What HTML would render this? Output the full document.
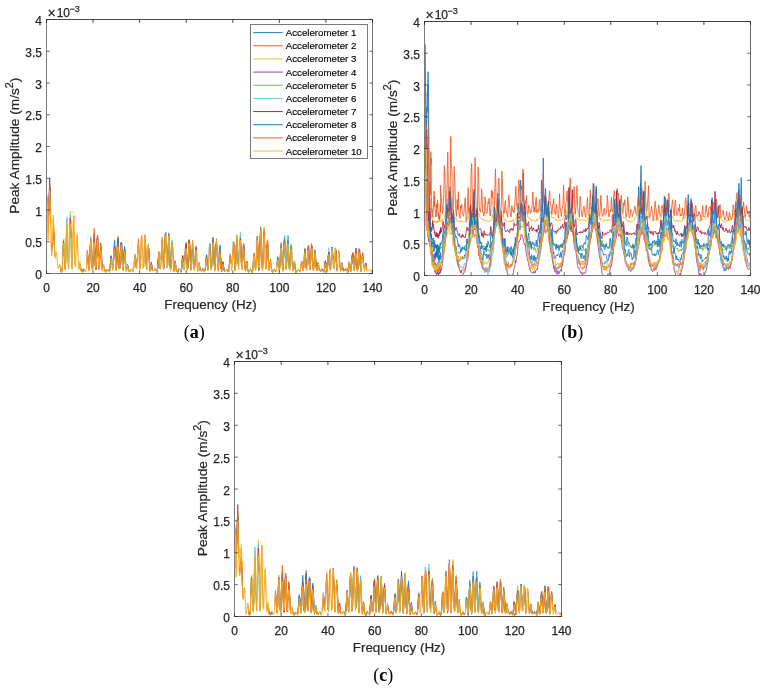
<!DOCTYPE html>
<html><head><meta charset="utf-8"><style>
html,body{margin:0;padding:0;background:#fff;}
svg{display:block;will-change:transform;}
.tk{font-family:"Liberation Sans", sans-serif;font-size:12px;fill:#262626;stroke:#262626;stroke-width:0.25px;}
.lb{font-family:"Liberation Sans", sans-serif;font-size:13.7px;fill:#262626;stroke:#262626;stroke-width:0.2px;}
.lbx{font-family:"Liberation Sans", sans-serif;font-size:13.45px;fill:#262626;stroke:#262626;stroke-width:0.2px;}
.lg{font-family:"Liberation Sans", sans-serif;font-size:9.7px;fill:#000;stroke:#000;stroke-width:0.15px;}
.cap{font-family:"Liberation Serif", serif;font-size:18px;fill:#000;}
</style></head><body>
<svg width="765" height="688" viewBox="0 0 765 688">
<rect width="765" height="688" fill="#fff"/>
<defs>
<clipPath id="clip0"><rect x="46.50" y="19.50" width="326.00" height="254.00"/></clipPath>
<clipPath id="clip1"><rect x="424.50" y="21.50" width="326.00" height="254.00"/></clipPath>
<clipPath id="clip2"><rect x="234.50" y="361.50" width="327.00" height="255.00"/></clipPath>
</defs>
<g clip-path="url(#clip0)" fill="none" stroke-linejoin="round">
<polyline points="46.5,195.8 46.7,199.6" stroke="#1a7fd2" stroke-width="0.7"/>
<polyline points="48.5,224.7 48.6,216.8 48.8,209.0 48.9,201.2 49.1,198.2 49.3,195.2 49.4,192.2 49.6,189.2 49.8,186.2 49.9,193.1 50.1,199.9 50.2,206.7" stroke="#1a7fd2" stroke-width="0.7"/>
<polyline points="64.5,260.5 65.1,269.1 65.7,262.1 66.3,235.1 66.9,225.8 67.5,234.8 68.0,257.6 68.6,268.5" stroke="#1a7fd2" stroke-width="0.7"/>
<polyline points="80.3,267.0 80.8,269.8 81.4,270.3 82.0,272.1 82.6,271.6 83.2,269.7 83.8,270.3" stroke="#1a7fd2" stroke-width="0.7"/>
<polyline points="87.2,254.0 87.8,254.4 88.4,266.9" stroke="#1a7fd2" stroke-width="0.7"/>
<polyline points="89.6,265.3 90.2,248.2 90.7,240.8" stroke="#1a7fd2" stroke-width="0.7"/>
<polyline points="91.9,265.9 92.5,268.8 93.1,261.2 93.7,239.9 94.2,239.6 94.8,250.7 95.4,265.9 96.0,268.7 96.6,259.0 97.1,238.2 97.7,237.6 98.3,252.0 98.9,268.7" stroke="#1a7fd2" stroke-width="0.7"/>
<polyline points="100.1,257.8 100.6,243.3 101.2,250.9" stroke="#1a7fd2" stroke-width="0.7"/>
<polyline points="105.9,272.3 106.5,271.3 107.0,269.2 107.6,269.4" stroke="#1a7fd2" stroke-width="0.7"/>
<polyline points="110.0,270.5 110.5,261.7 111.1,256.3 111.7,258.5 112.3,268.2" stroke="#1a7fd2" stroke-width="0.7"/>
<polyline points="113.4,264.9 114.0,250.0 114.6,245.9 115.2,252.0 115.8,267.1 116.4,270.4 116.9,259.2 117.5,242.8 118.1,240.6 118.7,254.9 119.3,266.8 119.9,268.4 120.4,255.5 121.0,245.7 121.6,242.4 122.2,259.4 122.8,269.0 123.3,269.2 123.9,258.2 124.5,249.3 125.1,254.7 125.7,261.8 126.3,271.6" stroke="#1a7fd2" stroke-width="0.7"/>
<polyline points="127.4,264.3 128.0,266.9 128.6,269.9" stroke="#1a7fd2" stroke-width="0.7"/>
<polyline points="131.5,269.8 132.1,268.9 132.7,271.6" stroke="#1a7fd2" stroke-width="0.7"/>
<polyline points="146.0,260.6 146.6,268.9 147.2,269.1" stroke="#1a7fd2" stroke-width="0.7"/>
<polyline points="149.0,252.9 149.5,265.0 150.1,271.3 150.7,268.9 151.3,262.3 151.9,267.0" stroke="#1a7fd2" stroke-width="0.7"/>
<polyline points="155.9,270.4 156.5,270.5 157.1,272.7 157.7,268.1 158.3,259.2 158.9,252.0" stroke="#1a7fd2" stroke-width="0.7"/>
<polyline points="161.2,259.2 161.8,241.5 162.3,239.5 162.9,253.5 163.5,269.0" stroke="#1a7fd2" stroke-width="0.7"/>
<polyline points="164.7,253.4 165.3,237.2 165.8,232.3 166.4,254.0" stroke="#1a7fd2" stroke-width="0.7"/>
<polyline points="167.6,265.9 168.2,246.1 168.8,239.9 169.3,239.1 169.9,257.1 170.5,269.7 171.1,266.1 171.7,249.0 172.2,245.0" stroke="#1a7fd2" stroke-width="0.7"/>
<polyline points="178.1,271.4 178.6,269.0 179.2,268.2" stroke="#1a7fd2" stroke-width="0.7"/>
<polyline points="181.0,271.6 181.6,267.0 182.1,261.9 182.7,256.4 183.3,262.0" stroke="#1a7fd2" stroke-width="0.7"/>
<polyline points="185.0,259.9 185.6,247.7 186.2,246.0 186.8,259.3" stroke="#1a7fd2" stroke-width="0.7"/>
<polyline points="188.5,251.0 189.1,240.4 189.7,246.0 190.3,260.0 190.9,269.5 191.5,265.5 192.0,249.8 192.6,240.1 193.2,246.8 193.8,264.8" stroke="#1a7fd2" stroke-width="0.7"/>
<polyline points="194.9,266.0 195.5,251.1 196.1,245.9 196.7,255.8" stroke="#1a7fd2" stroke-width="0.7"/>
<polyline points="206.0,261.1 206.6,255.7 207.2,263.7 207.8,270.4" stroke="#1a7fd2" stroke-width="0.7"/>
<polyline points="209.5,246.0 210.1,247.7 210.7,261.0" stroke="#1a7fd2" stroke-width="0.7"/>
<polyline points="212.4,251.9 213.0,240.6 213.6,242.8 214.2,260.3 214.7,270.1 215.3,265.5 215.9,249.0 216.5,240.1" stroke="#1a7fd2" stroke-width="0.7"/>
<polyline points="219.4,253.6 220.0,246.9 220.6,257.2 221.1,268.4" stroke="#1a7fd2" stroke-width="0.7"/>
<polyline points="222.9,263.9 223.5,266.2 224.1,270.9" stroke="#1a7fd2" stroke-width="0.7"/>
<polyline points="228.7,272.1 229.3,264.9 229.9,259.8 230.5,257.4" stroke="#1a7fd2" stroke-width="0.7"/>
<polyline points="232.8,254.9 233.4,242.2 233.9,248.0" stroke="#1a7fd2" stroke-width="0.7"/>
<polyline points="235.7,264.0 236.3,245.9 236.9,239.8 237.4,243.1 238.0,262.9" stroke="#1a7fd2" stroke-width="0.7"/>
<polyline points="240.4,239.6 240.9,247.0 241.5,265.1" stroke="#1a7fd2" stroke-width="0.7"/>
<polyline points="242.7,261.7 243.3,245.4 243.8,244.4 244.4,257.5 245.0,268.9 245.6,271.1 246.2,263.2 246.8,261.2 247.3,267.1 247.9,269.6 248.5,272.2 249.1,270.8 249.7,272.1" stroke="#1a7fd2" stroke-width="0.7"/>
<polyline points="250.8,270.2 251.4,270.7 252.0,270.7" stroke="#1a7fd2" stroke-width="0.7"/>
<polyline points="253.7,256.1 254.3,253.9 254.9,263.1 255.5,270.3" stroke="#1a7fd2" stroke-width="0.7"/>
<polyline points="256.7,251.5 257.2,236.0 257.8,247.3 258.4,261.9 259.0,269.2 259.6,260.4 260.1,241.3 260.7,226.8 261.3,245.8 261.9,262.7 262.5,269.2 263.1,258.3 263.6,235.9 264.2,228.2 264.8,248.4" stroke="#1a7fd2" stroke-width="0.7"/>
<polyline points="266.6,259.3 267.1,244.4 267.7,244.8 268.3,256.7 268.9,269.0 269.5,269.2 270.0,261.8 270.6,260.6" stroke="#1a7fd2" stroke-width="0.7"/>
<polyline points="272.4,272.0 273.0,270.8 273.5,270.0" stroke="#1a7fd2" stroke-width="0.7"/>
<polyline points="277.0,266.4 277.6,257.2 278.2,258.7 278.8,267.0 279.4,270.2 279.9,266.3 280.5,253.6 281.1,246.0 281.7,249.8 282.3,265.0" stroke="#1a7fd2" stroke-width="0.7"/>
<polyline points="283.4,261.4 284.0,241.7 284.6,235.9 285.2,251.4 285.8,264.0 286.3,269.5 286.9,258.8 287.5,242.8 288.1,235.5 288.7,252.1 289.3,267.0 289.8,269.0 290.4,256.1 291.0,244.4 291.6,247.3 292.2,260.9 292.7,270.0 293.3,270.4" stroke="#1a7fd2" stroke-width="0.7"/>
<polyline points="294.5,262.7 295.1,266.8 295.7,273.2" stroke="#1a7fd2" stroke-width="0.7"/>
<polyline points="305.0,256.2 305.6,258.3 306.1,268.8" stroke="#1a7fd2" stroke-width="0.7"/>
<polyline points="307.9,249.9 308.5,247.0 309.0,257.5 309.6,268.9" stroke="#1a7fd2" stroke-width="0.7"/>
<polyline points="315.4,257.9 316.0,264.4 316.6,271.0 317.2,269.7 317.8,264.0 318.4,263.5" stroke="#1a7fd2" stroke-width="0.7"/>
<polyline points="320.7,271.8 321.3,269.4 321.9,270.4" stroke="#1a7fd2" stroke-width="0.7"/>
<polyline points="323.6,272.3 324.2,270.8 324.8,267.3 325.3,261.7 325.9,265.2 326.5,269.7 327.1,270.9 327.7,264.3 328.3,255.5 328.8,252.7 329.4,259.7" stroke="#1a7fd2" stroke-width="0.7"/>
<polyline points="330.6,269.2 331.2,260.0 331.8,248.5 332.3,248.5 332.9,258.6" stroke="#1a7fd2" stroke-width="0.7"/>
<polyline points="335.2,250.5 335.8,250.4 336.4,263.4 337.0,269.1 337.6,269.1" stroke="#1a7fd2" stroke-width="0.7"/>
<polyline points="340.5,271.4 341.1,268.9 341.6,263.5 342.2,263.5 342.8,267.8 343.4,270.2" stroke="#1a7fd2" stroke-width="0.7"/>
<polyline points="345.1,270.4 345.7,269.2 346.3,270.0" stroke="#1a7fd2" stroke-width="0.7"/>
<polyline points="347.5,272.8 348.1,270.5 348.6,266.3" stroke="#1a7fd2" stroke-width="0.7"/>
<polyline points="351.5,264.9 352.1,255.7 352.7,253.0 353.3,260.3 353.9,269.7 354.5,268.7 355.0,259.7 355.6,248.5 356.2,250.4 356.8,261.0 357.4,269.5 357.9,268.2 358.5,257.3 359.1,249.7 359.7,249.1 360.3,263.9 360.9,269.9 361.4,268.3 362.0,257.3 362.6,253.4 363.2,256.0 363.8,267.8" stroke="#1a7fd2" stroke-width="0.7"/>
<polyline points="365.5,265.0 366.1,263.7 366.7,269.0" stroke="#1a7fd2" stroke-width="0.7"/>
<polyline points="46.5,196.7 46.7,200.9" stroke="#f2621c" stroke-width="0.8"/>
<polyline points="49.4,195.7 49.6,192.4 49.8,189.1 49.9,196.0" stroke="#f2621c" stroke-width="0.8"/>
<polyline points="61.3,272.2 61.5,269.4 61.7,271.0 61.8,271.0 62.0,270.0 62.1,269.2 62.3,269.9" stroke="#f2621c" stroke-width="0.8"/>
<polyline points="80.3,266.7 80.8,270.2 81.4,271.5" stroke="#f2621c" stroke-width="0.8"/>
<polyline points="82.6,271.6 83.2,269.5 83.8,271.4" stroke="#f2621c" stroke-width="0.8"/>
<polyline points="87.8,258.1 88.4,264.1 89.0,270.6" stroke="#f2621c" stroke-width="0.8"/>
<polyline points="91.3,248.7 91.9,263.5 92.5,270.3 93.1,259.1 93.7,242.9 94.2,234.1 94.8,250.6 95.4,265.4 96.0,268.7 96.6,257.5 97.1,239.1 97.7,238.1 98.3,254.6 98.9,267.3 99.5,268.6" stroke="#f2621c" stroke-width="0.8"/>
<polyline points="100.6,249.5 101.2,248.2 101.8,262.4 102.4,269.9 103.0,270.7" stroke="#f2621c" stroke-width="0.8"/>
<polyline points="110.5,262.7 111.1,256.5 111.7,258.7 112.3,267.2" stroke="#f2621c" stroke-width="0.8"/>
<polyline points="114.0,251.8 114.6,246.0 115.2,253.9 115.8,264.4 116.4,269.9 116.9,260.8 117.5,244.0 118.1,236.1 118.7,253.4 119.3,267.1 119.9,268.6 120.4,257.9 121.0,243.3 121.6,243.4 122.2,258.1 122.8,269.6 123.3,269.2 123.9,255.3 124.5,247.2 125.1,254.1" stroke="#f2621c" stroke-width="0.8"/>
<polyline points="126.3,271.1 126.8,268.3 127.4,265.8 128.0,266.1 128.6,271.3 129.2,271.0 129.7,270.6 130.3,271.5" stroke="#f2621c" stroke-width="0.8"/>
<polyline points="131.5,270.5 132.1,269.3 132.7,270.9" stroke="#f2621c" stroke-width="0.8"/>
<polyline points="135.0,257.5 135.6,258.8 136.2,267.9" stroke="#f2621c" stroke-width="0.8"/>
<polyline points="149.0,251.4 149.5,264.9 150.1,270.6" stroke="#f2621c" stroke-width="0.8"/>
<polyline points="151.3,264.8 151.9,266.2 152.4,270.0" stroke="#f2621c" stroke-width="0.8"/>
<polyline points="155.4,268.3 155.9,269.5 156.5,270.6 157.1,271.6" stroke="#f2621c" stroke-width="0.8"/>
<polyline points="158.9,254.5 159.4,257.1 160.0,269.0" stroke="#f2621c" stroke-width="0.8"/>
<polyline points="161.2,258.9 161.8,243.3 162.3,239.8 162.9,252.9 163.5,269.8" stroke="#f2621c" stroke-width="0.8"/>
<polyline points="165.3,237.6 165.8,233.2 166.4,254.1" stroke="#f2621c" stroke-width="0.8"/>
<polyline points="167.6,265.6 168.2,248.0 168.8,238.9 169.3,240.1 169.9,258.1 170.5,268.8 171.1,265.1" stroke="#f2621c" stroke-width="0.8"/>
<polyline points="173.4,265.5 174.0,269.9 174.6,267.2 175.2,261.0 175.7,265.8 176.3,270.7 176.9,270.8 177.5,271.4 178.1,270.6 178.6,268.7 179.2,269.6" stroke="#f2621c" stroke-width="0.8"/>
<polyline points="181.0,271.4 181.6,267.0 182.1,259.3 182.7,257.5 183.3,260.3 183.9,269.0" stroke="#f2621c" stroke-width="0.8"/>
<polyline points="185.0,261.3 185.6,244.1 186.2,242.4 186.8,257.8 187.4,268.7 188.0,267.0 188.5,252.3 189.1,241.9 189.7,245.6 190.3,257.1 190.9,269.0 191.5,265.9" stroke="#f2621c" stroke-width="0.8"/>
<polyline points="193.2,248.5 193.8,262.6 194.4,270.3" stroke="#f2621c" stroke-width="0.8"/>
<polyline points="195.5,253.4 196.1,247.2 196.7,255.6" stroke="#f2621c" stroke-width="0.8"/>
<polyline points="199.0,264.2 199.6,266.1 200.2,270.1" stroke="#f2621c" stroke-width="0.8"/>
<polyline points="202.5,270.3 203.1,268.7 203.7,269.8 204.3,271.3 204.8,271.7 205.4,268.2 206.0,258.9 206.6,256.7 207.2,264.3 207.8,270.1" stroke="#f2621c" stroke-width="0.8"/>
<polyline points="209.5,245.8 210.1,243.9 210.7,261.2" stroke="#f2621c" stroke-width="0.8"/>
<polyline points="213.0,244.0 213.6,244.7 214.2,261.1 214.7,269.2 215.3,263.9 215.9,248.1 216.5,243.3 217.1,249.8 217.7,263.6 218.2,271.3 218.8,263.5 219.4,250.7 220.0,247.1 220.6,257.4 221.1,269.5" stroke="#f2621c" stroke-width="0.8"/>
<polyline points="222.3,267.7 222.9,261.9 223.5,266.2 224.1,270.7" stroke="#f2621c" stroke-width="0.8"/>
<polyline points="228.7,272.0 229.3,264.9 229.9,260.4 230.5,255.3 231.0,262.7" stroke="#f2621c" stroke-width="0.8"/>
<polyline points="233.4,243.7 233.9,242.5 234.5,261.7 235.1,270.3 235.7,263.4" stroke="#f2621c" stroke-width="0.8"/>
<polyline points="236.9,235.2 237.4,238.8 238.0,260.2 238.6,269.8" stroke="#f2621c" stroke-width="0.8"/>
<polyline points="239.8,247.0 240.4,239.1 240.9,246.4 241.5,266.3" stroke="#f2621c" stroke-width="0.8"/>
<polyline points="243.3,249.6 243.8,243.4 244.4,256.8 245.0,268.7 245.6,269.9 246.2,265.6 246.8,261.8 247.3,268.2" stroke="#f2621c" stroke-width="0.8"/>
<polyline points="250.8,270.0 251.4,270.6 252.0,272.2" stroke="#f2621c" stroke-width="0.8"/>
<polyline points="253.7,255.2 254.3,254.8 254.9,262.7 255.5,269.7" stroke="#f2621c" stroke-width="0.8"/>
<polyline points="257.2,241.1 257.8,244.4 258.4,261.9 259.0,269.6 259.6,262.1 260.1,236.4 260.7,231.7" stroke="#f2621c" stroke-width="0.8"/>
<polyline points="263.6,241.2 264.2,233.7 264.8,248.4" stroke="#f2621c" stroke-width="0.8"/>
<polyline points="266.6,260.5 267.1,243.9 267.7,242.0 268.3,257.2 268.9,268.3 269.5,270.6" stroke="#f2621c" stroke-width="0.8"/>
<polyline points="271.2,267.3 271.8,269.4 272.4,272.7 273.0,271.5 273.5,270.8" stroke="#f2621c" stroke-width="0.8"/>
<polyline points="282.3,265.7 282.9,270.2 283.4,264.6" stroke="#f2621c" stroke-width="0.8"/>
<polyline points="285.2,254.0 285.8,265.4 286.3,270.0" stroke="#f2621c" stroke-width="0.8"/>
<polyline points="288.7,258.0 289.3,267.5 289.8,270.6" stroke="#f2621c" stroke-width="0.8"/>
<polyline points="295.7,271.5 296.2,270.0 296.8,272.4" stroke="#f2621c" stroke-width="0.8"/>
<polyline points="299.7,271.7 300.3,270.4 300.9,266.9 301.5,261.7 302.1,262.9 302.6,267.0" stroke="#f2621c" stroke-width="0.8"/>
<polyline points="303.8,267.7 304.4,254.2 305.0,248.8 305.6,258.1 306.1,267.2" stroke="#f2621c" stroke-width="0.8"/>
<polyline points="307.9,249.5 308.5,245.6 309.0,254.6 309.6,268.1" stroke="#f2621c" stroke-width="0.8"/>
<polyline points="310.8,260.2 311.4,243.5 312.0,246.7 312.5,259.0 313.1,269.1 313.7,270.8 314.3,258.5 314.9,253.9 315.4,256.5 316.0,263.3 316.6,269.3 317.2,270.2 317.8,264.4 318.4,262.3" stroke="#f2621c" stroke-width="0.8"/>
<polyline points="324.8,267.3 325.3,262.5 325.9,263.1 326.5,269.2" stroke="#f2621c" stroke-width="0.8"/>
<polyline points="340.5,270.0 341.1,268.8 341.6,264.9 342.2,264.8 342.8,268.4 343.4,270.3" stroke="#f2621c" stroke-width="0.8"/>
<polyline points="345.1,269.8 345.7,269.5 346.3,270.4" stroke="#f2621c" stroke-width="0.8"/>
<polyline points="347.5,270.5 348.1,271.4 348.6,266.9" stroke="#f2621c" stroke-width="0.8"/>
<polyline points="350.4,270.2 351.0,270.5 351.5,266.1 352.1,257.4 352.7,254.1 353.3,262.5 353.9,268.2 354.5,269.3" stroke="#f2621c" stroke-width="0.8"/>
<polyline points="355.6,254.6 356.2,251.6 356.8,263.7 357.4,270.4 357.9,268.6 358.5,258.7 359.1,250.4 359.7,254.0 360.3,263.8 360.9,270.9" stroke="#f2621c" stroke-width="0.8"/>
<polyline points="46.5,192.0 46.7,196.0 46.8,200.0 47.0,204.0" stroke="#fbb41a" stroke-width="0.7"/>
<polyline points="48.3,233.0 48.5,224.4 48.6,215.8 48.8,207.3 48.9,198.7 49.1,195.7 49.3,192.7 49.4,189.7 49.6,186.8 49.8,183.8 49.9,189.8 50.1,195.9 50.2,201.9 50.4,208.0 50.6,214.0 50.7,221.2 50.9,228.4 51.1,235.6 51.2,242.8 51.4,250.0 51.6,254.4 51.7,251.7 51.9,248.9 52.0,246.2 52.2,243.5 52.4,240.1 52.5,235.1 52.7,230.1 52.9,225.1 53.0,220.1 53.2,215.0 53.3,215.3 53.5,219.5 53.7,223.8 53.8,228.0 54.0,232.3 54.2,236.8 54.3,241.5 54.5,246.2 54.7,250.9 54.8,255.6 55.0,257.4" stroke="#fbb41a" stroke-width="0.7"/>
<polyline points="59.4,265.5 59.5,264.3 59.7,264.4" stroke="#fbb41a" stroke-width="0.7"/>
<polyline points="60.0,266.0 60.2,266.1 60.4,266.6 60.5,268.1 60.7,268.2 60.8,269.4" stroke="#fbb41a" stroke-width="0.7"/>
<polyline points="61.3,270.9 61.5,271.5 61.7,272.2" stroke="#fbb41a" stroke-width="0.7"/>
<polyline points="62.6,260.7 62.8,253.7 63.4,241.5 64.0,238.9 64.5,257.2 65.1,267.8 65.7,262.0 66.3,235.6 66.9,218.9 67.5,228.9 68.0,256.8 68.6,269.1 69.2,256.7 69.8,218.9 70.4,211.1 71.0,234.1 71.5,259.3 72.1,268.0 72.7,250.9 73.3,221.8 73.9,216.5 74.4,240.4 75.0,265.3" stroke="#fbb41a" stroke-width="0.7"/>
<polyline points="76.8,236.7 77.4,233.3 77.9,254.6" stroke="#fbb41a" stroke-width="0.7"/>
<polyline points="79.1,270.2 79.7,261.0 80.3,264.4 80.8,271.1" stroke="#fbb41a" stroke-width="0.7"/>
<polyline points="82.6,272.9 83.2,269.8 83.8,270.8" stroke="#fbb41a" stroke-width="0.7"/>
<polyline points="87.2,254.4 87.8,253.6 88.4,265.0 89.0,269.1 89.6,263.1 90.2,247.4 90.7,238.9 91.3,246.6 91.9,265.1" stroke="#fbb41a" stroke-width="0.7"/>
<polyline points="93.7,244.5 94.2,234.5 94.8,249.7 95.4,266.1 96.0,269.5 96.6,257.6 97.1,241.3 97.7,239.7" stroke="#fbb41a" stroke-width="0.7"/>
<polyline points="100.6,248.5 101.2,250.4 101.8,260.1 102.4,270.6" stroke="#fbb41a" stroke-width="0.7"/>
<polyline points="104.1,266.3 104.7,269.6 105.3,271.1" stroke="#fbb41a" stroke-width="0.7"/>
<polyline points="110.5,263.3 111.1,257.3 111.7,261.0" stroke="#fbb41a" stroke-width="0.7"/>
<polyline points="114.0,254.2 114.6,246.3 115.2,257.0" stroke="#fbb41a" stroke-width="0.7"/>
<polyline points="116.9,261.8 117.5,245.6 118.1,246.1 118.7,255.4 119.3,269.8" stroke="#fbb41a" stroke-width="0.7"/>
<polyline points="120.4,258.3 121.0,244.2 121.6,244.7 122.2,259.7 122.8,269.4 123.3,268.2 123.9,258.9 124.5,252.1" stroke="#fbb41a" stroke-width="0.7"/>
<polyline points="127.4,266.0 128.0,266.6 128.6,271.1" stroke="#fbb41a" stroke-width="0.7"/>
<polyline points="131.5,269.8 132.1,268.6 132.7,272.2" stroke="#fbb41a" stroke-width="0.7"/>
<polyline points="135.0,257.6 135.6,258.5 136.2,267.8" stroke="#fbb41a" stroke-width="0.7"/>
<polyline points="139.1,257.1 139.6,266.6 140.2,268.7 140.8,255.6" stroke="#fbb41a" stroke-width="0.7"/>
<polyline points="147.8,255.7 148.4,243.5 149.0,254.3" stroke="#fbb41a" stroke-width="0.7"/>
<polyline points="157.7,267.3 158.3,257.8 158.9,253.2" stroke="#fbb41a" stroke-width="0.7"/>
<polyline points="161.2,258.3 161.8,240.2 162.3,241.0 162.9,251.7 163.5,269.6 164.1,267.1 164.7,251.1 165.3,238.6" stroke="#fbb41a" stroke-width="0.7"/>
<polyline points="167.6,265.7 168.2,247.1 168.8,235.0 169.3,243.2 169.9,261.3 170.5,268.8 171.1,264.3 171.7,251.0 172.2,240.0 172.8,252.4" stroke="#fbb41a" stroke-width="0.7"/>
<polyline points="176.9,271.9 177.5,271.1 178.1,270.1" stroke="#fbb41a" stroke-width="0.7"/>
<polyline points="181.0,271.3 181.6,268.6 182.1,260.8 182.7,257.7 183.3,262.4" stroke="#fbb41a" stroke-width="0.7"/>
<polyline points="185.6,248.9 186.2,247.2 186.8,260.0 187.4,269.2 188.0,268.1 188.5,257.4 189.1,239.2 189.7,244.0 190.3,261.7 190.9,269.5 191.5,265.6 192.0,252.8" stroke="#fbb41a" stroke-width="0.7"/>
<polyline points="193.8,265.2 194.4,269.6 194.9,265.4" stroke="#fbb41a" stroke-width="0.7"/>
<polyline points="199.0,264.4 199.6,266.1 200.2,269.5" stroke="#fbb41a" stroke-width="0.7"/>
<polyline points="201.3,271.1 201.9,269.8 202.5,270.6" stroke="#fbb41a" stroke-width="0.7"/>
<polyline points="205.4,266.5 206.0,259.6 206.6,255.0 207.2,263.8 207.8,269.7" stroke="#fbb41a" stroke-width="0.7"/>
<polyline points="209.5,248.2 210.1,245.9 210.7,261.2 211.2,269.5 211.8,266.1 212.4,251.9 213.0,240.7 213.6,247.7 214.2,261.8 214.7,270.4" stroke="#fbb41a" stroke-width="0.7"/>
<polyline points="215.9,251.0 216.5,238.8 217.1,248.6 217.7,264.6" stroke="#fbb41a" stroke-width="0.7"/>
<polyline points="219.4,252.3 220.0,247.9 220.6,258.2 221.1,268.2" stroke="#fbb41a" stroke-width="0.7"/>
<polyline points="222.9,263.1 223.5,266.6 224.1,271.0" stroke="#fbb41a" stroke-width="0.7"/>
<polyline points="225.2,271.5 225.8,269.7 226.4,270.1 227.0,269.3 227.5,269.9 228.1,272.4" stroke="#fbb41a" stroke-width="0.7"/>
<polyline points="247.3,268.8 247.9,270.5 248.5,272.8 249.1,270.8 249.7,270.5 250.2,267.5 250.8,269.9 251.4,271.1 252.0,272.3 252.6,272.7 253.2,264.3 253.7,255.2 254.3,254.1 254.9,264.6 255.5,269.5 256.1,264.6 256.7,250.7" stroke="#fbb41a" stroke-width="0.7"/>
<polyline points="257.8,247.1 258.4,260.8 259.0,270.3 259.6,260.8 260.1,240.9 260.7,228.8 261.3,241.8 261.9,262.2 262.5,268.2 263.1,257.7 263.6,235.5 264.2,226.6 264.8,248.0" stroke="#fbb41a" stroke-width="0.7"/>
<polyline points="266.0,269.0 266.6,255.9 267.1,246.6 267.7,239.2 268.3,258.1 268.9,269.4 269.5,269.4 270.0,262.4 270.6,260.3" stroke="#fbb41a" stroke-width="0.7"/>
<polyline points="272.4,272.5 273.0,271.6 273.5,270.3" stroke="#fbb41a" stroke-width="0.7"/>
<polyline points="277.0,267.4 277.6,258.7 278.2,260.4" stroke="#fbb41a" stroke-width="0.7"/>
<polyline points="279.4,271.8 279.9,265.1 280.5,253.8 281.1,242.3 281.7,253.4 282.3,265.0 282.9,269.8 283.4,260.5 284.0,242.5 284.6,239.1 285.2,249.6 285.8,265.4 286.3,269.3 286.9,258.0 287.5,242.5 288.1,242.1 288.7,253.3 289.3,267.8 289.8,268.2 290.4,257.4 291.0,246.3 291.6,250.9 292.2,260.5 292.7,271.2 293.3,268.6 293.9,263.4 294.5,261.2 295.1,267.3 295.7,270.2 296.2,272.2 296.8,271.0" stroke="#fbb41a" stroke-width="0.7"/>
<polyline points="298.0,271.2 298.6,268.7 299.1,270.6" stroke="#fbb41a" stroke-width="0.7"/>
<polyline points="305.0,256.1 305.6,258.7 306.1,267.9" stroke="#fbb41a" stroke-width="0.7"/>
<polyline points="314.9,256.4 315.4,257.4 316.0,266.9 316.6,270.3 317.2,268.3 317.8,265.7" stroke="#fbb41a" stroke-width="0.7"/>
<polyline points="323.0,271.4 323.6,271.1 324.2,270.4 324.8,267.4" stroke="#fbb41a" stroke-width="0.7"/>
<polyline points="326.5,269.1 327.1,270.0 327.7,267.6 328.3,257.9 328.8,251.7 329.4,259.5" stroke="#fbb41a" stroke-width="0.7"/>
<polyline points="330.6,269.4 331.2,260.7 331.8,251.1 332.3,249.1 332.9,259.2" stroke="#fbb41a" stroke-width="0.7"/>
<polyline points="335.8,252.1 336.4,263.1 337.0,270.4" stroke="#fbb41a" stroke-width="0.7"/>
<polyline points="340.5,271.0 341.1,268.2 341.6,265.2" stroke="#fbb41a" stroke-width="0.7"/>
<polyline points="344.6,271.1 345.1,269.2 345.7,270.5" stroke="#fbb41a" stroke-width="0.7"/>
<polyline points="347.5,271.9 348.1,270.4 348.6,268.0" stroke="#fbb41a" stroke-width="0.7"/>
<polyline points="350.4,269.7 351.0,269.3 351.5,265.1 352.1,255.6 352.7,257.4 353.3,263.7 353.9,268.7 354.5,270.1" stroke="#fbb41a" stroke-width="0.7"/>
<polyline points="356.2,254.3 356.8,262.4 357.4,269.4 357.9,269.2" stroke="#fbb41a" stroke-width="0.7"/>
<polyline points="359.7,255.9 360.3,264.7 360.9,271.7" stroke="#fbb41a" stroke-width="0.7"/>
<polyline points="364.9,269.2 365.5,263.6 366.1,265.1" stroke="#fbb41a" stroke-width="0.7"/>
<polyline points="46.5,197.8 46.7,201.2" stroke="#8e3c9e" stroke-width="0.7"/>
<polyline points="48.6,217.5 48.8,209.4 48.9,201.4 49.1,198.9 49.3,196.4 49.4,193.9 49.6,191.3 49.8,188.8 49.9,194.5 50.1,200.1 50.2,205.8 50.4,211.5 50.6,217.1" stroke="#8e3c9e" stroke-width="0.7"/>
<polyline points="54.0,236.0 54.2,239.8 54.3,244.1" stroke="#8e3c9e" stroke-width="0.7"/>
<polyline points="60.8,269.9 61.0,269.0 61.2,269.5 61.3,272.3 61.5,271.6 61.7,270.9" stroke="#8e3c9e" stroke-width="0.7"/>
<polyline points="80.3,266.4 80.8,268.4 81.4,271.1" stroke="#8e3c9e" stroke-width="0.7"/>
<polyline points="87.8,256.2 88.4,265.2 89.0,269.4 89.6,264.5 90.2,247.8 90.7,242.6 91.3,247.2 91.9,265.8 92.5,269.6 93.1,259.0 93.7,239.2 94.2,235.7 94.8,248.4 95.4,265.9 96.0,269.7 96.6,257.1 97.1,239.3 97.7,237.8 98.3,253.6 98.9,268.1" stroke="#8e3c9e" stroke-width="0.7"/>
<polyline points="100.1,255.7 100.6,247.2 101.2,251.3 101.8,261.1 102.4,271.3" stroke="#8e3c9e" stroke-width="0.7"/>
<polyline points="104.1,266.6 104.7,269.6 105.3,272.2" stroke="#8e3c9e" stroke-width="0.7"/>
<polyline points="110.0,269.7 110.5,262.3 111.1,257.2 111.7,260.9" stroke="#8e3c9e" stroke-width="0.7"/>
<polyline points="114.6,250.0 115.2,255.3 115.8,268.2" stroke="#8e3c9e" stroke-width="0.7"/>
<polyline points="116.9,262.8 117.5,244.1 118.1,245.1 118.7,255.5 119.3,268.9 119.9,267.5 120.4,259.7" stroke="#8e3c9e" stroke-width="0.7"/>
<polyline points="122.2,261.6 122.8,269.5 123.3,269.0" stroke="#8e3c9e" stroke-width="0.7"/>
<polyline points="127.4,266.0 128.0,267.0 128.6,270.1 129.2,271.0 129.7,270.5 130.3,271.9" stroke="#8e3c9e" stroke-width="0.7"/>
<polyline points="133.8,268.3 134.4,259.7 135.0,255.2 135.6,258.7 136.2,266.4" stroke="#8e3c9e" stroke-width="0.7"/>
<polyline points="138.5,246.5 139.1,250.2 139.6,267.8 140.2,268.5 140.8,255.8" stroke="#8e3c9e" stroke-width="0.7"/>
<polyline points="143.7,266.9 144.3,249.8 144.9,234.7 145.5,244.1 146.0,256.8 146.6,269.6" stroke="#8e3c9e" stroke-width="0.7"/>
<polyline points="147.8,253.7 148.4,244.8 149.0,253.1 149.5,263.8 150.1,270.7" stroke="#8e3c9e" stroke-width="0.7"/>
<polyline points="157.7,268.7 158.3,259.0 158.9,255.5" stroke="#8e3c9e" stroke-width="0.7"/>
<polyline points="169.9,263.0 170.5,269.8 171.1,267.0" stroke="#8e3c9e" stroke-width="0.7"/>
<polyline points="173.4,265.4 174.0,270.6 174.6,266.8" stroke="#8e3c9e" stroke-width="0.7"/>
<polyline points="176.3,269.9 176.9,270.5 177.5,272.5 178.1,270.5 178.6,269.4 179.2,269.0" stroke="#8e3c9e" stroke-width="0.7"/>
<polyline points="181.0,271.6 181.6,269.0 182.1,261.8 182.7,256.9 183.3,262.4" stroke="#8e3c9e" stroke-width="0.7"/>
<polyline points="189.1,244.8 189.7,246.5 190.3,261.6 190.9,269.3 191.5,266.9" stroke="#8e3c9e" stroke-width="0.7"/>
<polyline points="196.7,255.3 197.3,267.1 197.9,271.6" stroke="#8e3c9e" stroke-width="0.7"/>
<polyline points="201.9,270.9 202.5,268.3 203.1,269.4 203.7,270.4 204.3,271.3 204.8,271.0 205.4,267.2 206.0,259.9 206.6,255.5 207.2,265.0" stroke="#8e3c9e" stroke-width="0.7"/>
<polyline points="217.7,264.7 218.2,268.8 218.8,263.6 219.4,254.0 220.0,251.8 220.6,258.4 221.1,268.2 221.7,270.4 222.3,266.8 222.9,262.1 223.5,269.0" stroke="#8e3c9e" stroke-width="0.7"/>
<polyline points="227.0,269.6 227.5,270.5 228.1,272.1" stroke="#8e3c9e" stroke-width="0.7"/>
<polyline points="250.8,270.0 251.4,270.7 252.0,270.5" stroke="#8e3c9e" stroke-width="0.7"/>
<polyline points="257.2,240.4 257.8,244.6 258.4,261.8 259.0,269.6 259.6,261.7 260.1,239.7 260.7,231.1 261.3,244.0 261.9,262.2 262.5,270.8 263.1,259.9 263.6,239.9 264.2,238.0" stroke="#8e3c9e" stroke-width="0.7"/>
<polyline points="265.4,266.1 266.0,268.4 266.6,257.5 267.1,246.6 267.7,244.7 268.3,257.3 268.9,268.8 269.5,268.9" stroke="#8e3c9e" stroke-width="0.7"/>
<polyline points="272.4,271.1 273.0,271.1 273.5,270.4" stroke="#8e3c9e" stroke-width="0.7"/>
<polyline points="294.5,263.3 295.1,267.2 295.7,272.0 296.2,272.3 296.8,270.9" stroke="#8e3c9e" stroke-width="0.7"/>
<polyline points="301.5,262.8 302.1,263.0 302.6,269.7" stroke="#8e3c9e" stroke-width="0.7"/>
<polyline points="314.9,254.8 315.4,256.2 316.0,265.4" stroke="#8e3c9e" stroke-width="0.7"/>
<polyline points="318.4,263.7 318.9,267.5 319.5,270.5" stroke="#8e3c9e" stroke-width="0.7"/>
<polyline points="323.0,270.9 323.6,271.5 324.2,270.3 324.8,267.3 325.3,261.0 325.9,263.0 326.5,267.8 327.1,270.7 327.7,264.9 328.3,256.7 328.8,251.8 329.4,259.3" stroke="#8e3c9e" stroke-width="0.7"/>
<polyline points="331.8,248.8 332.3,248.0 332.9,259.1" stroke="#8e3c9e" stroke-width="0.7"/>
<polyline points="335.2,251.8 335.8,251.4 336.4,260.2 337.0,270.8" stroke="#8e3c9e" stroke-width="0.7"/>
<polyline points="340.5,271.2 341.1,268.9 341.6,263.2" stroke="#8e3c9e" stroke-width="0.7"/>
<polyline points="347.5,271.2 348.1,270.7 348.6,266.1 349.2,263.6 349.8,262.8 350.4,270.3 351.0,270.5 351.5,265.6 352.1,256.8 352.7,253.4 353.3,262.1 353.9,270.3 354.5,268.9 355.0,260.9 355.6,251.9 356.2,248.0 356.8,260.7 357.4,269.5 357.9,268.6 358.5,259.3 359.1,249.0 359.7,250.8 360.3,264.2 360.9,271.1" stroke="#8e3c9e" stroke-width="0.7"/>
<polyline points="362.0,259.2 362.6,253.0 363.2,258.2 363.8,266.8" stroke="#8e3c9e" stroke-width="0.7"/>
<polyline points="365.5,264.4 366.1,264.4 366.7,269.2" stroke="#8e3c9e" stroke-width="0.7"/>
<polyline points="46.5,199.8 46.7,203.0" stroke="#80b838" stroke-width="0.7"/>
<polyline points="49.4,195.0 49.6,192.3 49.8,189.7 49.9,196.1" stroke="#80b838" stroke-width="0.7"/>
<polyline points="59.9,265.0 60.0,265.3 60.2,266.7" stroke="#80b838" stroke-width="0.7"/>
<polyline points="60.8,269.7 61.0,269.3 61.2,271.6" stroke="#80b838" stroke-width="0.7"/>
<polyline points="62.3,267.8 62.5,264.1 62.6,261.5 62.8,253.9 63.4,239.9 64.0,247.7 64.5,258.9 65.1,268.4 65.7,262.7 66.3,239.8 66.9,228.1" stroke="#80b838" stroke-width="0.7"/>
<polyline points="69.8,229.4 70.4,216.6 71.0,236.5 71.5,259.3 72.1,268.3 72.7,254.5" stroke="#80b838" stroke-width="0.7"/>
<polyline points="93.7,245.7 94.2,240.2 94.8,253.9" stroke="#80b838" stroke-width="0.7"/>
<polyline points="96.6,259.4 97.1,240.4 97.7,241.0" stroke="#80b838" stroke-width="0.7"/>
<polyline points="100.1,260.6 100.6,248.5 101.2,253.4 101.8,264.2 102.4,270.1 103.0,270.0" stroke="#80b838" stroke-width="0.7"/>
<polyline points="110.5,262.7 111.1,256.9 111.7,259.9" stroke="#80b838" stroke-width="0.7"/>
<polyline points="114.0,251.0 114.6,245.0 115.2,255.2 115.8,264.7 116.4,269.7 116.9,259.3 117.5,244.2 118.1,239.2 118.7,255.9 119.3,267.6 119.9,268.9" stroke="#80b838" stroke-width="0.7"/>
<polyline points="121.0,247.4 121.6,243.5 122.2,258.4 122.8,270.0 123.3,268.2 123.9,257.2 124.5,250.8 125.1,253.8 125.7,264.6 126.3,270.6 126.8,268.5 127.4,264.4 128.0,266.2 128.6,271.0" stroke="#80b838" stroke-width="0.7"/>
<polyline points="135.0,256.9 135.6,259.4 136.2,267.4" stroke="#80b838" stroke-width="0.7"/>
<polyline points="143.7,267.3 144.3,251.8 144.9,238.8" stroke="#80b838" stroke-width="0.7"/>
<polyline points="147.8,253.1 148.4,244.3 149.0,252.5" stroke="#80b838" stroke-width="0.7"/>
<polyline points="151.3,264.1 151.9,265.8 152.4,270.5" stroke="#80b838" stroke-width="0.7"/>
<polyline points="157.7,268.2 158.3,258.8 158.9,255.0" stroke="#80b838" stroke-width="0.7"/>
<polyline points="164.1,268.0 164.7,252.8 165.3,235.0 165.8,235.0" stroke="#80b838" stroke-width="0.7"/>
<polyline points="167.6,264.9 168.2,249.4 168.8,238.2 169.3,243.3 169.9,258.7 170.5,270.3" stroke="#80b838" stroke-width="0.7"/>
<polyline points="171.7,252.8 172.2,242.1 172.8,249.1" stroke="#80b838" stroke-width="0.7"/>
<polyline points="174.6,267.1 175.2,261.7 175.7,266.1" stroke="#80b838" stroke-width="0.7"/>
<polyline points="181.0,272.8 181.6,267.6 182.1,261.2 182.7,255.5 183.3,261.8" stroke="#80b838" stroke-width="0.7"/>
<polyline points="184.5,269.3 185.0,257.6 185.6,244.3 186.2,244.9 186.8,257.4 187.4,270.1 188.0,267.0 188.5,250.8 189.1,239.5 189.7,242.3 190.3,258.8 190.9,269.4 191.5,265.3 192.0,248.7" stroke="#80b838" stroke-width="0.7"/>
<polyline points="194.9,264.0 195.5,250.6 196.1,249.5" stroke="#80b838" stroke-width="0.7"/>
<polyline points="199.0,261.8 199.6,265.8 200.2,269.6" stroke="#80b838" stroke-width="0.7"/>
<polyline points="201.9,270.3 202.5,268.5 203.1,269.8" stroke="#80b838" stroke-width="0.7"/>
<polyline points="206.6,258.9 207.2,263.8 207.8,271.3" stroke="#80b838" stroke-width="0.7"/>
<polyline points="209.5,247.8 210.1,248.4 210.7,261.1" stroke="#80b838" stroke-width="0.7"/>
<polyline points="213.0,248.6 213.6,246.8 214.2,262.6 214.7,269.9 215.3,265.1 215.9,248.3 216.5,238.6 217.1,248.4 217.7,266.1" stroke="#80b838" stroke-width="0.7"/>
<polyline points="219.4,252.3 220.0,251.4 220.6,258.4 221.1,267.8 221.7,271.1" stroke="#80b838" stroke-width="0.7"/>
<polyline points="229.3,267.6 229.9,259.5 230.5,257.3" stroke="#80b838" stroke-width="0.7"/>
<polyline points="234.5,260.7 235.1,270.4 235.7,264.7" stroke="#80b838" stroke-width="0.7"/>
<polyline points="236.9,238.5 237.4,245.6 238.0,262.4" stroke="#80b838" stroke-width="0.7"/>
<polyline points="239.8,245.4 240.4,235.7 240.9,250.6 241.5,267.0" stroke="#80b838" stroke-width="0.7"/>
<polyline points="243.3,250.1 243.8,246.3 244.4,259.4 245.0,268.1 245.6,270.6 246.2,264.5 246.8,261.1 247.3,267.6 247.9,270.3 248.5,272.6" stroke="#80b838" stroke-width="0.7"/>
<polyline points="257.8,246.3 258.4,261.6 259.0,269.0" stroke="#80b838" stroke-width="0.7"/>
<polyline points="261.9,265.8 262.5,269.0 263.1,258.5" stroke="#80b838" stroke-width="0.7"/>
<polyline points="267.7,248.9 268.3,258.2 268.9,270.5" stroke="#80b838" stroke-width="0.7"/>
<polyline points="270.6,262.3 271.2,266.1 271.8,270.7" stroke="#80b838" stroke-width="0.7"/>
<polyline points="277.0,267.9 277.6,259.3 278.2,258.5 278.8,267.2 279.4,270.4 279.9,263.0 280.5,254.3 281.1,246.7 281.7,251.7" stroke="#80b838" stroke-width="0.7"/>
<polyline points="282.9,270.6 283.4,260.0 284.0,245.2 284.6,239.9 285.2,254.0 285.8,263.8 286.3,269.8 286.9,259.6 287.5,241.9 288.1,245.5 288.7,255.2 289.3,268.8" stroke="#80b838" stroke-width="0.7"/>
<polyline points="290.4,259.8 291.0,245.3 291.6,249.9" stroke="#80b838" stroke-width="0.7"/>
<polyline points="292.7,271.1 293.3,268.6 293.9,263.6 294.5,261.7 295.1,266.5 295.7,270.1 296.2,271.1 296.8,271.1" stroke="#80b838" stroke-width="0.7"/>
<polyline points="305.0,251.7 305.6,259.0 306.1,268.3" stroke="#80b838" stroke-width="0.7"/>
<polyline points="307.9,249.5 308.5,248.5 309.0,258.8" stroke="#80b838" stroke-width="0.7"/>
<polyline points="313.7,269.6 314.3,260.0 314.9,250.9 315.4,255.6 316.0,264.3 316.6,270.4 317.2,270.0 317.8,262.7 318.4,262.9" stroke="#80b838" stroke-width="0.7"/>
<polyline points="320.7,271.6 321.3,269.2 321.9,269.3 322.4,269.2 323.0,270.7 323.6,271.1 324.2,271.6" stroke="#80b838" stroke-width="0.7"/>
<polyline points="325.9,263.7 326.5,268.2 327.1,271.0" stroke="#80b838" stroke-width="0.7"/>
<polyline points="328.3,258.3 328.8,252.0 329.4,259.2 330.0,267.7 330.6,270.6 331.2,260.3 331.8,251.1 332.3,248.5 332.9,259.2" stroke="#80b838" stroke-width="0.7"/>
<polyline points="335.8,251.9 336.4,263.0 337.0,268.7 337.6,267.4" stroke="#80b838" stroke-width="0.7"/>
<polyline points="342.2,265.0 342.8,268.7 343.4,271.2" stroke="#80b838" stroke-width="0.7"/>
<polyline points="348.1,271.5 348.6,265.9 349.2,261.7 349.8,263.8 350.4,270.4 351.0,270.9 351.5,264.2 352.1,257.1 352.7,252.4 353.3,261.2 353.9,269.5 354.5,270.7 355.0,261.3 355.6,249.5 356.2,249.2 356.8,263.1 357.4,269.9 357.9,268.1 358.5,257.9 359.1,251.1 359.7,253.3 360.3,264.3 360.9,271.2" stroke="#80b838" stroke-width="0.7"/>
<polyline points="362.0,258.2 362.6,254.5 363.2,257.5 363.8,266.7" stroke="#80b838" stroke-width="0.7"/>
<polyline points="364.9,270.1 365.5,263.4 366.1,263.3 366.7,269.6" stroke="#80b838" stroke-width="0.7"/>
<polyline points="46.5,193.5 46.7,198.2 46.8,202.8" stroke="#4fc3f2" stroke-width="0.7"/>
<polyline points="48.9,203.1 49.1,199.9 49.3,196.7 49.4,193.6 49.6,190.4 49.8,187.2 49.9,194.5 50.1,201.7" stroke="#4fc3f2" stroke-width="0.7"/>
<polyline points="61.0,271.3 61.2,269.2 61.3,271.3 61.5,271.7 61.7,272.7 61.8,270.6 62.0,270.3 62.1,270.5 62.3,267.8 62.5,264.2 62.6,262.2 62.8,256.0 63.4,240.9 64.0,244.2" stroke="#4fc3f2" stroke-width="0.7"/>
<polyline points="65.7,262.5 66.3,236.5 66.9,216.7 67.5,236.6 68.0,256.5 68.6,268.5" stroke="#4fc3f2" stroke-width="0.7"/>
<polyline points="69.8,230.8 70.4,215.0 71.0,235.3 71.5,261.4 72.1,267.9 72.7,251.5 73.3,229.8" stroke="#4fc3f2" stroke-width="0.7"/>
<polyline points="74.4,246.1 75.0,263.9 75.6,267.3" stroke="#4fc3f2" stroke-width="0.7"/>
<polyline points="80.3,265.6 80.8,270.0 81.4,270.9" stroke="#4fc3f2" stroke-width="0.7"/>
<polyline points="87.2,254.6 87.8,254.5 88.4,263.6 89.0,270.7" stroke="#4fc3f2" stroke-width="0.7"/>
<polyline points="90.2,250.1 90.7,236.6 91.3,246.0 91.9,261.8 92.5,269.8 93.1,259.5 93.7,239.0 94.2,233.1 94.8,245.5 95.4,264.6 96.0,268.4 96.6,256.9 97.1,240.9 97.7,235.9 98.3,250.1 98.9,267.9" stroke="#4fc3f2" stroke-width="0.7"/>
<polyline points="100.1,255.7 100.6,246.0 101.2,249.3 101.8,258.3 102.4,269.5 103.0,269.8" stroke="#4fc3f2" stroke-width="0.7"/>
<polyline points="104.7,271.0 105.3,270.6 105.9,271.6 106.5,270.7 107.0,270.2 107.6,270.7 108.2,269.6 108.8,271.1 109.4,271.4 110.0,270.1 110.5,262.1 111.1,258.1" stroke="#4fc3f2" stroke-width="0.7"/>
<polyline points="114.0,251.4 114.6,241.2 115.2,251.4 115.8,266.8" stroke="#4fc3f2" stroke-width="0.7"/>
<polyline points="117.5,246.3 118.1,245.0 118.7,254.4 119.3,268.4" stroke="#4fc3f2" stroke-width="0.7"/>
<polyline points="120.4,256.8 121.0,243.9 121.6,246.4 122.2,255.8 122.8,269.0 123.3,268.1 123.9,258.4 124.5,247.6 125.1,253.2 125.7,266.3" stroke="#4fc3f2" stroke-width="0.7"/>
<polyline points="127.4,264.9 128.0,266.5 128.6,269.6" stroke="#4fc3f2" stroke-width="0.7"/>
<polyline points="132.1,270.7 132.7,270.1 133.2,271.7" stroke="#4fc3f2" stroke-width="0.7"/>
<polyline points="135.0,255.7 135.6,257.6 136.2,268.1" stroke="#4fc3f2" stroke-width="0.7"/>
<polyline points="137.3,261.8 137.9,245.5 138.5,247.7" stroke="#4fc3f2" stroke-width="0.7"/>
<polyline points="156.5,273.2 157.1,270.1 157.7,267.7 158.3,260.1 158.9,253.8" stroke="#4fc3f2" stroke-width="0.7"/>
<polyline points="160.6,269.2 161.2,257.9 161.8,241.5 162.3,240.4 162.9,252.4 163.5,266.7 164.1,269.0 164.7,250.9 165.3,232.6 165.8,240.2 166.4,249.6 167.0,267.8 167.6,265.7 168.2,248.3 168.8,238.1 169.3,238.2 169.9,258.5 170.5,269.6 171.1,265.6 171.7,248.6 172.2,240.0 172.8,249.7 173.4,264.1 174.0,270.9 174.6,267.1" stroke="#4fc3f2" stroke-width="0.7"/>
<polyline points="176.9,271.1 177.5,270.6 178.1,271.0 178.6,269.2 179.2,269.7" stroke="#4fc3f2" stroke-width="0.7"/>
<polyline points="181.0,272.5 181.6,268.7 182.1,260.4 182.7,259.1 183.3,260.5 183.9,269.7" stroke="#4fc3f2" stroke-width="0.7"/>
<polyline points="185.0,263.1 185.6,246.9 186.2,247.5 186.8,258.8 187.4,268.8 188.0,265.8 188.5,254.3" stroke="#4fc3f2" stroke-width="0.7"/>
<polyline points="190.9,269.9 191.5,265.4 192.0,251.9" stroke="#4fc3f2" stroke-width="0.7"/>
<polyline points="193.8,263.1 194.4,269.5 194.9,266.1" stroke="#4fc3f2" stroke-width="0.7"/>
<polyline points="199.0,264.4 199.6,266.5 200.2,270.0" stroke="#4fc3f2" stroke-width="0.7"/>
<polyline points="205.4,267.7 206.0,259.0 206.6,257.8 207.2,263.1 207.8,268.8 208.3,269.2" stroke="#4fc3f2" stroke-width="0.7"/>
<polyline points="209.5,248.2 210.1,245.2 210.7,258.3 211.2,270.6 211.8,266.1 212.4,252.6 213.0,237.2 213.6,247.1 214.2,261.2 214.7,268.7 215.3,264.5 215.9,245.4 216.5,242.0" stroke="#4fc3f2" stroke-width="0.7"/>
<polyline points="218.8,264.6 219.4,251.5 220.0,246.5 220.6,258.5" stroke="#4fc3f2" stroke-width="0.7"/>
<polyline points="221.7,272.2 222.3,265.8 222.9,262.9 223.5,266.1 224.1,270.8" stroke="#4fc3f2" stroke-width="0.7"/>
<polyline points="228.7,271.7 229.3,266.4 229.9,253.5 230.5,254.2 231.0,264.0" stroke="#4fc3f2" stroke-width="0.7"/>
<polyline points="233.4,242.9 233.9,242.6 234.5,259.8 235.1,268.4 235.7,263.9 236.3,245.2 236.9,234.7 237.4,241.6 238.0,261.6" stroke="#4fc3f2" stroke-width="0.7"/>
<polyline points="239.8,244.5 240.4,232.4 240.9,247.8 241.5,264.7" stroke="#4fc3f2" stroke-width="0.7"/>
<polyline points="242.7,261.4 243.3,244.7 243.8,243.7 244.4,254.3 245.0,267.9 245.6,270.3 246.2,264.8 246.8,261.8 247.3,266.2" stroke="#4fc3f2" stroke-width="0.7"/>
<polyline points="253.2,267.1 253.7,254.0 254.3,256.5 254.9,264.9 255.5,269.2 256.1,266.2" stroke="#4fc3f2" stroke-width="0.7"/>
<polyline points="257.8,247.3 258.4,261.0 259.0,269.5" stroke="#4fc3f2" stroke-width="0.7"/>
<polyline points="261.3,244.7 261.9,264.0 262.5,269.5" stroke="#4fc3f2" stroke-width="0.7"/>
<polyline points="266.6,258.5 267.1,246.5 267.7,248.7 268.3,258.7 268.9,268.5 269.5,269.1 270.0,262.2 270.6,260.4" stroke="#4fc3f2" stroke-width="0.7"/>
<polyline points="272.4,272.3 273.0,271.0 273.5,270.4" stroke="#4fc3f2" stroke-width="0.7"/>
<polyline points="274.7,270.9 275.3,270.3 275.9,272.2" stroke="#4fc3f2" stroke-width="0.7"/>
<polyline points="277.0,265.4 277.6,258.5 278.2,257.5 278.8,265.8 279.4,271.3" stroke="#4fc3f2" stroke-width="0.7"/>
<polyline points="281.1,246.8 281.7,248.9 282.3,265.0" stroke="#4fc3f2" stroke-width="0.7"/>
<polyline points="283.4,262.3 284.0,245.7 284.6,235.4 285.2,248.8 285.8,265.7 286.3,269.3 286.9,257.5 287.5,245.4 288.1,242.1 288.7,254.1 289.3,267.5 289.8,269.4" stroke="#4fc3f2" stroke-width="0.7"/>
<polyline points="291.6,249.8 292.2,259.5 292.7,270.2 293.3,268.9 293.9,264.0 294.5,260.0 295.1,268.0" stroke="#4fc3f2" stroke-width="0.7"/>
<polyline points="299.7,271.5 300.3,270.8 300.9,267.0" stroke="#4fc3f2" stroke-width="0.7"/>
<polyline points="318.4,264.7 318.9,267.9 319.5,270.8" stroke="#4fc3f2" stroke-width="0.7"/>
<polyline points="321.3,270.5 321.9,269.0 322.4,269.6" stroke="#4fc3f2" stroke-width="0.7"/>
<polyline points="323.6,272.8 324.2,270.8 324.8,265.6 325.3,260.1 325.9,263.8 326.5,268.4 327.1,272.3 327.7,264.6 328.3,255.7 328.8,248.4 329.4,256.7 330.0,268.6 330.6,270.1 331.2,261.1 331.8,249.9 332.3,247.0 332.9,258.8" stroke="#4fc3f2" stroke-width="0.7"/>
<polyline points="334.1,269.1 334.7,257.4 335.2,247.6 335.8,249.7 336.4,261.9 337.0,268.7 337.6,268.6" stroke="#4fc3f2" stroke-width="0.7"/>
<polyline points="338.7,251.8 339.3,255.4 339.9,266.1 340.5,270.6 341.1,268.6 341.6,263.8 342.2,262.6 342.8,269.0" stroke="#4fc3f2" stroke-width="0.7"/>
<polyline points="344.0,271.1 344.6,269.4 345.1,271.0 345.7,269.6 346.3,270.7" stroke="#4fc3f2" stroke-width="0.7"/>
<polyline points="348.1,272.0 348.6,264.7 349.2,261.6 349.8,263.9 350.4,269.8 351.0,271.0 351.5,265.9 352.1,256.4 352.7,256.4 353.3,261.2" stroke="#4fc3f2" stroke-width="0.7"/>
<polyline points="356.2,254.5 356.8,261.2 357.4,270.8" stroke="#4fc3f2" stroke-width="0.7"/>
<polyline points="359.1,253.8 359.7,254.0 360.3,265.2 360.9,271.4" stroke="#4fc3f2" stroke-width="0.7"/>
<polyline points="362.6,257.7 363.2,258.6 363.8,266.7" stroke="#4fc3f2" stroke-width="0.7"/>
<polyline points="365.5,265.5 366.1,264.3 366.7,268.9" stroke="#4fc3f2" stroke-width="0.7"/>
<polyline points="46.5,195.3 46.7,198.7 46.8,202.2" stroke="#b41e3c" stroke-width="0.7"/>
<polyline points="48.9,204.2 49.1,199.0 49.3,193.7 49.4,188.4 49.6,183.1 49.8,177.8 49.9,186.2 50.1,194.7 50.2,203.1 50.4,211.5 50.6,219.9" stroke="#b41e3c" stroke-width="0.7"/>
<polyline points="51.6,254.7 51.7,252.0 51.9,249.4 52.0,246.8 52.2,244.2 52.4,241.1 52.5,236.8" stroke="#b41e3c" stroke-width="0.7"/>
<polyline points="53.8,231.2 54.0,234.9 54.2,239.0 54.3,243.4 54.5,247.8" stroke="#b41e3c" stroke-width="0.7"/>
<polyline points="60.7,268.8 60.8,267.9 61.0,270.2" stroke="#b41e3c" stroke-width="0.7"/>
<polyline points="61.3,270.8 61.5,270.2 61.7,271.4" stroke="#b41e3c" stroke-width="0.7"/>
<polyline points="62.8,256.7 63.4,241.5 64.0,244.1" stroke="#b41e3c" stroke-width="0.7"/>
<polyline points="69.8,229.3 70.4,218.0 71.0,237.1" stroke="#b41e3c" stroke-width="0.7"/>
<polyline points="83.2,271.3 83.8,268.8 84.3,270.7" stroke="#b41e3c" stroke-width="0.7"/>
<polyline points="87.8,257.2 88.4,264.2 89.0,269.8" stroke="#b41e3c" stroke-width="0.7"/>
<polyline points="93.7,242.7 94.2,238.8 94.8,250.2 95.4,266.1 96.0,269.5 96.6,255.6 97.1,241.2 97.7,243.6 98.3,253.2 98.9,269.5" stroke="#b41e3c" stroke-width="0.7"/>
<polyline points="100.1,258.7 100.6,246.6 101.2,253.4" stroke="#b41e3c" stroke-width="0.7"/>
<polyline points="110.5,264.7 111.1,257.3 111.7,259.1" stroke="#b41e3c" stroke-width="0.7"/>
<polyline points="114.0,251.5 114.6,246.6 115.2,253.4 115.8,267.5 116.4,270.5 116.9,259.4 117.5,244.4 118.1,238.5 118.7,253.2 119.3,268.7" stroke="#b41e3c" stroke-width="0.7"/>
<polyline points="120.4,256.8 121.0,243.4 121.6,243.0 122.2,258.1 122.8,270.3 123.3,268.7 123.9,258.7 124.5,248.9 125.1,255.3" stroke="#b41e3c" stroke-width="0.7"/>
<polyline points="135.0,255.9 135.6,258.1 136.2,266.4" stroke="#b41e3c" stroke-width="0.7"/>
<polyline points="140.8,256.9 141.4,236.5 142.0,241.3" stroke="#b41e3c" stroke-width="0.7"/>
<polyline points="145.5,242.3 146.0,256.8 146.6,269.4" stroke="#b41e3c" stroke-width="0.7"/>
<polyline points="148.4,247.4 149.0,249.1 149.5,264.8 150.1,270.3 150.7,270.1 151.3,262.3 151.9,265.4 152.4,270.8" stroke="#b41e3c" stroke-width="0.7"/>
<polyline points="157.7,268.5 158.3,259.8 158.9,257.3" stroke="#b41e3c" stroke-width="0.7"/>
<polyline points="169.9,260.2 170.5,269.4 171.1,267.8" stroke="#b41e3c" stroke-width="0.7"/>
<polyline points="176.3,270.6 176.9,270.9 177.5,272.1" stroke="#b41e3c" stroke-width="0.7"/>
<polyline points="181.0,272.2 181.6,268.8 182.1,260.6 182.7,255.5 183.3,261.8" stroke="#b41e3c" stroke-width="0.7"/>
<polyline points="185.0,259.0 185.6,244.0 186.2,243.5 186.8,257.5 187.4,267.6 188.0,267.6 188.5,252.8 189.1,240.2 189.7,243.3 190.3,258.6 190.9,269.3 191.5,264.3 192.0,250.0" stroke="#b41e3c" stroke-width="0.7"/>
<polyline points="193.2,248.9 193.8,262.0 194.4,268.8 194.9,265.4 195.5,251.6 196.1,247.7 196.7,255.3" stroke="#b41e3c" stroke-width="0.7"/>
<polyline points="199.0,262.4 199.6,267.4 200.2,270.7" stroke="#b41e3c" stroke-width="0.7"/>
<polyline points="206.6,259.8 207.2,262.3 207.8,268.7 208.3,269.6" stroke="#b41e3c" stroke-width="0.7"/>
<polyline points="209.5,248.7 210.1,248.7 210.7,262.1" stroke="#b41e3c" stroke-width="0.7"/>
<polyline points="212.4,253.2 213.0,237.6 213.6,249.9 214.2,261.3 214.7,271.4" stroke="#b41e3c" stroke-width="0.7"/>
<polyline points="219.4,253.1 220.0,249.9 220.6,257.6 221.1,267.6 221.7,272.0 222.3,265.9 222.9,261.9 223.5,267.3 224.1,269.5 224.6,270.5 225.2,270.9" stroke="#b41e3c" stroke-width="0.7"/>
<polyline points="227.0,269.3 227.5,269.5 228.1,271.8" stroke="#b41e3c" stroke-width="0.7"/>
<polyline points="229.3,267.2 229.9,259.0 230.5,256.3 231.0,263.4" stroke="#b41e3c" stroke-width="0.7"/>
<polyline points="233.4,243.5 233.9,245.6 234.5,262.3 235.1,270.2 235.7,265.1" stroke="#b41e3c" stroke-width="0.7"/>
<polyline points="239.8,245.6 240.4,238.1 240.9,246.3 241.5,264.8" stroke="#b41e3c" stroke-width="0.7"/>
<polyline points="243.3,250.2 243.8,247.3 244.4,259.4 245.0,268.9 245.6,270.8" stroke="#b41e3c" stroke-width="0.7"/>
<polyline points="247.3,268.2 247.9,270.4 248.5,271.6" stroke="#b41e3c" stroke-width="0.7"/>
<polyline points="250.8,270.0 251.4,270.9 252.0,272.8" stroke="#b41e3c" stroke-width="0.7"/>
<polyline points="274.1,269.4 274.7,269.0 275.3,271.7" stroke="#b41e3c" stroke-width="0.7"/>
<polyline points="292.2,261.8 292.7,269.0 293.3,270.6" stroke="#b41e3c" stroke-width="0.7"/>
<polyline points="295.1,268.1 295.7,271.1 296.2,272.8" stroke="#b41e3c" stroke-width="0.7"/>
<polyline points="305.0,252.9 305.6,257.1 306.1,268.3" stroke="#b41e3c" stroke-width="0.7"/>
<polyline points="307.9,252.0 308.5,246.1 309.0,256.6 309.6,268.3" stroke="#b41e3c" stroke-width="0.7"/>
<polyline points="314.9,252.4 315.4,256.3 316.0,264.6 316.6,269.5 317.2,270.5" stroke="#b41e3c" stroke-width="0.7"/>
<polyline points="321.9,270.8 322.4,269.0 323.0,271.5 323.6,271.9 324.2,270.3 324.8,265.6 325.3,261.7 325.9,262.2 326.5,269.9 327.1,270.7 327.7,265.8 328.3,255.8 328.8,252.4 329.4,259.0 330.0,267.7 330.6,270.3" stroke="#b41e3c" stroke-width="0.7"/>
<polyline points="331.8,248.1 332.3,247.0 332.9,258.4" stroke="#b41e3c" stroke-width="0.7"/>
<polyline points="335.2,250.6 335.8,250.4 336.4,261.7 337.0,270.1" stroke="#b41e3c" stroke-width="0.7"/>
<polyline points="338.7,250.8 339.3,255.5 339.9,265.0 340.5,270.2 341.1,267.9 341.6,264.1 342.2,264.0 342.8,267.9 343.4,271.0" stroke="#b41e3c" stroke-width="0.7"/>
<polyline points="347.5,272.3 348.1,270.3 348.6,266.3 349.2,262.7 349.8,264.3 350.4,270.6 351.0,270.2 351.5,264.6 352.1,257.9 352.7,252.9 353.3,261.8" stroke="#b41e3c" stroke-width="0.7"/>
<polyline points="355.0,264.8 355.6,251.8 356.2,251.2 356.8,261.2 357.4,270.0 357.9,269.1" stroke="#b41e3c" stroke-width="0.7"/>
<polyline points="359.1,251.7 359.7,254.0 360.3,264.5 360.9,271.2" stroke="#b41e3c" stroke-width="0.7"/>
<polyline points="362.6,256.3 363.2,259.3 363.8,267.5" stroke="#b41e3c" stroke-width="0.7"/>
<polyline points="365.5,264.4 366.1,263.1 366.7,269.5" stroke="#b41e3c" stroke-width="0.7"/>
<polyline points="46.5,195.2 46.7,198.5 46.8,201.8" stroke="#1a7fd2" stroke-width="0.7"/>
<polyline points="48.3,232.1 48.5,224.4 48.6,216.7 48.8,209.0 48.9,201.3 49.1,198.8 49.3,196.2 49.4,193.6 49.6,191.0 49.8,188.4 49.9,195.0 50.1,201.5" stroke="#1a7fd2" stroke-width="0.7"/>
<polyline points="51.9,249.6 52.0,246.8 52.2,244.1 52.4,241.1" stroke="#1a7fd2" stroke-width="0.7"/>
<polyline points="53.8,232.8 54.0,235.4 54.2,239.1 54.3,243.6 54.5,248.1" stroke="#1a7fd2" stroke-width="0.7"/>
<polyline points="61.0,269.8 61.2,268.8 61.3,270.2" stroke="#1a7fd2" stroke-width="0.7"/>
<polyline points="61.8,272.0 62.0,270.5 62.1,270.3" stroke="#1a7fd2" stroke-width="0.7"/>
<polyline points="82.6,271.5 83.2,268.9 83.8,270.7" stroke="#1a7fd2" stroke-width="0.7"/>
<polyline points="91.9,264.7 92.5,269.3 93.1,262.2 93.7,244.8 94.2,238.3 94.8,253.4" stroke="#1a7fd2" stroke-width="0.7"/>
<polyline points="100.1,256.0 100.6,248.1 101.2,254.2" stroke="#1a7fd2" stroke-width="0.7"/>
<polyline points="104.7,270.6 105.3,270.4 105.9,272.1" stroke="#1a7fd2" stroke-width="0.7"/>
<polyline points="109.4,271.9 110.0,268.5 110.5,261.3 111.1,255.5 111.7,260.2" stroke="#1a7fd2" stroke-width="0.7"/>
<polyline points="112.9,269.8 113.4,263.4 114.0,247.1 114.6,240.2 115.2,254.5 115.8,265.5 116.4,269.2 116.9,257.3 117.5,241.2 118.1,238.8 118.7,253.1 119.3,267.7 119.9,267.2 120.4,256.8 121.0,242.1 121.6,244.5 122.2,255.1 122.8,269.2 123.3,268.4 123.9,257.3 124.5,246.3 125.1,251.5 125.7,263.3" stroke="#1a7fd2" stroke-width="0.7"/>
<polyline points="127.4,264.5 128.0,266.2 128.6,270.8" stroke="#1a7fd2" stroke-width="0.7"/>
<polyline points="155.4,269.4 155.9,268.9 156.5,270.9" stroke="#1a7fd2" stroke-width="0.7"/>
<polyline points="157.7,268.8 158.3,258.0 158.9,251.6 159.4,258.2 160.0,269.0" stroke="#1a7fd2" stroke-width="0.7"/>
<polyline points="161.2,259.2 161.8,244.4 162.3,241.8" stroke="#1a7fd2" stroke-width="0.7"/>
<polyline points="164.1,267.5 164.7,250.7 165.3,235.4 165.8,236.0" stroke="#1a7fd2" stroke-width="0.7"/>
<polyline points="167.6,266.0 168.2,248.9 168.8,232.9 169.3,241.8 169.9,258.9 170.5,269.3 171.1,265.8" stroke="#1a7fd2" stroke-width="0.7"/>
<polyline points="173.4,265.4 174.0,270.1 174.6,267.9 175.2,261.7 175.7,264.6 176.3,270.2" stroke="#1a7fd2" stroke-width="0.7"/>
<polyline points="178.1,272.8 178.6,269.5 179.2,270.1" stroke="#1a7fd2" stroke-width="0.7"/>
<polyline points="181.6,269.6 182.1,261.7 182.7,258.8" stroke="#1a7fd2" stroke-width="0.7"/>
<polyline points="186.2,248.2 186.8,258.8 187.4,269.4 188.0,267.4" stroke="#1a7fd2" stroke-width="0.7"/>
<polyline points="190.3,260.3 190.9,268.9 191.5,265.5 192.0,251.5" stroke="#1a7fd2" stroke-width="0.7"/>
<polyline points="199.0,264.2 199.6,265.9 200.2,270.2" stroke="#1a7fd2" stroke-width="0.7"/>
<polyline points="205.4,267.8 206.0,258.5 206.6,254.6 207.2,262.3 207.8,269.4 208.3,268.3 208.9,256.6 209.5,243.6 210.1,243.8 210.7,260.9 211.2,268.8 211.8,266.3 212.4,250.3 213.0,241.6 213.6,244.4 214.2,260.3 214.7,270.1 215.3,262.5 215.9,244.9 216.5,241.4" stroke="#1a7fd2" stroke-width="0.7"/>
<polyline points="218.8,263.3 219.4,250.9 220.0,244.8 220.6,257.6 221.1,268.2" stroke="#1a7fd2" stroke-width="0.7"/>
<polyline points="222.3,267.0 222.9,261.7 223.5,266.6 224.1,270.5" stroke="#1a7fd2" stroke-width="0.7"/>
<polyline points="229.3,267.5 229.9,260.2 230.5,259.3" stroke="#1a7fd2" stroke-width="0.7"/>
<polyline points="234.5,263.1 235.1,270.2 235.7,264.2 236.3,246.1 236.9,240.3 237.4,245.2 238.0,264.4" stroke="#1a7fd2" stroke-width="0.7"/>
<polyline points="242.1,269.9 242.7,259.6 243.3,250.8 243.8,246.9 244.4,259.2" stroke="#1a7fd2" stroke-width="0.7"/>
<polyline points="250.8,270.4 251.4,271.3 252.0,271.8 252.6,271.5 253.2,265.1 253.7,256.2" stroke="#1a7fd2" stroke-width="0.7"/>
<polyline points="257.8,248.9 258.4,263.1 259.0,271.1" stroke="#1a7fd2" stroke-width="0.7"/>
<polyline points="266.6,260.7 267.1,246.4 267.7,248.7 268.3,258.6 268.9,269.7" stroke="#1a7fd2" stroke-width="0.7"/>
<polyline points="277.0,264.9 277.6,256.6 278.2,258.5 278.8,265.8 279.4,270.1 279.9,265.5 280.5,251.7 281.1,243.4 281.7,251.6 282.3,264.7 282.9,270.1 283.4,261.5 284.0,241.9 284.6,239.4 285.2,252.4" stroke="#1a7fd2" stroke-width="0.7"/>
<polyline points="286.3,269.4 286.9,257.5 287.5,241.9 288.1,240.8 288.7,254.0 289.3,269.2 289.8,267.7 290.4,258.1 291.0,246.9 291.6,249.1" stroke="#1a7fd2" stroke-width="0.7"/>
<polyline points="293.3,269.5 293.9,262.4 294.5,262.3 295.1,267.4 295.7,270.7 296.2,272.7" stroke="#1a7fd2" stroke-width="0.7"/>
<polyline points="301.5,263.1 302.1,262.0 302.6,267.0 303.2,271.1 303.8,265.7 304.4,255.6 305.0,248.5 305.6,259.5" stroke="#1a7fd2" stroke-width="0.7"/>
<polyline points="306.7,270.6 307.3,260.8 307.9,248.7 308.5,245.5 309.0,256.5 309.6,268.6 310.2,268.5 310.8,258.2 311.4,245.7 312.0,246.7 312.5,261.0 313.1,269.0 313.7,267.3 314.3,258.4 314.9,249.5 315.4,255.4 316.0,264.6 316.6,270.2 317.2,269.6 317.8,263.1 318.4,262.3" stroke="#1a7fd2" stroke-width="0.7"/>
<polyline points="320.7,271.4 321.3,269.5 321.9,270.4 322.4,268.9 323.0,270.9" stroke="#1a7fd2" stroke-width="0.7"/>
<polyline points="324.8,265.9 325.3,261.3 325.9,263.3" stroke="#1a7fd2" stroke-width="0.7"/>
<polyline points="328.3,257.3 328.8,252.9 329.4,258.8" stroke="#1a7fd2" stroke-width="0.7"/>
<polyline points="331.8,250.2 332.3,247.2 332.9,260.8" stroke="#1a7fd2" stroke-width="0.7"/>
<polyline points="335.2,248.7 335.8,249.5 336.4,263.2 337.0,271.5" stroke="#1a7fd2" stroke-width="0.7"/>
<polyline points="340.5,270.8 341.1,268.3 341.6,263.8 342.2,264.0 342.8,268.6 343.4,271.2" stroke="#1a7fd2" stroke-width="0.7"/>
<polyline points="345.1,270.3 345.7,268.3 346.3,270.3" stroke="#1a7fd2" stroke-width="0.7"/>
<polyline points="347.5,271.3 348.1,270.7 348.6,267.7" stroke="#1a7fd2" stroke-width="0.7"/>
<polyline points="350.4,271.1 351.0,270.5 351.5,265.2 352.1,259.4 352.7,255.7 353.3,262.7" stroke="#1a7fd2" stroke-width="0.7"/>
<polyline points="356.8,263.6 357.4,269.4 357.9,268.0 358.5,260.7" stroke="#1a7fd2" stroke-width="0.7"/>
<polyline points="359.7,256.7 360.3,264.6 360.9,269.6 361.4,268.9" stroke="#1a7fd2" stroke-width="0.7"/>
<polyline points="365.5,265.9 366.1,264.2 366.7,270.0" stroke="#1a7fd2" stroke-width="0.7"/>
<polyline points="46.5,190.7 46.7,194.8 46.8,199.0 47.0,203.2 47.2,207.4" stroke="#f2621c" stroke-width="0.8"/>
<polyline points="48.5,224.6 48.6,216.3 48.8,208.0 48.9,199.6 49.1,196.6 49.3,193.5 49.4,190.5 49.6,187.4 49.8,184.4 49.9,190.9 50.1,197.4 50.2,203.9 50.4,210.5 50.6,217.0 50.7,223.9" stroke="#f2621c" stroke-width="0.8"/>
<polyline points="52.0,247.1 52.2,244.3 52.4,241.1 52.5,236.9" stroke="#f2621c" stroke-width="0.8"/>
<polyline points="53.7,227.4 53.8,230.7 54.0,234.1 54.2,238.1 54.3,242.6 54.5,247.1 54.7,251.6 54.8,256.1" stroke="#f2621c" stroke-width="0.8"/>
<polyline points="60.8,270.7 61.0,269.5 61.2,271.5 61.3,270.8 61.5,270.6 61.7,271.3" stroke="#f2621c" stroke-width="0.8"/>
<polyline points="62.0,271.1 62.1,268.9 62.3,267.0" stroke="#f2621c" stroke-width="0.8"/>
<polyline points="64.5,259.8 65.1,268.7 65.7,261.3" stroke="#f2621c" stroke-width="0.8"/>
<polyline points="69.8,234.9 70.4,220.0 71.0,237.9" stroke="#f2621c" stroke-width="0.8"/>
<polyline points="80.3,265.5 80.8,268.6 81.4,270.6" stroke="#f2621c" stroke-width="0.8"/>
<polyline points="86.7,260.9 87.2,250.4 87.8,255.0 88.4,264.7 89.0,270.1 89.6,262.7 90.2,246.5 90.7,238.6 91.3,245.1 91.9,262.2 92.5,270.8 93.1,259.1 93.7,237.7 94.2,228.3 94.8,248.3 95.4,265.9 96.0,268.2 96.6,257.2 97.1,235.4 97.7,235.3 98.3,255.8 98.9,267.7 99.5,269.6 100.1,256.3 100.6,242.7 101.2,246.9 101.8,260.4 102.4,270.1" stroke="#f2621c" stroke-width="0.8"/>
<polyline points="104.1,267.3 104.7,269.7 105.3,271.1" stroke="#f2621c" stroke-width="0.8"/>
<polyline points="106.5,271.7 107.0,269.4 107.6,270.3" stroke="#f2621c" stroke-width="0.8"/>
<polyline points="114.0,254.1 114.6,247.8 115.2,256.1 115.8,266.1 116.4,270.4 116.9,260.2 117.5,245.6 118.1,243.3 118.7,255.9 119.3,268.1" stroke="#f2621c" stroke-width="0.8"/>
<polyline points="121.6,246.9 122.2,257.6 122.8,269.0 123.3,268.5 123.9,255.9 124.5,250.7" stroke="#f2621c" stroke-width="0.8"/>
<polyline points="127.4,266.0 128.0,266.7 128.6,271.1 129.2,269.6 129.7,271.1" stroke="#f2621c" stroke-width="0.8"/>
<polyline points="135.0,253.9 135.6,258.1 136.2,267.0" stroke="#f2621c" stroke-width="0.8"/>
<polyline points="137.3,262.6 137.9,245.3 138.5,238.6 139.1,253.7" stroke="#f2621c" stroke-width="0.8"/>
<polyline points="145.5,246.4 146.0,256.7 146.6,268.8 147.2,266.6" stroke="#f2621c" stroke-width="0.8"/>
<polyline points="149.0,253.5 149.5,263.5 150.1,269.3 150.7,268.6 151.3,263.0 151.9,266.6" stroke="#f2621c" stroke-width="0.8"/>
<polyline points="154.2,270.9 154.8,268.6 155.4,268.7" stroke="#f2621c" stroke-width="0.8"/>
<polyline points="157.7,268.6 158.3,259.0 158.9,251.9" stroke="#f2621c" stroke-width="0.8"/>
<polyline points="161.2,260.1 161.8,242.9 162.3,238.3 162.9,253.2 163.5,268.3 164.1,266.4 164.7,251.2 165.3,233.2 165.8,236.0" stroke="#f2621c" stroke-width="0.8"/>
<polyline points="168.2,249.7 168.8,234.6 169.3,237.9 169.9,260.2 170.5,269.2 171.1,264.8 171.7,251.7 172.2,243.1 172.8,248.6 173.4,263.5 174.0,271.3 174.6,268.0 175.2,260.6 175.7,264.7 176.3,271.1" stroke="#f2621c" stroke-width="0.8"/>
<polyline points="199.0,263.4 199.6,267.5 200.2,270.8" stroke="#f2621c" stroke-width="0.8"/>
<polyline points="203.7,270.9 204.3,270.3 204.8,271.2" stroke="#f2621c" stroke-width="0.8"/>
<polyline points="206.0,261.0 206.6,257.1 207.2,265.4" stroke="#f2621c" stroke-width="0.8"/>
<polyline points="213.0,243.7 213.6,246.6 214.2,262.1 214.7,270.0" stroke="#f2621c" stroke-width="0.8"/>
<polyline points="216.5,245.3 217.1,246.7 217.7,265.4" stroke="#f2621c" stroke-width="0.8"/>
<polyline points="219.4,253.4 220.0,250.1 220.6,257.1 221.1,268.1" stroke="#f2621c" stroke-width="0.8"/>
<polyline points="229.3,266.8 229.9,257.4 230.5,255.0 231.0,263.2" stroke="#f2621c" stroke-width="0.8"/>
<polyline points="232.8,256.0 233.4,241.6 233.9,245.3 234.5,259.7 235.1,269.6 235.7,265.4 236.3,245.7 236.9,237.8 237.4,240.5 238.0,261.8" stroke="#f2621c" stroke-width="0.8"/>
<polyline points="240.4,240.2 240.9,248.8 241.5,265.6" stroke="#f2621c" stroke-width="0.8"/>
<polyline points="242.7,262.2 243.3,248.1 243.8,245.0 244.4,257.0" stroke="#f2621c" stroke-width="0.8"/>
<polyline points="246.2,264.2 246.8,261.1 247.3,267.8" stroke="#f2621c" stroke-width="0.8"/>
<polyline points="252.6,271.9 253.2,265.0 253.7,254.3 254.3,252.8 254.9,261.1 255.5,269.6 256.1,265.8 256.7,246.5 257.2,237.4 257.8,241.9 258.4,259.4 259.0,269.3 259.6,262.1 260.1,236.6 260.7,229.6 261.3,239.6 261.9,262.1 262.5,269.2 263.1,255.8 263.6,238.0 264.2,231.7 264.8,245.1 265.4,265.6 266.0,268.4 266.6,256.2 267.1,240.6 267.7,241.4 268.3,254.8 268.9,268.4 269.5,269.1 270.0,263.2 270.6,259.0 271.2,266.3 271.8,271.4" stroke="#f2621c" stroke-width="0.8"/>
<polyline points="279.4,271.2 279.9,265.6 280.5,255.4" stroke="#f2621c" stroke-width="0.8"/>
<polyline points="282.3,265.8 282.9,270.2 283.4,263.2 284.0,249.7 284.6,241.5 285.2,252.0" stroke="#f2621c" stroke-width="0.8"/>
<polyline points="295.7,272.2 296.2,272.0 296.8,271.5" stroke="#f2621c" stroke-width="0.8"/>
<polyline points="299.7,271.0 300.3,270.7 300.9,266.5 301.5,261.1 302.1,261.6 302.6,268.6" stroke="#f2621c" stroke-width="0.8"/>
<polyline points="303.8,266.7 304.4,255.4 305.0,249.7 305.6,255.3 306.1,267.6" stroke="#f2621c" stroke-width="0.8"/>
<polyline points="307.3,263.6 307.9,247.5 308.5,245.4 309.0,254.5 309.6,267.4 310.2,270.0 310.8,259.5 311.4,247.7 312.0,245.5 312.5,258.9 313.1,269.7" stroke="#f2621c" stroke-width="0.8"/>
<polyline points="314.3,260.5 314.9,251.3 315.4,254.5 316.0,264.3 316.6,269.3 317.2,269.7" stroke="#f2621c" stroke-width="0.8"/>
<polyline points="318.4,262.5 318.9,267.4 319.5,270.4" stroke="#f2621c" stroke-width="0.8"/>
<polyline points="321.9,270.5 322.4,268.8 323.0,271.2" stroke="#f2621c" stroke-width="0.8"/>
<polyline points="325.3,264.3 325.9,262.8 326.5,269.4 327.1,270.0 327.7,265.8" stroke="#f2621c" stroke-width="0.8"/>
<polyline points="332.3,252.8 332.9,257.5 333.5,268.8" stroke="#f2621c" stroke-width="0.8"/>
<polyline points="335.2,253.7 335.8,249.9 336.4,260.9 337.0,269.2 337.6,268.5" stroke="#f2621c" stroke-width="0.8"/>
<polyline points="341.1,269.6 341.6,262.6 342.2,264.4" stroke="#f2621c" stroke-width="0.8"/>
<polyline points="345.1,270.9 345.7,269.5 346.3,270.6" stroke="#f2621c" stroke-width="0.8"/>
<polyline points="347.5,271.6 348.1,270.4 348.6,265.9 349.2,262.3 349.8,264.8 350.4,269.0 351.0,271.1 351.5,265.5 352.1,257.1 352.7,253.8 353.3,259.5 353.9,268.8 354.5,270.1 355.0,260.8 355.6,251.6 356.2,253.1 356.8,262.0 357.4,270.8" stroke="#f2621c" stroke-width="0.8"/>
<polyline points="358.5,259.1 359.1,248.4 359.7,250.8 360.3,263.0 360.9,271.9" stroke="#f2621c" stroke-width="0.8"/>
<polyline points="362.0,258.7 362.6,252.5 363.2,258.7 363.8,267.3" stroke="#f2621c" stroke-width="0.8"/>
<polyline points="365.5,265.3 366.1,264.3 366.7,269.5" stroke="#f2621c" stroke-width="0.8"/>
<polyline points="46.5,273.5 46.7,199.8 46.8,202.3 47.0,204.8 47.2,207.3 47.3,209.8 47.5,215.9 47.6,222.0 47.8,228.1 48.0,234.2 48.1,240.3 48.3,232.9 48.5,225.5 48.6,218.2 48.8,210.8 48.9,203.4 49.1,200.9 49.3,198.4 49.4,195.9 49.6,193.4 49.8,190.8 49.9,196.3 50.1,201.7 50.2,207.1 50.4,212.6 50.6,218.0 50.7,224.7 50.9,231.4 51.1,238.1 51.2,244.8 51.4,251.5 51.6,255.6 51.7,253.0 51.9,250.4 52.0,247.9 52.2,245.3 52.4,242.1 52.5,237.4 52.7,232.6 52.9,227.9 53.0,223.1 53.2,218.4 53.3,218.9 53.5,223.3 53.7,227.7 53.8,232.1 54.0,236.6 54.2,240.7 54.3,244.7 54.5,248.7 54.7,252.7 54.8,256.7 55.0,257.9 55.1,257.1 55.3,256.3 55.5,255.5 55.6,254.7 55.8,254.1 56.0,253.7 56.1,253.3 56.3,252.8 56.4,252.4 56.6,253.2 56.8,255.0 56.9,256.7 57.1,258.5 57.3,260.2 57.4,261.9 57.6,263.4 57.7,265.0 57.9,266.6 58.1,268.2 58.2,268.7 58.4,268.4 58.6,268.1 58.7,267.7 58.9,267.4 59.1,267.0 59.2,266.1 59.4,265.5 59.5,265.5 59.7,264.8 59.9,264.9 60.0,266.4 60.2,267.2 60.4,266.9 60.5,267.9 60.7,269.3 60.8,269.2 61.0,270.8 61.2,270.5 61.3,271.0 61.5,272.7 61.7,271.8 61.8,271.5 62.0,271.5 62.1,270.2 62.3,267.1 62.5,265.2 62.6,260.7 62.8,256.7 63.4,243.2 64.0,243.0 64.5,256.9 65.1,270.1 65.7,261.8 66.3,240.7 66.9,224.1 67.5,231.1 68.0,258.7 68.6,268.5 69.2,255.3 69.8,226.9 70.4,224.0 71.0,235.2 71.5,260.7 72.1,269.3 72.7,252.5 73.3,225.2 73.9,215.4 74.4,243.0 75.0,264.9 75.6,267.1 76.2,251.5 76.8,235.4 77.4,238.7 77.9,254.0 78.5,269.1 79.1,268.3 79.7,262.6 80.3,265.7 80.8,271.2 81.4,271.3 82.0,271.8 82.6,272.3 83.2,270.9 83.8,270.4 84.3,269.7 84.9,270.7 85.5,272.1 86.1,269.5 86.7,260.6 87.2,253.4 87.8,256.5 88.4,266.2 89.0,270.4 89.6,264.6 90.2,251.1 90.7,240.9 91.3,249.6 91.9,264.5 92.5,270.6 93.1,260.2 93.7,242.4 94.2,242.6 94.8,253.6 95.4,267.2 96.0,268.5 96.6,257.3 97.1,242.6 97.7,239.8 98.3,254.8 98.9,268.7 99.5,268.0 100.1,256.3 100.6,249.4 101.2,251.4 101.8,262.6 102.4,271.0 103.0,269.0 103.5,264.0 104.1,265.6 104.7,270.6 105.3,271.6 105.9,271.4 106.5,272.5 107.0,270.8 107.6,269.3 108.2,270.6 108.8,270.9 109.4,272.4 110.0,270.5 110.5,263.6 111.1,258.3 111.7,260.0 112.3,266.7 112.9,270.7 113.4,264.7 114.0,251.6 114.6,249.2 115.2,257.4 115.8,267.7 116.4,270.6 116.9,260.7 117.5,247.0 118.1,247.7 118.7,258.1 119.3,268.8 119.9,268.9 120.4,256.5 121.0,245.4 121.6,244.7 122.2,261.8 122.8,270.7 123.3,268.2 123.9,260.5 124.5,251.6 125.1,255.0 125.7,264.0 126.3,270.5 126.8,269.5 127.4,265.0 128.0,268.1 128.6,270.0 129.2,271.1 129.7,271.9 130.3,269.9 130.9,269.4 131.5,270.0 132.1,270.4 132.7,271.7 133.2,272.2 133.8,268.2 134.4,261.5 135.0,254.4 135.6,260.5 136.2,267.1 136.7,268.9 137.3,259.3 137.9,247.0 138.5,242.9 139.1,253.1 139.6,267.6 140.2,269.7 140.8,254.1 141.4,238.0 142.0,235.3 142.6,253.5 143.1,268.6 143.7,267.5 144.3,253.1 144.9,235.4 145.5,241.1 146.0,258.3 146.6,270.0 147.2,266.7 147.8,250.8 148.4,245.9 149.0,251.7 149.5,266.0 150.1,270.5 150.7,268.6 151.3,264.9 151.9,267.5 152.4,269.6 153.0,270.9 153.6,271.3 154.2,270.2 154.8,270.0 155.4,268.8 155.9,270.8 156.5,271.8 157.1,271.6 157.7,267.9 158.3,261.4 158.9,252.6 159.4,259.1 160.0,267.7 160.6,269.5 161.2,259.0 161.8,245.6 162.3,237.0 162.9,255.5 163.5,267.6 164.1,266.8 164.7,253.8 165.3,238.3 165.8,235.8 166.4,254.7 167.0,268.1 167.6,265.4 168.2,250.5 168.8,236.2 169.3,239.3 169.9,260.3 170.5,270.9 171.1,265.4 171.7,253.1 172.2,243.8 172.8,249.7 173.4,265.4 174.0,272.0 174.6,266.9 175.2,262.7 175.7,265.7 176.3,270.5 176.9,271.9 177.5,272.4 178.1,270.8 178.6,270.5 179.2,268.7 179.8,269.5 180.4,271.4 181.0,271.6 181.6,270.2 182.1,262.7 182.7,258.7 183.3,262.0 183.9,270.0 184.5,269.7 185.0,259.0 185.6,249.5 186.2,248.7 186.8,259.9 187.4,270.4 188.0,266.8 188.5,251.8 189.1,243.2 189.7,247.6 190.3,260.2 190.9,270.7 191.5,266.7 192.0,249.1 192.6,240.4 193.2,247.8 193.8,263.5 194.4,270.9 194.9,264.2 195.5,253.9 196.1,249.5 196.7,255.8 197.3,268.1 197.9,271.2 198.4,266.8 199.0,262.5 199.6,268.8 200.2,269.9 200.8,270.8 201.3,271.7 201.9,271.2 202.5,269.7 203.1,269.7 203.7,270.4 204.3,272.3 204.8,270.5 205.4,267.2 206.0,261.3 206.6,258.2 207.2,265.4 207.8,270.0 208.3,268.0 208.9,258.1 209.5,244.5 210.1,251.1 210.7,260.0 211.2,269.6 211.8,267.6 212.4,252.4 213.0,241.9 213.6,248.1 214.2,263.1 214.7,271.0 215.3,264.2 215.9,250.1 216.5,240.0 217.1,249.7 217.7,264.7 218.2,270.0 218.8,263.3 219.4,252.8 220.0,253.5 220.6,259.4 221.1,268.9 221.7,271.4 222.3,267.2 222.9,263.7 223.5,267.5 224.1,269.7 224.6,272.0 225.2,271.2 225.8,270.9 226.4,269.4 227.0,269.0 227.5,271.5 228.1,271.6 228.7,271.5 229.3,267.6 229.9,261.3 230.5,257.5 231.0,262.9 231.6,270.5 232.2,267.2 232.8,254.7 233.4,243.2 233.9,247.3 234.5,259.9 235.1,271.3 235.7,263.5 236.3,247.1 236.9,235.1 237.4,246.9 238.0,262.0 238.6,269.1 239.2,261.9 239.8,241.8 240.4,240.5 240.9,251.8 241.5,265.1 242.1,270.0 242.7,261.0 243.3,249.3 243.8,248.9 244.4,257.3 245.0,270.1 245.6,269.8 246.2,264.2 246.8,262.9 247.3,266.8 247.9,271.4 248.5,271.3 249.1,272.0 249.7,271.1 250.2,269.5 250.8,269.1 251.4,272.2 252.0,271.4 252.6,271.5 253.2,266.8 253.7,255.4 254.3,256.2 254.9,264.9 255.5,270.3 256.1,266.1 256.7,249.5 257.2,240.0 257.8,246.4 258.4,264.1 259.0,268.4 259.6,261.2 260.1,243.3 260.7,231.4 261.3,244.4 261.9,264.9 262.5,270.3 263.1,258.4 263.6,241.5 264.2,235.4 264.8,248.1 265.4,267.0 266.0,269.4 266.6,259.1 267.1,248.4 267.7,246.6 268.3,260.0 268.9,270.6 269.5,269.3 270.0,264.1 270.6,260.4 271.2,267.4 271.8,271.1 272.4,271.9 273.0,272.7 273.5,269.9 274.1,268.9 274.7,270.2 275.3,271.3 275.9,271.7 276.4,271.5 277.0,265.6 277.6,260.2 278.2,259.7 278.8,266.8 279.4,271.3 279.9,266.9 280.5,251.0 281.1,247.7 281.7,252.2 282.3,265.9 282.9,271.4 283.4,261.4 284.0,247.9 284.6,244.4 285.2,252.5 285.8,267.0 286.3,270.0 286.9,259.0 287.5,246.9 288.1,244.2 288.7,257.4 289.3,268.6 289.8,269.7 290.4,259.7 291.0,249.4 291.6,249.8 292.2,261.8 292.7,271.1 293.3,270.3 293.9,264.0 294.5,261.5 295.1,268.4 295.7,272.1 296.2,273.3 296.8,271.1 297.4,269.7 298.0,270.0 298.6,270.2 299.1,270.3 299.7,271.4 300.3,271.8 300.9,266.1 301.5,262.2 302.1,264.0 302.6,267.7 303.2,270.7 303.8,267.7 304.4,257.1 305.0,252.6 305.6,260.4 306.1,267.3 306.7,270.7 307.3,262.7 307.9,250.3 308.5,250.1 309.0,259.2 309.6,268.6 310.2,269.3 310.8,260.1 311.4,248.7 312.0,249.3 312.5,261.4 313.1,269.5 313.7,269.4 314.3,261.1 314.9,252.6 315.4,258.5 316.0,265.7 316.6,270.6 317.2,270.4 317.8,265.4 318.4,262.6 318.9,269.0 319.5,270.8 320.1,271.2 320.7,271.0 321.3,270.6 321.9,270.0 322.4,270.3 323.0,270.2 323.6,272.5 324.2,272.0 324.8,265.3 325.3,263.5 325.9,264.1 326.5,269.6 327.1,271.9 327.7,265.9 328.3,255.9 328.8,254.4 329.4,259.1 330.0,269.0 330.6,269.7 331.2,263.0 331.8,248.0 332.3,251.1 332.9,259.4 333.5,268.7 334.1,268.6 334.7,259.4 335.2,249.2 335.8,252.7 336.4,264.5 337.0,270.3 337.6,268.3 338.2,258.5 338.7,249.8 339.3,256.7 339.9,266.1 340.5,270.8 341.1,270.1 341.6,263.7 342.2,263.8 342.8,269.8 343.4,270.8 344.0,271.2 344.6,270.8 345.1,270.7 345.7,270.6 346.3,269.5 346.9,271.6 347.5,271.1 348.1,272.4 348.6,267.0 349.2,261.7 349.8,265.9 350.4,270.0 351.0,272.2 351.5,264.0 352.1,257.5 352.7,257.6 353.3,261.2 353.9,270.6 354.5,269.9 355.0,261.7 355.6,253.7 356.2,253.5 356.8,263.8 357.4,271.4 357.9,269.8 358.5,258.9 359.1,252.4 359.7,255.3 360.3,266.1 360.9,271.0 361.4,268.3 362.0,258.5 362.6,255.9 363.2,260.4 363.8,267.0 364.3,271.5 364.9,268.5 365.5,264.7 366.1,266.1 366.7,269.6 367.3,271.7 367.8,271.7 368.4,270.8 369.0,269.7 369.6,269.1 370.2,269.6 370.8,271.4 371.3,272.3 371.9,270.7 372.5,268.7" stroke="#f8aa18" stroke-width="0.95"/>
</g>
<g clip-path="url(#clip1)" fill="none" stroke-linejoin="round">
<polyline points="424.5,157.3 424.7,114.6 424.8,75.9 425.0,44.4 425.2,59.0 425.3,61.6 425.5,80.8 425.6,111.3 425.8,128.1 426.0,150.1 426.1,177.3 426.3,195.5 426.5,188.8 426.6,198.7 426.8,184.5 426.9,209.4 427.1,212.1 427.3,214.2 427.4,221.1 427.6,223.7 427.8,222.3 427.9,223.6 428.1,224.8 428.2,227.1 428.4,223.0 428.6,231.1 428.7,228.8 428.9,230.6 429.1,224.6 429.2,220.6 429.4,217.8 429.6,219.3 429.7,216.9 429.9,207.5 430.0,219.2 430.2,231.3 430.4,231.2 430.5,239.8 430.7,240.3 430.9,243.9 431.0,247.2 431.2,254.4 431.3,249.5 431.5,249.7 431.7,251.0 431.8,254.3 432.0,254.1 432.2,254.0 432.3,258.4 432.5,254.0 432.6,261.7 432.8,258.3 433.0,261.5 433.1,261.4 433.3,256.3 433.5,254.6 433.6,256.1 433.8,258.3 434.0,254.9 434.1,258.5 434.3,259.9 434.4,257.4 434.6,257.6 434.8,254.7 434.9,259.8 435.1,253.0 435.3,256.3 435.4,252.6 435.6,258.5 435.7,255.5 435.9,254.1 436.1,252.0 436.2,257.3 436.4,250.1 436.6,253.3 436.7,256.2 436.9,252.0 437.1,255.1 437.2,252.6 437.4,249.9 437.5,254.2 437.7,257.8 437.9,257.8 438.0,255.6 438.2,256.7 438.4,259.9 438.5,259.8 438.7,256.7 438.8,252.6 439.0,265.4 439.2,256.9 439.3,259.2 439.5,255.9 439.7,255.4 439.8,257.1 440.0,258.7 440.1,259.5 440.3,259.8 440.5,252.6 440.6,256.5 440.8,257.8 441.4,256.7 442.0,258.1 442.5,250.9 443.1,233.7 443.7,239.5 444.3,247.6 444.9,236.4 445.5,237.4 446.0,233.3 446.6,217.6 447.2,203.8 447.8,218.0 448.4,219.1 448.9,218.6 449.5,206.0 450.1,186.7 450.7,201.9 451.3,218.0 451.9,223.6 452.4,221.4 453.0,232.4 453.6,215.3 454.2,241.7 454.8,248.9 455.4,251.8 455.9,246.5 456.5,254.9 457.1,256.1 457.7,255.8 458.3,263.1 458.8,261.7 459.4,260.9 460.0,260.0 460.6,260.2 461.2,258.8 461.8,257.9 462.3,256.3 462.9,259.1 463.5,258.3 464.1,259.0 464.7,254.8 465.2,256.0 465.8,253.5 466.4,250.5 467.0,239.2 467.6,241.7 468.2,243.2 468.7,246.0 469.3,241.9 469.9,227.4 470.5,210.6 471.1,214.1 471.7,226.5 472.2,221.2 472.8,225.4 473.4,211.3 474.0,189.1 474.6,214.8 475.1,225.5 475.7,224.1 476.3,225.1 476.9,217.0 477.5,207.3 478.1,234.2 478.6,246.8 479.2,245.8 479.8,245.7 480.4,246.4 481.0,254.5 481.6,254.3 482.1,254.7 482.7,263.8 483.3,256.5 483.9,250.9 484.5,254.3 485.0,255.2 485.6,255.5 486.2,253.8 486.8,258.8 487.4,257.6 488.0,254.1 488.5,257.6 489.1,255.0 489.7,259.8 490.3,249.2 490.9,244.6 491.4,242.0 492.0,246.7 492.6,240.4 493.2,243.9 493.8,229.2 494.4,222.2 494.9,221.1 495.5,229.6 496.1,225.1 496.7,224.7 497.3,216.0 497.9,198.8 498.4,212.9 499.0,222.9 499.6,225.0 500.2,225.7 500.8,215.5 501.3,211.1 501.9,226.9 502.5,238.9 503.1,242.2 503.7,244.5 504.3,241.6 504.8,238.5 505.4,248.6 506.0,253.8 506.6,251.6 507.2,251.9 507.7,248.8 508.3,253.2 508.9,250.5 509.5,251.4 510.1,249.8 510.7,248.1 511.2,246.3 511.8,250.6 512.4,257.7 513.0,255.8 513.6,253.6 514.1,246.0 514.7,246.3 515.3,237.3 515.9,246.5 516.5,241.3 517.1,236.6 517.6,228.3 518.2,203.3 518.8,213.9 519.4,214.6 520.0,204.0 520.6,180.2 521.1,188.6 521.7,186.2 522.3,201.5 522.9,202.0 523.5,172.6 524.0,203.9 524.6,206.0 525.2,205.8 525.8,236.0 526.4,240.8 527.0,242.1 527.5,249.2 528.1,242.9 528.7,241.7 529.3,251.5 529.9,258.8 530.5,256.5 531.0,259.8 531.6,254.7 532.2,259.6 532.8,258.9 533.4,255.6 533.9,261.1 534.5,255.6 535.1,260.7 535.7,257.4 536.3,259.0 536.9,258.0 537.4,256.6 538.0,253.5 538.6,251.6 539.2,245.0 539.8,247.2 540.3,242.7 540.9,238.6 541.5,233.0 542.1,207.8 542.7,199.6 543.3,158.0 543.8,199.9 544.4,205.1 545.0,200.8 545.6,202.5 546.2,212.2 546.8,212.7 547.3,221.5 547.9,226.2 548.5,211.2 549.1,218.7 549.7,235.3 550.2,239.9 550.8,250.3 551.4,242.6 552.0,235.3 552.6,244.2 553.2,253.6 553.7,251.8 554.3,258.5 554.9,258.3 555.5,258.1 556.1,255.7 556.6,254.8 557.2,256.0 557.8,254.3 558.4,253.6 559.0,254.1 559.6,257.4 560.1,256.2 560.7,252.2 561.3,257.7 561.9,253.0 562.5,250.4 563.0,250.8 563.6,253.3 564.2,251.9 564.8,238.6 565.4,225.6 566.0,222.6 566.5,230.8 567.1,231.6 567.7,231.2 568.3,224.0 568.9,203.2 569.5,186.8 570.0,222.9 570.6,224.6 571.2,230.4 571.8,221.2 572.4,215.5 572.9,214.5 573.5,234.1 574.1,235.9 574.7,239.5 575.3,245.1 575.9,241.4 576.4,238.1 577.0,252.3 577.6,249.3 578.2,247.5 578.8,254.0 579.4,253.3 579.9,254.5 580.5,253.7 581.1,258.7 581.7,253.1 582.3,254.2 582.8,255.3 583.4,258.7 584.0,255.5 584.6,255.8 585.2,260.9 585.8,248.6 586.3,250.1 586.9,253.4 587.5,255.1 588.1,250.5 588.7,244.1 589.2,242.7 589.8,232.5 590.4,234.5 591.0,238.2 591.6,233.4 592.2,225.0 592.7,195.5 593.3,204.1 593.9,222.4 594.5,222.3 595.1,225.2 595.6,216.8 596.2,189.1 596.8,218.7 597.4,228.2 598.0,238.2 598.6,244.0 599.1,240.5 599.7,239.6 600.3,242.9 600.9,250.3 601.5,248.6 602.1,250.8 602.6,250.6 603.2,253.8 603.8,255.3 604.4,254.4 605.0,254.4 605.5,254.5 606.1,254.7 606.7,256.5 607.3,261.8 607.9,260.5 608.5,260.4 609.0,254.2 609.6,256.6 610.2,251.4 610.8,252.3 611.4,255.8 612.0,255.7 612.5,251.1 613.1,244.3 613.7,231.7 614.3,237.5 614.9,236.4 615.4,232.1 616.0,225.4 616.6,190.5 617.2,206.9 617.8,221.6 618.4,221.3 618.9,220.0 619.5,221.5 620.1,198.8 620.7,216.7 621.3,232.9 621.8,232.2 622.4,236.9 623.0,234.3 623.6,225.0 624.2,245.3 624.8,251.0 625.3,249.4 625.9,255.1 626.5,256.7 627.1,253.9 627.7,255.6 628.2,250.9 628.8,249.2 629.4,257.1 630.0,253.7 630.6,252.7 631.2,253.2 631.7,256.9 632.3,259.9 632.9,257.5 633.5,258.3 634.1,249.6 634.7,251.0 635.2,257.8 635.8,251.2 636.4,246.0 637.0,231.8 637.6,223.7 638.1,221.2 638.7,186.6 639.3,218.0 639.9,207.4 640.5,183.2 641.1,165.6 641.6,200.6 642.2,211.8 642.8,225.6 643.4,215.7 644.0,193.9 644.5,215.8 645.1,226.6 645.7,229.8 646.3,237.4 646.9,230.7 647.5,231.6 648.0,243.4 648.6,246.2 649.2,249.4 649.8,248.0 650.4,249.4 651.0,250.3 651.5,247.1 652.1,255.0 652.7,254.5 653.3,255.0 653.9,254.0 654.4,255.8 655.0,253.7 655.6,255.6 656.2,255.0 656.8,252.7 657.4,249.8 657.9,250.1 658.5,254.4 659.1,250.7 659.7,250.4 660.3,245.5 660.9,235.8 661.4,232.0 662.0,238.7 662.6,231.6 663.2,230.8 663.8,224.2 664.3,216.5 664.9,197.7 665.5,224.4 666.1,220.0 666.7,222.2 667.3,200.0 667.8,205.1 668.4,210.8 669.0,225.7 669.6,233.8 670.2,236.6 670.7,227.4 671.3,217.4 671.9,246.7 672.5,246.4 673.1,245.5 673.7,253.5 674.2,247.6 674.8,252.6 675.4,254.4 676.0,259.5 676.6,255.9 677.1,258.2 677.7,260.0 678.3,259.0 678.9,260.8 679.5,262.0 680.1,261.4 680.6,258.1 681.2,259.4 681.8,254.0 682.4,253.6 683.0,252.5 683.6,253.0 684.1,245.8 684.7,239.5 685.3,230.7 685.9,241.7 686.5,237.9 687.0,233.6 687.6,220.4 688.2,194.4 688.8,218.8 689.4,219.2 690.0,222.6 690.5,217.2 691.1,198.6 691.7,203.1 692.3,222.3 692.9,226.4 693.5,230.7 694.0,233.2 694.6,233.6 695.2,233.2 695.8,245.0 696.4,245.7 696.9,248.7 697.5,245.9 698.1,250.5 698.7,255.4 699.3,253.9 699.9,255.2 700.4,258.9 701.0,254.6 701.6,256.7 702.2,262.1 702.8,260.0 703.3,260.5 703.9,259.8 704.5,259.1 705.1,259.3 705.7,257.0 706.3,257.0 706.8,257.9 707.4,257.0 708.0,254.1 708.6,247.9 709.2,250.8 709.8,245.7 710.3,245.5 710.9,238.5 711.5,229.4 712.1,197.5 712.7,221.9 713.2,230.7 713.8,225.1 714.4,225.7 715.0,219.1 715.6,207.2 716.2,222.3 716.7,227.4 717.3,230.5 717.9,228.4 718.5,227.5 719.1,230.7 719.6,243.7 720.2,243.6 720.8,242.9 721.4,247.3 722.0,249.6 722.6,250.6 723.1,257.1 723.7,255.5 724.3,259.3 724.9,256.6 725.5,257.7 726.0,259.6 726.6,256.2 727.2,261.6 727.8,258.0 728.4,260.8 729.0,252.3 729.5,251.2 730.1,254.5 730.7,250.9 731.3,252.6 731.9,247.0 732.5,236.7 733.0,243.5 733.6,243.2 734.2,241.4 734.8,236.4 735.4,218.7 735.9,212.0 736.5,226.0 737.1,224.3 737.7,224.1 738.3,217.6 738.9,189.5 739.4,196.4 740.0,209.6 740.6,213.4 741.2,177.7 741.8,211.1 742.3,206.8 742.9,227.9 743.5,236.4 744.1,241.9 744.7,242.3 745.3,249.0 745.8,243.0 746.4,245.7 747.0,251.1 747.6,252.8 748.2,254.2 748.8,254.5 749.3,255.2 749.9,252.9 750.5,261.4" stroke="#1677c4" stroke-width="0.85"/>
<polyline points="424.5,180.5 424.7,175.7 424.8,174.9 425.0,170.4 425.2,161.5 425.3,158.0 425.5,159.8 425.6,149.4 425.8,142.2 426.0,141.9 426.1,139.5 426.3,128.6 426.5,124.4 426.6,127.3 426.8,117.7 426.9,108.8 427.1,108.4 427.3,109.3 427.4,96.1 427.6,90.7 427.8,85.0 427.9,94.2 428.1,97.1 428.2,114.0 428.4,138.1 428.6,150.1 428.7,169.4 428.9,192.8 429.1,210.7 429.2,213.1 429.4,207.9 429.6,209.5 429.7,198.7 429.9,209.2 430.0,187.1 430.2,181.1 430.4,194.9 430.5,170.1 430.7,157.4 430.9,151.7 431.0,164.8 431.2,158.3 431.3,188.9 431.5,203.6 431.7,207.2 431.8,212.8 432.0,208.9 432.2,209.7 432.3,211.5 432.5,214.8 432.6,216.2 432.8,217.8 433.0,214.5 433.1,211.4 433.3,209.5 433.5,201.1 433.6,202.9 433.8,202.2 434.0,191.1 434.1,197.2 434.3,205.8 434.4,206.7 434.6,196.1 434.8,206.0 434.9,205.5 435.1,210.7 435.3,211.2 435.4,212.6 435.6,214.9 435.7,216.6 435.9,214.9 436.1,216.9 436.2,210.0 436.4,212.0 436.6,213.3 436.7,203.7 436.9,210.4 437.1,204.2 437.2,208.0 437.4,203.4 437.5,199.8 437.7,202.0 437.9,203.5 438.0,210.8 438.2,215.8 438.4,213.2 438.5,214.9 438.7,214.9 438.8,218.5 439.0,215.7 439.2,215.1 439.3,220.6 439.5,216.5 439.7,217.4 439.8,218.7 440.0,210.9 440.1,209.5 440.3,204.5 440.5,212.2 440.6,185.3 440.8,191.8 441.4,198.8 442.0,205.8 442.5,213.6 443.1,209.3 443.7,194.3 444.3,165.5 444.9,175.2 445.5,201.5 446.0,213.4 446.6,206.8 447.2,176.1 447.8,152.2 448.4,189.8 448.9,206.4 449.5,210.2 450.1,196.9 450.7,136.5 451.3,163.7 451.9,171.8 452.4,207.8 453.0,211.6 453.6,198.3 454.2,166.5 454.8,182.2 455.4,200.2 455.9,211.8 456.5,216.4 457.1,199.5 457.7,209.5 458.3,191.7 458.8,212.7 459.4,214.0 460.0,218.3 460.6,205.7 461.2,208.5 461.8,204.3 462.3,213.5 462.9,214.9 463.5,216.3 464.1,211.0 464.7,203.0 465.2,197.7 465.8,215.1 466.4,221.8 467.0,216.4 467.6,201.7 468.2,187.6 468.7,213.5 469.3,207.5 469.9,214.3 470.5,208.4 471.1,170.9 471.7,163.5 472.2,188.3 472.8,211.3 473.4,207.7 474.0,201.7 474.6,187.8 475.1,157.5 475.7,193.1 476.3,212.0 476.9,211.3 477.5,206.7 478.1,167.1 478.6,176.3 479.2,206.5 479.8,210.8 480.4,212.1 481.0,207.3 481.6,188.8 482.1,195.3 482.7,212.9 483.3,212.2 483.9,216.1 484.5,211.4 485.0,196.9 485.6,203.0 486.2,213.2 486.8,213.8 487.4,211.7 488.0,201.5 488.5,203.9 489.1,198.2 489.7,213.6 490.3,216.0 490.9,207.8 491.4,190.1 492.0,197.7 492.6,191.3 493.2,209.8 493.8,212.7 494.4,210.6 494.9,188.4 495.5,168.8 496.1,197.7 496.7,210.8 497.3,211.5 497.9,200.3 498.4,178.6 499.0,178.1 499.6,206.7 500.2,211.5 500.8,212.7 501.3,204.1 501.9,171.0 502.5,187.4 503.1,207.2 503.7,214.1 504.3,213.5 504.8,204.9 505.4,200.7 506.0,212.4 506.6,211.3 507.2,215.1 507.7,217.1 508.3,200.4 508.9,194.8 509.5,204.0 510.1,212.5 510.7,214.6 511.2,217.1 511.8,205.7 512.4,208.2 513.0,211.5 513.6,210.0 514.1,213.0 514.7,206.1 515.3,197.1 515.9,186.1 516.5,205.5 517.1,207.3 517.6,209.4 518.2,201.8 518.8,179.7 519.4,183.7 520.0,195.7 520.6,208.5 521.1,208.7 521.7,203.4 522.3,199.1 522.9,169.3 523.5,197.1 524.0,209.2 524.6,206.7 525.2,200.7 525.8,203.5 526.4,195.4 527.0,210.1 527.5,213.3 528.1,213.8 528.7,205.2 529.3,207.6 529.9,208.5 530.5,213.1 531.0,213.0 531.6,209.4 532.2,205.0 532.8,192.0 533.4,200.7 533.9,212.1 534.5,206.8 535.1,212.3 535.7,199.9 536.3,197.4 536.9,213.1 537.4,209.1 538.0,209.7 538.6,212.1 539.2,202.6 539.8,199.3 540.3,210.4 540.9,209.8 541.5,212.5 542.1,204.1 542.7,189.6 543.3,172.5 543.8,203.4 544.4,213.8 545.0,214.3 545.6,200.3 546.2,197.5 546.8,206.9 547.3,207.0 547.9,210.1 548.5,209.0 549.1,195.5 549.7,190.9 550.2,203.0 550.8,205.2 551.4,211.9 552.0,214.5 552.6,204.7 553.2,203.1 553.7,198.8 554.3,212.0 554.9,212.3 555.5,215.0 556.1,206.9 556.6,204.2 557.2,213.8 557.8,214.5 558.4,218.2 559.0,208.1 559.6,193.8 560.1,207.6 560.7,210.6 561.3,216.4 561.9,210.5 562.5,208.5 563.0,203.7 563.6,185.3 564.2,206.1 564.8,216.0 565.4,213.2 566.0,202.5 566.5,201.2 567.1,190.7 567.7,202.3 568.3,210.2 568.9,207.3 569.5,200.7 570.0,178.1 570.6,181.1 571.2,203.5 571.8,208.7 572.4,207.3 572.9,198.9 573.5,197.9 574.1,186.7 574.7,207.7 575.3,214.1 575.9,207.1 576.4,194.2 577.0,185.7 577.6,207.5 578.2,212.6 578.8,213.1 579.4,217.3 579.9,197.4 580.5,196.0 581.1,208.7 581.7,214.8 582.3,216.9 582.8,213.9 583.4,207.7 584.0,206.0 584.6,211.0 585.2,215.0 585.8,217.5 586.3,205.2 586.9,204.5 587.5,197.6 588.1,214.8 588.7,215.6 589.2,212.2 589.8,201.9 590.4,190.0 591.0,209.2 591.6,207.3 592.2,212.0 592.7,208.9 593.3,197.2 593.9,184.6 594.5,201.4 595.1,210.6 595.6,212.4 596.2,207.8 596.8,204.2 597.4,200.9 598.0,198.7 598.6,211.9 599.1,216.2 599.7,216.0 600.3,206.9 600.9,195.3 601.5,207.6 602.1,216.8 602.6,215.7 603.2,215.6 603.8,209.1 604.4,208.2 605.0,214.3 605.5,215.3 606.1,213.8 606.7,210.6 607.3,195.5 607.9,202.3 608.5,214.8 609.0,217.0 609.6,213.1 610.2,209.4 610.8,211.4 611.4,197.3 612.0,209.7 612.5,212.2 613.1,208.7 613.7,194.8 614.3,190.6 614.9,196.2 615.4,205.6 616.0,210.6 616.6,209.8 617.2,188.5 617.8,194.3 618.4,193.3 618.9,208.8 619.5,210.8 620.1,209.2 620.7,206.6 621.3,195.7 621.8,201.4 622.4,213.7 623.0,213.5 623.6,202.7 624.2,205.4 624.8,199.6 625.3,209.6 625.9,216.9 626.5,216.8 627.1,211.5 627.7,196.7 628.2,200.8 628.8,214.1 629.4,217.9 630.0,216.7 630.6,209.1 631.2,210.5 631.7,211.0 632.3,216.7 632.9,214.6 633.5,212.5 634.1,211.0 634.7,206.0 635.2,207.5 635.8,214.0 636.4,214.6 637.0,213.3 637.6,201.3 638.1,196.4 638.7,201.6 639.3,210.6 639.9,214.2 640.5,205.2 641.1,192.2 641.6,186.1 642.2,189.8 642.8,210.3 643.4,211.0 644.0,203.2 644.5,197.7 645.1,181.3 645.7,199.9 646.3,211.3 646.9,211.7 647.5,203.9 648.0,196.9 648.6,185.7 649.2,217.0 649.8,217.8 650.4,213.5 651.0,210.8 651.5,206.1 652.1,210.8 652.7,213.9 653.3,220.7 653.9,215.7 654.4,213.3 655.0,201.3 655.6,207.4 656.2,209.9 656.8,220.3 657.4,216.5 657.9,215.0 658.5,204.8 659.1,206.4 659.7,213.7 660.3,216.1 660.9,215.6 661.4,208.7 662.0,205.4 662.6,208.2 663.2,212.5 663.8,211.5 664.3,209.4 664.9,197.1 665.5,198.8 666.1,206.0 666.7,213.1 667.3,211.2 667.8,206.0 668.4,193.8 669.0,193.3 669.6,207.6 670.2,209.9 670.7,211.8 671.3,210.1 671.9,204.8 672.5,199.7 673.1,206.9 673.7,212.9 674.2,215.9 674.8,204.9 675.4,199.9 676.0,206.7 676.6,214.8 677.1,215.6 677.7,215.0 678.3,208.5 678.9,211.5 679.5,204.1 680.1,216.1 680.6,214.1 681.2,215.9 681.8,214.2 682.4,207.9 683.0,213.9 683.6,218.6 684.1,213.0 684.7,213.7 685.3,199.7 685.9,197.9 686.5,208.5 687.0,215.5 687.6,212.3 688.2,209.7 688.8,203.1 689.4,203.8 690.0,205.0 690.5,214.0 691.1,213.5 691.7,216.4 692.3,203.4 692.9,207.8 693.5,216.9 694.0,214.1 694.6,215.9 695.2,208.1 695.8,205.5 696.4,213.6 696.9,216.5 697.5,215.2 698.1,216.0 698.7,211.8 699.3,211.9 699.9,214.9 700.4,214.8 701.0,220.5 701.6,218.6 702.2,211.2 702.8,205.6 703.3,216.3 703.9,217.3 704.5,216.8 705.1,215.2 705.7,208.8 706.3,204.9 706.8,211.8 707.4,213.7 708.0,217.3 708.6,210.9 709.2,207.9 709.8,206.5 710.3,206.9 710.9,211.4 711.5,210.0 712.1,207.6 712.7,202.8 713.2,202.0 713.8,207.9 714.4,211.9 715.0,212.7 715.6,206.5 716.2,198.9 716.7,201.4 717.3,210.0 717.9,214.2 718.5,214.4 719.1,211.0 719.6,204.9 720.2,204.7 720.8,217.8 721.4,216.0 722.0,215.5 722.6,214.6 723.1,210.0 723.7,214.7 724.3,217.7 724.9,220.1 725.5,218.7 726.0,216.1 726.6,211.4 727.2,215.4 727.8,216.8 728.4,221.1 729.0,215.2 729.5,212.1 730.1,217.4 730.7,216.6 731.3,219.5 731.9,218.0 732.5,217.0 733.0,204.6 733.6,205.0 734.2,213.5 734.8,214.9 735.4,213.3 735.9,204.4 736.5,195.5 737.1,192.6 737.7,206.0 738.3,208.6 738.9,211.0 739.4,199.4 740.0,195.0 740.6,200.1 741.2,209.6 741.8,211.8 742.3,208.7 742.9,209.1 743.5,201.9 744.1,207.5 744.7,213.3 745.3,217.2 745.8,213.1 746.4,205.7 747.0,208.7 747.6,213.6 748.2,214.0 748.8,212.2 749.3,217.6 749.9,215.0 750.5,207.5" stroke="#f05a24" stroke-width="0.85"/>
<polyline points="424.5,275.5 424.7,204.2 424.8,201.4 425.0,206.2 425.2,189.1 425.3,170.3 425.5,143.1 425.6,116.8 425.8,126.7 426.0,129.8 426.1,136.4 426.3,153.4 426.5,173.9 426.6,185.5 426.8,201.6 426.9,210.3 427.1,211.1 427.3,209.9 427.4,208.9 427.6,205.9 427.8,210.3 427.9,203.7 428.1,206.6 428.2,208.9 428.4,205.4 428.6,205.9 428.7,209.5 428.9,210.4 429.1,210.5 429.2,212.6 429.4,212.1 429.6,212.8 429.7,213.2 429.9,214.9 430.0,214.9 430.2,214.6 430.4,215.4 430.5,216.6 430.7,216.1 430.9,215.5 431.0,215.7 431.2,217.3 431.3,213.3 431.5,215.3 431.7,217.6 431.8,217.2 432.0,218.3 432.2,216.8 432.3,219.4 432.5,220.2 432.6,220.3 432.8,220.1 433.0,219.9 433.1,221.1 433.3,220.4 433.5,221.3 433.6,221.0 433.8,221.0 434.0,221.0 434.1,221.8 434.3,221.4 434.4,221.1 434.6,222.3 434.8,221.6 434.9,220.9 435.1,220.7 435.3,221.5 435.4,221.6 435.6,221.5 435.7,222.1 435.9,221.7 436.1,221.3 436.2,221.4 436.4,222.2 436.6,221.8 436.7,222.9 436.9,221.1 437.1,221.9 437.2,221.5 437.4,222.3 437.5,221.6 437.7,221.3 437.9,220.9 438.0,222.3 438.2,220.9 438.4,221.5 438.5,221.8 438.7,220.9 438.8,221.5 439.0,221.4 439.2,221.7 439.3,221.2 439.5,221.4 439.7,221.6 439.8,222.1 440.0,221.9 440.1,221.4 440.3,220.9 440.5,221.7 440.6,220.8 440.8,221.7 441.4,221.0 442.0,218.7 442.5,220.9 443.1,219.9 443.7,218.9 444.3,218.3 444.9,214.1 445.5,209.1 446.0,215.4 446.6,215.9 447.2,215.1 447.8,212.5 448.4,207.9 448.9,207.2 449.5,215.8 450.1,214.1 450.7,215.8 451.3,212.7 451.9,208.9 452.4,213.3 453.0,217.6 453.6,217.8 454.2,219.2 454.8,218.6 455.4,217.4 455.9,218.2 456.5,220.4 457.1,221.0 457.7,221.1 458.3,220.6 458.8,221.0 459.4,221.8 460.0,221.8 460.6,220.5 461.2,221.5 461.8,221.4 462.3,221.7 462.9,221.5 463.5,221.5 464.1,221.8 464.7,221.9 465.2,221.8 465.8,221.1 466.4,220.5 467.0,220.5 467.6,219.8 468.2,218.5 468.7,215.2 469.3,211.8 469.9,216.0 470.5,216.5 471.1,213.9 471.7,210.8 472.2,204.0 472.8,206.4 473.4,211.2 474.0,210.9 474.6,212.4 475.1,209.9 475.7,207.8 476.3,209.7 476.9,215.1 477.5,215.3 478.1,215.1 478.6,212.8 479.2,214.2 479.8,217.3 480.4,217.7 481.0,218.7 481.6,218.6 482.1,219.8 482.7,218.8 483.3,220.3 483.9,219.7 484.5,219.9 485.0,221.0 485.6,220.4 486.2,220.0 486.8,220.7 487.4,221.0 488.0,222.1 488.5,222.1 489.1,221.6 489.7,220.1 490.3,220.5 490.9,220.9 491.4,220.7 492.0,220.3 492.6,214.6 493.2,217.2 493.8,217.7 494.4,217.4 494.9,215.3 495.5,212.5 496.1,208.5 496.7,208.7 497.3,213.1 497.9,213.1 498.4,211.6 499.0,210.6 499.6,207.8 500.2,212.1 500.8,214.2 501.3,215.9 501.9,217.0 502.5,216.2 503.1,214.2 503.7,217.2 504.3,220.2 504.8,219.4 505.4,220.9 506.0,220.5 506.6,221.0 507.2,221.3 507.7,221.5 508.3,221.3 508.9,220.8 509.5,221.7 510.1,221.9 510.7,220.6 511.2,221.5 511.8,221.7 512.4,220.3 513.0,219.9 513.6,221.9 514.1,220.5 514.7,219.8 515.3,219.3 515.9,218.7 516.5,214.4 517.1,213.7 517.6,216.8 518.2,216.2 518.8,215.2 519.4,211.3 520.0,202.8 520.6,210.7 521.1,211.7 521.7,213.2 522.3,212.2 522.9,209.3 523.5,203.2 524.0,210.1 524.6,213.9 525.2,214.5 525.8,214.7 526.4,212.1 527.0,212.2 527.5,215.9 528.1,217.5 528.7,217.8 529.3,218.7 529.9,217.9 530.5,218.5 531.0,220.8 531.6,221.4 532.2,219.6 532.8,219.8 533.4,220.6 533.9,220.4 534.5,221.2 535.1,221.5 535.7,220.4 536.3,221.3 536.9,219.0 537.4,220.5 538.0,219.8 538.6,218.7 539.2,218.3 539.8,217.4 540.3,214.3 540.9,217.0 541.5,217.5 542.1,216.5 542.7,214.8 543.3,210.1 543.8,210.2 544.4,209.0 545.0,213.9 545.6,213.1 546.2,211.0 546.8,211.8 547.3,207.9 547.9,210.3 548.5,214.0 549.1,213.3 549.7,212.7 550.2,211.6 550.8,213.8 551.4,216.2 552.0,217.5 552.6,218.2 553.2,218.1 553.7,217.2 554.3,217.5 554.9,218.2 555.5,219.8 556.1,219.1 556.6,220.5 557.2,220.1 557.8,220.7 558.4,221.2 559.0,220.2 559.6,220.2 560.1,220.4 560.7,220.3 561.3,220.5 561.9,219.8 562.5,219.8 563.0,218.7 563.6,217.4 564.2,214.7 564.8,213.1 565.4,215.2 566.0,214.8 566.5,213.9 567.1,210.3 567.7,210.4 568.3,209.7 568.9,211.7 569.5,211.6 570.0,212.9 570.6,209.4 571.2,204.6 571.8,212.8 572.4,213.9 572.9,214.7 573.5,215.0 574.1,212.0 574.7,212.8 575.3,217.4 575.9,218.8 576.4,218.2 577.0,219.4 577.6,218.8 578.2,218.5 578.8,220.1 579.4,219.9 579.9,220.9 580.5,220.2 581.1,220.0 581.7,219.3 582.3,220.3 582.8,220.0 583.4,221.0 584.0,220.9 584.6,219.8 585.2,220.8 585.8,220.3 586.3,220.7 586.9,219.5 587.5,217.9 588.1,219.1 588.7,216.6 589.2,218.3 589.8,217.5 590.4,216.1 591.0,211.2 591.6,209.2 592.2,213.2 592.7,213.9 593.3,212.7 593.9,210.6 594.5,207.6 595.1,207.5 595.6,211.5 596.2,214.6 596.8,213.9 597.4,213.0 598.0,209.3 598.6,211.7 599.1,217.2 599.7,218.5 600.3,220.5 600.9,218.3 601.5,218.6 602.1,220.1 602.6,220.6 603.2,221.8 603.8,221.5 604.4,219.8 605.0,220.6 605.5,220.4 606.1,220.5 606.7,220.4 607.3,220.6 607.9,219.0 608.5,220.3 609.0,219.6 609.6,220.4 610.2,220.4 610.8,221.2 611.4,218.7 612.0,215.4 612.5,216.5 613.1,218.5 613.7,217.6 614.3,215.5 614.9,209.6 615.4,212.9 616.0,213.5 616.6,214.5 617.2,215.3 617.8,210.1 618.4,205.6 618.9,205.8 619.5,212.7 620.1,213.0 620.7,213.5 621.3,211.2 621.8,208.9 622.4,211.3 623.0,215.3 623.6,217.7 624.2,217.6 624.8,217.5 625.3,217.3 625.9,219.2 626.5,220.1 627.1,221.3 627.7,220.8 628.2,220.0 628.8,221.7 629.4,221.2 630.0,220.7 630.6,222.1 631.2,221.3 631.7,222.1 632.3,221.2 632.9,221.5 633.5,221.0 634.1,220.3 634.7,219.4 635.2,217.4 635.8,216.6 636.4,215.4 637.0,216.2 637.6,215.5 638.1,212.4 638.7,206.4 639.3,205.7 639.9,209.5 640.5,209.6 641.1,208.2 641.6,206.7 642.2,199.9 642.8,202.3 643.4,208.4 644.0,208.9 644.5,210.6 645.1,208.7 645.7,203.7 646.3,211.8 646.9,215.6 647.5,216.9 648.0,216.3 648.6,217.2 649.2,217.9 649.8,219.0 650.4,219.3 651.0,220.3 651.5,220.7 652.1,220.9 652.7,219.5 653.3,219.5 653.9,220.9 654.4,220.2 655.0,219.3 655.6,219.0 656.2,220.4 656.8,219.8 657.4,219.1 657.9,219.9 658.5,219.2 659.1,217.8 659.7,216.6 660.3,217.5 660.9,217.6 661.4,218.0 662.0,214.3 662.6,209.5 663.2,212.6 663.8,212.6 664.3,213.9 664.9,211.9 665.5,210.2 666.1,203.7 666.7,207.9 667.3,211.9 667.8,213.1 668.4,212.9 669.0,210.5 669.6,210.3 670.2,212.6 670.7,215.3 671.3,216.2 671.9,217.3 672.5,216.0 673.1,217.5 673.7,219.6 674.2,220.8 674.8,220.2 675.4,221.7 676.0,221.6 676.6,220.0 677.1,220.0 677.7,220.3 678.3,222.1 678.9,221.1 679.5,220.4 680.1,220.7 680.6,221.7 681.2,220.8 681.8,221.4 682.4,220.5 683.0,216.9 683.6,216.9 684.1,219.0 684.7,218.7 685.3,216.6 685.9,213.9 686.5,211.0 687.0,211.1 687.6,213.3 688.2,212.9 688.8,213.1 689.4,208.3 690.0,207.5 690.5,207.3 691.1,212.0 691.7,212.7 692.3,212.9 692.9,209.0 693.5,211.8 694.0,213.0 694.6,215.4 695.2,217.4 695.8,217.7 696.4,215.8 696.9,217.2 697.5,219.3 698.1,220.7 698.7,221.2 699.3,221.3 699.9,219.6 700.4,219.6 701.0,220.8 701.6,219.9 702.2,219.4 702.8,219.5 703.3,219.5 703.9,218.9 704.5,219.8 705.1,218.5 705.7,218.5 706.3,216.4 706.8,215.9 707.4,217.0 708.0,217.1 708.6,215.9 709.2,215.2 709.8,212.2 710.3,212.1 710.9,214.8 711.5,213.8 712.1,213.4 712.7,212.6 713.2,206.1 713.8,208.8 714.4,210.0 715.0,211.7 715.6,212.3 716.2,211.1 716.7,210.9 717.3,208.5 717.9,213.2 718.5,216.4 719.1,217.7 719.6,218.4 720.2,215.7 720.8,218.2 721.4,220.3 722.0,220.1 722.6,220.3 723.1,220.8 723.7,221.8 724.3,221.9 724.9,222.0 725.5,222.0 726.0,221.3 726.6,220.0 727.2,220.4 727.8,220.8 728.4,220.6 729.0,220.7 729.5,218.9 730.1,220.2 730.7,217.2 731.3,218.7 731.9,219.0 732.5,219.0 733.0,216.7 733.6,215.6 734.2,210.6 734.8,214.2 735.4,215.5 735.9,214.1 736.5,212.8 737.1,210.5 737.7,208.2 738.3,209.8 738.9,212.7 739.4,213.2 740.0,213.5 740.6,208.5 741.2,207.7 741.8,214.4 742.3,216.6 742.9,216.5 743.5,217.6 744.1,214.4 744.7,216.9 745.3,218.9 745.8,220.1 746.4,220.6 747.0,219.8 747.6,220.6 748.2,220.0 748.8,219.4 749.3,220.5 749.9,221.2 750.5,221.4" stroke="#f4b21e" stroke-width="0.85"/>
<polyline points="424.5,199.3 424.7,200.1 424.8,200.5 425.0,195.4 425.2,193.9 425.3,196.3 425.5,192.8 425.6,188.9 425.8,189.4 426.0,191.4 426.1,185.5 426.3,183.3 426.5,185.7 426.6,180.2 426.8,182.4 426.9,188.5 427.1,200.0 427.3,204.5 427.4,213.5 427.6,225.7 427.8,234.3 427.9,236.5 428.1,236.1 428.2,238.2 428.4,240.4 428.6,238.1 428.7,239.0 428.9,240.1 429.1,242.3 429.2,239.6 429.4,241.5 429.6,242.9 429.7,238.0 429.9,238.7 430.0,242.0 430.2,240.7 430.4,243.0 430.5,245.5 430.7,247.8 430.9,249.1 431.0,250.8 431.2,253.5 431.3,254.2 431.5,255.4 431.7,258.1 431.8,258.1 432.0,259.6 432.2,262.1 432.3,263.0 432.5,263.6 432.6,264.8 432.8,264.9 433.0,266.8 433.1,265.8 433.3,263.8 433.5,265.0 433.6,267.4 433.8,264.8 434.0,265.7 434.1,267.7 434.3,266.4 434.4,267.7 434.6,268.4 434.8,268.1 434.9,269.2 435.1,272.5 435.3,270.0 435.4,272.4 435.6,271.7 435.7,271.3 435.9,273.0 436.1,273.7 436.2,273.3 436.4,273.1 436.6,274.9 436.7,274.7 436.9,273.1 437.1,271.6 437.2,273.4 437.4,272.1 437.5,273.9 437.7,272.8 437.9,272.6 438.0,274.2 438.2,272.6 438.4,272.8 438.5,275.5 438.7,272.7 438.8,272.3 439.0,272.4 439.2,272.3 439.3,274.1 439.5,273.6 439.7,272.7 439.8,273.5 440.0,272.8 440.1,270.4 440.3,272.9 440.5,272.0 440.6,268.7 440.8,271.1 441.4,270.6 442.0,266.4 442.5,263.3 443.1,257.6 443.7,255.1 444.3,249.3 444.9,246.2 445.5,239.9 446.0,236.9 446.6,230.5 447.2,222.9 447.8,223.3 448.4,226.1 448.9,224.8 449.5,221.1 450.1,218.4 450.7,217.4 451.3,225.9 451.9,228.7 452.4,234.6 453.0,233.9 453.6,236.4 454.2,237.3 454.8,244.9 455.4,252.4 455.9,253.2 456.5,257.3 457.1,258.4 457.7,263.5 458.3,267.0 458.8,266.4 459.4,268.9 460.0,270.4 460.6,272.8 461.2,270.5 461.8,273.2 462.3,273.6 462.9,274.6 463.5,273.6 464.1,272.0 464.7,271.8 465.2,270.3 465.8,268.4 466.4,262.4 467.0,257.1 467.6,252.8 468.2,250.8 468.7,245.4 469.3,242.6 469.9,235.2 470.5,226.9 471.1,217.6 471.7,218.3 472.2,216.9 472.8,216.4 473.4,214.2 474.0,207.2 474.6,208.6 475.1,218.7 475.7,222.7 476.3,225.7 476.9,230.8 477.5,230.1 478.1,233.4 478.6,244.8 479.2,247.6 479.8,254.1 480.4,256.0 481.0,257.9 481.6,261.5 482.1,267.9 482.7,267.7 483.3,270.0 483.9,269.1 484.5,269.6 485.0,270.6 485.6,271.1 486.2,271.1 486.8,270.8 487.4,271.5 488.0,270.5 488.5,269.9 489.1,269.1 489.7,264.3 490.3,264.2 490.9,255.3 491.4,253.3 492.0,251.3 492.6,248.2 493.2,240.9 493.8,236.4 494.4,229.1 494.9,223.7 495.5,221.4 496.1,220.9 496.7,218.9 497.3,213.3 497.9,213.9 498.4,208.3 499.0,217.1 499.6,224.2 500.2,227.0 500.8,227.4 501.3,229.5 501.9,235.1 502.5,244.2 503.1,252.3 503.7,255.1 504.3,258.9 504.8,262.5 505.4,264.1 506.0,269.7 506.6,268.9 507.2,272.4 507.7,275.2 508.3,274.7 508.9,275.5 509.5,274.8 510.1,275.1 510.7,275.5 511.2,275.5 511.8,274.8 512.4,274.7 513.0,274.9 513.6,270.7 514.1,267.9 514.7,267.4 515.3,260.4 515.9,262.9 516.5,258.1 517.1,255.3 517.6,250.9 518.2,243.5 518.8,241.1 519.4,241.6 520.0,239.1 520.6,239.5 521.1,234.6 521.7,234.0 522.3,236.4 522.9,237.9 523.5,241.3 524.0,243.2 524.6,244.9 525.2,243.6 525.8,249.7 526.4,254.5 527.0,257.3 527.5,260.3 528.1,260.2 528.7,265.4 529.3,267.1 529.9,270.0 530.5,270.1 531.0,272.1 531.6,272.6 532.2,272.4 532.8,273.4 533.4,273.2 533.9,271.3 534.5,272.7 535.1,273.2 535.7,270.8 536.3,269.7 536.9,268.9 537.4,269.7 538.0,264.7 538.6,261.9 539.2,257.9 539.8,256.9 540.3,253.2 540.9,249.4 541.5,243.3 542.1,236.5 542.7,233.7 543.3,232.6 543.8,232.2 544.4,228.0 545.0,225.0 545.6,219.9 546.2,222.3 546.8,225.5 547.3,227.4 547.9,231.1 548.5,231.6 549.1,231.7 549.7,238.0 550.2,244.8 550.8,247.4 551.4,251.2 552.0,252.7 552.6,260.0 553.2,262.9 553.7,268.7 554.3,266.6 554.9,272.2 555.5,272.2 556.1,270.3 556.6,271.6 557.2,274.5 557.8,270.6 558.4,272.6 559.0,274.1 559.6,271.9 560.1,270.6 560.7,269.6 561.3,271.5 561.9,264.4 562.5,265.6 563.0,260.6 563.6,257.1 564.2,255.4 564.8,252.5 565.4,248.7 566.0,238.3 566.5,237.1 567.1,239.1 567.7,235.7 568.3,234.2 568.9,229.8 569.5,227.1 570.0,225.4 570.6,229.6 571.2,232.0 571.8,231.4 572.4,231.4 572.9,230.3 573.5,237.0 574.1,244.4 574.7,248.2 575.3,250.5 575.9,250.7 576.4,255.6 577.0,260.7 577.6,265.5 578.2,268.1 578.8,267.6 579.4,269.4 579.9,270.4 580.5,272.6 581.1,273.3 581.7,271.9 582.3,275.5 582.8,274.5 583.4,273.0 584.0,272.3 584.6,273.6 585.2,273.3 585.8,272.6 586.3,267.0 586.9,265.0 587.5,262.7 588.1,258.5 588.7,254.2 589.2,249.3 589.8,242.8 590.4,239.9 591.0,236.4 591.6,231.6 592.2,232.1 592.7,222.1 593.3,225.5 593.9,223.0 594.5,223.7 595.1,227.0 595.6,230.8 596.2,228.9 596.8,230.4 597.4,239.8 598.0,244.7 598.6,250.1 599.1,253.7 599.7,258.4 600.3,257.8 600.9,264.8 601.5,268.1 602.1,273.7 602.6,274.4 603.2,275.5 603.8,275.5 604.4,275.5 605.0,275.5 605.5,275.5 606.1,275.5 606.7,275.5 607.3,275.5 607.9,273.7 608.5,274.5 609.0,274.9 609.6,271.9 610.2,268.9 610.8,265.8 611.4,266.1 612.0,262.0 612.5,257.5 613.1,254.9 613.7,246.1 614.3,246.3 614.9,243.3 615.4,240.5 616.0,239.2 616.6,233.4 617.2,226.3 617.8,232.0 618.4,235.4 618.9,236.6 619.5,234.7 620.1,233.7 620.7,235.3 621.3,239.6 621.8,242.5 622.4,248.0 623.0,250.1 623.6,250.1 624.2,254.8 624.8,257.1 625.3,262.2 625.9,261.6 626.5,265.9 627.1,266.5 627.7,268.0 628.2,267.4 628.8,270.4 629.4,267.9 630.0,270.2 630.6,271.7 631.2,270.8 631.7,270.1 632.3,267.5 632.9,269.5 633.5,267.5 634.1,262.8 634.7,264.3 635.2,263.1 635.8,260.8 636.4,258.8 637.0,252.5 637.6,246.9 638.1,246.6 638.7,245.4 639.3,241.0 639.9,237.6 640.5,233.6 641.1,227.2 641.6,230.7 642.2,233.6 642.8,232.4 643.4,234.9 644.0,234.1 644.5,233.6 645.1,242.4 645.7,243.3 646.3,251.0 646.9,250.0 647.5,250.4 648.0,254.6 648.6,260.0 649.2,264.1 649.8,266.3 650.4,264.8 651.0,267.9 651.5,270.3 652.1,271.1 652.7,271.7 653.3,269.4 653.9,268.1 654.4,269.7 655.0,268.9 655.6,269.4 656.2,267.3 656.8,266.5 657.4,265.2 657.9,261.7 658.5,263.9 659.1,259.5 659.7,259.6 660.3,253.4 660.9,248.4 661.4,242.7 662.0,240.7 662.6,239.6 663.2,236.6 663.8,230.7 664.3,227.8 664.9,221.9 665.5,225.5 666.1,224.9 666.7,225.0 667.3,225.3 667.8,220.9 668.4,223.7 669.0,232.9 669.6,237.1 670.2,242.6 670.7,244.7 671.3,250.5 671.9,254.1 672.5,258.0 673.1,262.9 673.7,266.9 674.2,268.5 674.8,272.4 675.4,273.0 676.0,275.5 676.6,275.5 677.1,275.5 677.7,275.5 678.3,275.5 678.9,275.5 679.5,275.4 680.1,273.2 680.6,275.5 681.2,272.3 681.8,268.9 682.4,267.9 683.0,265.0 683.6,262.0 684.1,257.0 684.7,249.4 685.3,244.2 685.9,242.7 686.5,237.8 687.0,235.1 687.6,232.2 688.2,224.5 688.8,223.6 689.4,222.4 690.0,222.5 690.5,223.7 691.1,220.3 691.7,221.8 692.3,222.8 692.9,230.6 693.5,234.4 694.0,239.8 694.6,241.0 695.2,245.0 695.8,251.5 696.4,257.5 696.9,262.6 697.5,264.4 698.1,267.0 698.7,273.2 699.3,275.2 699.9,273.4 700.4,275.5 701.0,273.7 701.6,275.5 702.2,275.5 702.8,275.5 703.3,275.5 703.9,275.5 704.5,273.8 705.1,273.2 705.7,271.0 706.3,270.5 706.8,267.6 707.4,264.6 708.0,260.2 708.6,255.7 709.2,251.9 709.8,250.2 710.3,249.5 710.9,245.0 711.5,239.5 712.1,236.0 712.7,232.7 713.2,234.3 713.8,232.3 714.4,232.9 715.0,228.3 715.6,226.6 716.2,230.8 716.7,238.2 717.3,238.6 717.9,241.7 718.5,244.4 719.1,245.3 719.6,253.1 720.2,255.1 720.8,259.3 721.4,262.3 722.0,262.6 722.6,265.0 723.1,267.5 723.7,269.2 724.3,270.9 724.9,267.9 725.5,270.8 726.0,269.9 726.6,268.4 727.2,268.1 727.8,267.7 728.4,269.7 729.0,268.8 729.5,267.1 730.1,268.3 730.7,263.5 731.3,264.4 731.9,259.7 732.5,253.4 733.0,252.7 733.6,250.2 734.2,246.2 734.8,242.5 735.4,240.2 735.9,235.1 736.5,227.3 737.1,232.3 737.7,231.9 738.3,230.6 738.9,223.2 739.4,225.4 740.0,229.5 740.6,235.6 741.2,236.4 741.8,238.3 742.3,241.1 742.9,240.5 743.5,246.0 744.1,253.4 744.7,255.3 745.3,261.0 745.8,259.0 746.4,265.1 747.0,267.2 747.6,268.6 748.2,269.0 748.8,269.5 749.3,268.2 749.9,268.0 750.5,268.5" stroke="#8f3ea0" stroke-width="0.85"/>
<polyline points="424.5,209.4 424.7,206.5 424.8,203.4 425.0,204.0 425.2,205.7 425.3,200.9 425.5,199.3 425.6,201.4 425.8,199.5 426.0,195.7 426.1,195.9 426.3,192.9 426.5,194.6 426.6,196.3 426.8,204.1 426.9,211.3 427.1,216.8 427.3,226.1 427.4,229.3 427.6,228.6 427.8,228.9 427.9,232.6 428.1,230.2 428.2,230.8 428.4,227.7 428.6,228.3 428.7,234.3 428.9,230.5 429.1,236.0 429.2,236.6 429.4,238.6 429.6,239.7 429.7,243.2 429.9,242.8 430.0,245.3 430.2,247.0 430.4,245.0 430.5,246.5 430.7,246.1 430.9,247.7 431.0,247.0 431.2,247.5 431.3,245.6 431.5,247.1 431.7,244.1 431.8,246.8 432.0,245.1 432.2,246.9 432.3,245.2 432.5,247.3 432.6,247.2 432.8,246.4 433.0,248.1 433.1,249.6 433.3,248.5 433.5,248.2 433.6,251.8 433.8,248.1 434.0,248.1 434.1,251.4 434.3,249.6 434.4,248.4 434.6,250.4 434.8,249.4 434.9,249.1 435.1,247.8 435.3,246.7 435.4,247.9 435.6,247.5 435.7,246.2 435.9,246.5 436.1,247.1 436.2,245.3 436.4,248.3 436.6,246.5 436.7,247.1 436.9,247.2 437.1,246.4 437.2,246.7 437.4,244.0 437.5,246.1 437.7,246.4 437.9,245.0 438.0,245.7 438.2,248.9 438.4,246.7 438.5,246.0 438.7,247.5 438.8,246.4 439.0,247.3 439.2,246.5 439.3,249.0 439.5,249.4 439.7,248.1 439.8,247.5 440.0,246.5 440.1,248.4 440.3,249.1 440.5,247.3 440.6,248.3 440.8,246.3 441.4,247.6 442.0,248.4 442.5,245.8 443.1,245.9 443.7,245.4 444.3,242.8 444.9,239.1 445.5,234.9 446.0,233.3 446.6,231.3 447.2,229.4 447.8,227.4 448.4,222.7 448.9,219.6 449.5,223.2 450.1,226.2 450.7,226.5 451.3,229.7 451.9,225.5 452.4,227.2 453.0,232.5 453.6,239.7 454.2,243.8 454.8,244.3 455.4,245.3 455.9,247.9 456.5,249.5 457.1,253.8 457.7,253.0 458.3,253.0 458.8,251.6 459.4,253.9 460.0,253.6 460.6,252.0 461.2,251.3 461.8,250.2 462.3,250.1 462.9,248.5 463.5,247.8 464.1,247.8 464.7,248.8 465.2,245.3 465.8,247.1 466.4,244.2 467.0,242.6 467.6,242.9 468.2,238.5 468.7,234.2 469.3,228.4 469.9,228.9 470.5,226.8 471.1,225.6 471.7,220.9 472.2,214.1 472.8,213.6 473.4,212.7 474.0,216.5 474.6,219.5 475.1,217.6 475.7,216.7 476.3,214.5 476.9,223.6 477.5,229.1 478.1,231.3 478.6,233.2 479.2,233.1 479.8,238.3 480.4,242.9 481.0,243.0 481.6,242.5 482.1,247.2 482.7,246.5 483.3,245.4 483.9,246.8 484.5,247.1 485.0,250.1 485.6,249.0 486.2,248.1 486.8,248.3 487.4,249.1 488.0,250.8 488.5,249.5 489.1,251.1 489.7,250.4 490.3,251.1 490.9,247.6 491.4,248.6 492.0,246.1 492.6,245.4 493.2,235.4 493.8,235.1 494.4,237.0 494.9,233.8 495.5,226.0 496.1,220.6 496.7,214.4 497.3,220.9 497.9,225.5 498.4,222.2 499.0,223.4 499.6,223.2 500.2,225.7 500.8,232.4 501.3,236.0 501.9,241.6 502.5,244.8 503.1,241.6 503.7,248.0 504.3,249.3 504.8,253.5 505.4,254.5 506.0,254.4 506.6,257.5 507.2,253.4 507.7,255.4 508.3,254.7 508.9,252.4 509.5,253.5 510.1,252.1 510.7,252.2 511.2,251.3 511.8,251.5 512.4,250.1 513.0,251.0 513.6,248.7 514.1,250.1 514.7,247.9 515.3,250.6 515.9,246.1 516.5,242.1 517.1,236.5 517.6,236.6 518.2,233.5 518.8,229.2 519.4,228.0 520.0,223.4 520.6,219.0 521.1,220.3 521.7,220.4 522.3,220.5 522.9,218.4 523.5,217.0 524.0,218.7 524.6,227.0 525.2,232.8 525.8,235.1 526.4,233.0 527.0,237.3 527.5,240.5 528.1,245.8 528.7,243.9 529.3,246.3 529.9,246.5 530.5,243.2 531.0,245.1 531.6,249.4 532.2,248.2 532.8,247.0 533.4,247.6 533.9,250.2 534.5,247.3 535.1,247.7 535.7,251.5 536.3,252.5 536.9,251.6 537.4,248.9 538.0,248.4 538.6,249.2 539.2,249.0 539.8,246.5 540.3,242.1 540.9,240.6 541.5,240.1 542.1,236.6 542.7,231.9 543.3,229.2 543.8,223.8 544.4,222.1 545.0,220.6 545.6,224.1 546.2,221.9 546.8,222.0 547.3,215.9 547.9,223.4 548.5,225.3 549.1,230.1 549.7,233.3 550.2,233.5 550.8,233.6 551.4,237.6 552.0,242.2 552.6,242.3 553.2,245.2 553.7,244.6 554.3,245.2 554.9,245.1 555.5,246.1 556.1,243.5 556.6,248.0 557.2,245.4 557.8,246.2 558.4,244.9 559.0,248.1 559.6,244.8 560.1,247.8 560.7,245.1 561.3,244.7 561.9,245.3 562.5,246.4 563.0,245.8 563.6,243.4 564.2,240.8 564.8,240.3 565.4,239.4 566.0,234.7 566.5,232.0 567.1,228.4 567.7,221.1 568.3,222.6 568.9,222.4 569.5,222.8 570.0,223.7 570.6,220.9 571.2,217.6 571.8,220.1 572.4,229.3 572.9,232.0 573.5,233.1 574.1,236.3 574.7,237.7 575.3,239.5 575.9,247.2 576.4,248.5 577.0,247.5 577.6,248.9 578.2,248.1 578.8,248.7 579.4,250.5 579.9,249.0 580.5,248.0 581.1,248.8 581.7,251.0 582.3,250.2 582.8,250.7 583.4,248.3 584.0,250.3 584.6,250.6 585.2,249.2 585.8,248.8 586.3,249.7 586.9,248.5 587.5,247.6 588.1,242.7 588.7,240.4 589.2,241.1 589.8,240.7 590.4,237.1 591.0,234.1 591.6,228.4 592.2,223.7 592.7,226.7 593.3,228.7 593.9,221.9 594.5,219.5 595.1,214.9 595.6,221.9 596.2,225.4 596.8,225.1 597.4,230.9 598.0,227.7 598.6,230.6 599.1,234.2 599.7,238.4 600.3,241.7 600.9,240.9 601.5,243.7 602.1,240.2 602.6,242.8 603.2,245.8 603.8,247.6 604.4,245.4 605.0,245.2 605.5,247.2 606.1,244.5 606.7,246.4 607.3,247.6 607.9,248.9 608.5,247.3 609.0,247.4 609.6,246.9 610.2,246.5 610.8,247.2 611.4,245.2 612.0,240.6 612.5,240.1 613.1,241.7 613.7,238.9 614.3,237.5 614.9,230.8 615.4,223.5 616.0,226.9 616.6,225.6 617.2,225.0 617.8,222.8 618.4,220.9 618.9,219.4 619.5,220.8 620.1,226.9 620.7,229.0 621.3,231.0 621.8,229.3 622.4,230.5 623.0,237.3 623.6,241.7 624.2,242.3 624.8,240.6 625.3,244.0 625.9,244.4 626.5,245.7 627.1,245.1 627.7,244.2 628.2,246.5 628.8,245.6 629.4,245.9 630.0,245.9 630.6,246.6 631.2,245.9 631.7,246.5 632.3,248.2 632.9,244.8 633.5,249.3 634.1,249.3 634.7,246.2 635.2,245.6 635.8,244.5 636.4,241.8 637.0,241.1 637.6,240.2 638.1,237.5 638.7,233.3 639.3,226.6 639.9,223.7 640.5,224.2 641.1,223.5 641.6,221.4 642.2,219.6 642.8,211.6 643.4,223.1 644.0,226.0 644.5,228.7 645.1,232.2 645.7,232.6 646.3,233.3 646.9,241.2 647.5,245.4 648.0,246.5 648.6,248.4 649.2,246.7 649.8,245.1 650.4,249.2 651.0,247.8 651.5,249.5 652.1,247.5 652.7,247.1 653.3,246.5 653.9,244.9 654.4,242.8 655.0,245.1 655.6,243.2 656.2,244.0 656.8,243.5 657.4,245.1 657.9,245.6 658.5,244.9 659.1,244.3 659.7,241.0 660.3,241.3 660.9,241.1 661.4,239.3 662.0,235.0 662.6,229.3 663.2,225.2 663.8,228.4 664.3,226.3 664.9,224.2 665.5,223.2 666.1,224.1 666.7,218.7 667.3,221.0 667.8,222.7 668.4,227.2 669.0,227.8 669.6,228.9 670.2,229.2 670.7,235.3 671.3,242.1 671.9,242.1 672.5,242.3 673.1,244.4 673.7,244.3 674.2,247.4 674.8,246.6 675.4,246.0 676.0,248.4 676.6,248.3 677.1,249.0 677.7,248.1 678.3,251.7 678.9,251.2 679.5,250.2 680.1,249.0 680.6,249.5 681.2,251.2 681.8,248.5 682.4,249.9 683.0,249.1 683.6,245.6 684.1,244.5 684.7,246.5 685.3,246.6 685.9,243.1 686.5,237.5 687.0,232.8 687.6,236.9 688.2,234.0 688.8,233.8 689.4,229.7 690.0,226.9 690.5,224.5 691.1,229.8 691.7,230.1 692.3,231.6 692.9,231.1 693.5,226.3 694.0,228.7 694.6,234.6 695.2,237.8 695.8,237.3 696.4,240.1 696.9,238.8 697.5,240.1 698.1,243.4 698.7,243.0 699.3,245.6 699.9,246.0 700.4,246.4 701.0,248.6 701.6,249.1 702.2,247.4 702.8,250.7 703.3,247.6 703.9,248.7 704.5,247.7 705.1,248.2 705.7,248.3 706.3,246.5 706.8,247.3 707.4,245.7 708.0,243.7 708.6,246.0 709.2,242.4 709.8,240.7 710.3,238.6 710.9,238.5 711.5,235.9 712.1,231.5 712.7,233.6 713.2,230.4 713.8,225.5 714.4,223.3 715.0,228.1 715.6,230.6 716.2,232.6 716.7,233.9 717.3,230.5 717.9,234.1 718.5,239.0 719.1,241.9 719.6,245.2 720.2,248.8 720.8,244.8 721.4,247.2 722.0,252.6 722.6,248.4 723.1,249.7 723.7,249.6 724.3,249.2 724.9,249.2 725.5,248.9 726.0,248.8 726.6,248.7 727.2,247.9 727.8,248.0 728.4,245.6 729.0,248.3 729.5,249.1 730.1,249.1 730.7,247.0 731.3,245.1 731.9,246.2 732.5,246.8 733.0,245.4 733.6,242.4 734.2,235.4 734.8,235.2 735.4,234.5 735.9,234.2 736.5,231.4 737.1,224.8 737.7,218.4 738.3,217.0 738.9,223.9 739.4,224.2 740.0,227.4 740.6,227.3 741.2,220.9 741.8,228.4 742.3,235.0 742.9,238.4 743.5,239.3 744.1,241.0 744.7,240.8 745.3,242.2 745.8,246.4 746.4,247.8 747.0,247.4 747.6,248.6 748.2,250.0 748.8,247.7 749.3,249.6 749.9,249.1 750.5,248.5" stroke="#7cb636" stroke-width="0.85"/>
<polyline points="424.5,197.1 424.7,189.7 424.8,186.2 425.0,187.0 425.2,180.8 425.3,174.4 425.5,173.2 425.6,173.4 425.8,164.4 426.0,161.2 426.1,170.0 426.3,175.2 426.5,181.1 426.6,193.8 426.8,205.3 426.9,205.5 427.1,203.3 427.3,207.5 427.4,204.9 427.6,214.1 427.8,219.6 427.9,220.9 428.1,224.9 428.2,225.6 428.4,227.3 428.6,229.0 428.7,228.6 428.9,231.7 429.1,232.4 429.2,235.5 429.4,235.3 429.6,236.3 429.7,236.5 429.9,238.2 430.0,239.4 430.2,233.3 430.4,236.0 430.5,240.6 430.7,241.9 430.9,242.4 431.0,243.0 431.2,244.3 431.3,249.1 431.5,251.1 431.7,248.7 431.8,252.3 432.0,251.3 432.2,254.8 432.3,254.1 432.5,255.0 432.6,255.9 432.8,259.8 433.0,254.8 433.1,258.6 433.3,260.2 433.5,259.3 433.6,263.0 433.8,258.1 434.0,262.0 434.1,260.7 434.3,262.3 434.4,265.8 434.6,264.1 434.8,262.0 434.9,265.8 435.1,264.4 435.3,263.4 435.4,262.7 435.6,266.7 435.7,263.8 435.9,264.5 436.1,264.7 436.2,264.0 436.4,264.2 436.6,266.8 436.7,264.3 436.9,265.8 437.1,264.1 437.2,265.2 437.4,262.0 437.5,262.8 437.7,263.5 437.9,265.4 438.0,263.8 438.2,266.4 438.4,266.3 438.5,267.8 438.7,264.1 438.8,266.5 439.0,264.6 439.2,264.5 439.3,264.9 439.5,267.3 439.7,264.4 439.8,264.9 440.0,268.6 440.1,265.5 440.3,266.6 440.5,264.6 440.6,262.2 440.8,262.3 441.4,259.3 442.0,258.7 442.5,255.2 443.1,249.3 443.7,242.5 444.3,231.4 444.9,230.1 445.5,228.1 446.0,226.5 446.6,220.1 447.2,204.8 447.8,198.8 448.4,203.6 448.9,206.9 449.5,203.7 450.1,203.6 450.7,193.3 451.3,202.5 451.9,212.6 452.4,219.5 453.0,230.4 453.6,231.1 454.2,230.4 454.8,235.0 455.4,247.6 455.9,251.8 456.5,256.2 457.1,260.1 457.7,257.5 458.3,262.1 458.8,265.9 459.4,264.5 460.0,265.9 460.6,266.4 461.2,266.8 461.8,268.1 462.3,267.1 462.9,267.6 463.5,268.6 464.1,264.0 464.7,263.5 465.2,263.7 465.8,264.2 466.4,262.1 467.0,256.2 467.6,253.9 468.2,247.3 468.7,246.8 469.3,246.2 469.9,244.6 470.5,240.2 471.1,229.6 471.7,222.2 472.2,226.7 472.8,234.4 473.4,232.5 474.0,227.0 474.6,219.7 475.1,222.9 475.7,233.1 476.3,236.3 476.9,243.8 477.5,237.7 478.1,235.6 478.6,245.4 479.2,252.9 479.8,260.1 480.4,258.1 481.0,257.1 481.6,262.4 482.1,261.3 482.7,265.5 483.3,269.9 483.9,267.7 484.5,272.4 485.0,272.9 485.6,269.5 486.2,270.3 486.8,271.9 487.4,272.4 488.0,274.7 488.5,269.8 489.1,271.4 489.7,271.3 490.3,263.7 490.9,266.4 491.4,259.4 492.0,254.6 492.6,254.9 493.2,252.7 493.8,244.6 494.4,240.0 494.9,224.6 495.5,219.0 496.1,226.9 496.7,224.9 497.3,222.3 497.9,221.7 498.4,211.6 499.0,217.8 499.6,227.2 500.2,234.3 500.8,231.1 501.3,235.2 501.9,232.1 502.5,242.1 503.1,248.8 503.7,254.2 504.3,262.2 504.8,259.4 505.4,260.9 506.0,262.4 506.6,264.6 507.2,263.9 507.7,266.7 508.3,261.7 508.9,265.1 509.5,266.3 510.1,264.8 510.7,267.5 511.2,264.7 511.8,264.8 512.4,264.2 513.0,260.8 513.6,260.4 514.1,260.5 514.7,256.6 515.3,249.4 515.9,243.2 516.5,243.9 517.1,241.4 517.6,235.8 518.2,231.3 518.8,224.8 519.4,218.3 520.0,218.7 520.6,217.9 521.1,218.7 521.7,212.9 522.3,205.1 522.9,204.8 523.5,218.5 524.0,224.7 524.6,228.1 525.2,227.4 525.8,220.1 526.4,236.9 527.0,245.3 527.5,251.7 528.1,253.1 528.7,253.3 529.3,254.7 529.9,257.7 530.5,261.1 531.0,262.8 531.6,263.6 532.2,260.4 532.8,263.5 533.4,265.2 533.9,264.7 534.5,263.6 535.1,265.0 535.7,266.1 536.3,261.8 536.9,264.2 537.4,262.9 538.0,261.3 538.6,259.6 539.2,251.5 539.8,253.8 540.3,249.3 540.9,246.6 541.5,242.3 542.1,235.9 542.7,223.5 543.3,217.1 543.8,222.3 544.4,218.5 545.0,219.1 545.6,211.7 546.2,199.5 546.8,209.4 547.3,218.4 547.9,219.9 548.5,226.3 549.1,225.6 549.7,223.3 550.2,234.9 550.8,248.0 551.4,249.5 552.0,256.6 552.6,254.0 553.2,263.6 553.7,262.1 554.3,267.2 554.9,267.4 555.5,268.0 556.1,270.9 556.6,269.1 557.2,268.8 557.8,267.4 558.4,269.3 559.0,267.3 559.6,265.6 560.1,263.3 560.7,263.4 561.3,265.7 561.9,261.1 562.5,257.9 563.0,255.0 563.6,254.3 564.2,253.2 564.8,249.4 565.4,242.1 566.0,238.3 566.5,226.9 567.1,222.5 567.7,230.1 568.3,226.3 568.9,224.2 569.5,213.3 570.0,211.3 570.6,221.8 571.2,225.0 571.8,223.3 572.4,225.9 572.9,225.1 573.5,228.6 574.1,237.1 574.7,244.0 575.3,250.3 575.9,249.6 576.4,251.1 577.0,259.5 577.6,261.3 578.2,262.6 578.8,259.2 579.4,260.9 579.9,263.1 580.5,265.4 581.1,263.6 581.7,263.2 582.3,263.7 582.8,262.6 583.4,261.3 584.0,262.7 584.6,263.7 585.2,260.9 585.8,262.4 586.3,257.9 586.9,250.0 587.5,248.9 588.1,251.1 588.7,245.3 589.2,241.0 589.8,231.9 590.4,217.2 591.0,224.1 591.6,224.4 592.2,216.5 592.7,217.3 593.3,204.9 593.9,201.7 594.5,211.4 595.1,216.1 595.6,219.5 596.2,222.8 596.8,222.2 597.4,219.3 598.0,231.6 598.6,244.2 599.1,246.0 599.7,248.7 600.3,250.5 600.9,253.7 601.5,261.4 602.1,262.6 602.6,264.8 603.2,264.2 603.8,262.9 604.4,264.3 605.0,261.4 605.5,263.6 606.1,261.0 606.7,262.5 607.3,261.5 607.9,258.9 608.5,258.2 609.0,258.5 609.6,256.3 610.2,254.0 610.8,249.9 611.4,248.5 612.0,250.3 612.5,248.4 613.1,244.0 613.7,237.3 614.3,229.3 614.9,227.9 615.4,230.3 616.0,231.6 616.6,226.6 617.2,213.9 617.8,211.6 618.4,221.1 618.9,228.1 619.5,231.2 620.1,231.7 620.7,225.8 621.3,228.5 621.8,236.0 622.4,245.8 623.0,248.0 623.6,252.2 624.2,250.6 624.8,254.4 625.3,261.6 625.9,261.0 626.5,266.7 627.1,264.5 627.7,266.9 628.2,268.4 628.8,266.6 629.4,269.5 630.0,268.2 630.6,268.8 631.2,267.6 631.7,270.4 632.3,267.7 632.9,266.7 633.5,267.4 634.1,265.0 634.7,262.7 635.2,259.4 635.8,258.7 636.4,253.3 637.0,250.0 637.6,243.2 638.1,232.7 638.7,233.8 639.3,235.3 639.9,231.6 640.5,226.2 641.1,215.9 641.6,219.3 642.2,220.9 642.8,225.7 643.4,229.7 644.0,232.7 644.5,224.0 645.1,227.4 645.7,242.0 646.3,247.4 646.9,250.4 647.5,254.2 648.0,252.1 648.6,252.9 649.2,256.9 649.8,262.3 650.4,262.8 651.0,263.1 651.5,265.3 652.1,266.3 652.7,264.5 653.3,263.2 653.9,264.7 654.4,264.3 655.0,264.9 655.6,265.2 656.2,265.9 656.8,263.3 657.4,263.3 657.9,263.2 658.5,260.4 659.1,260.7 659.7,257.9 660.3,254.1 660.9,250.7 661.4,247.1 662.0,238.7 662.6,241.4 663.2,238.9 663.8,235.2 664.3,235.4 664.9,222.7 665.5,216.9 666.1,229.4 666.7,227.1 667.3,228.6 667.8,230.2 668.4,225.1 669.0,223.6 669.6,239.7 670.2,245.9 670.7,247.3 671.3,251.3 671.9,250.8 672.5,251.8 673.1,260.4 673.7,262.3 674.2,266.3 674.8,265.8 675.4,262.8 676.0,264.8 676.6,264.7 677.1,264.8 677.7,265.8 678.3,266.7 678.9,269.3 679.5,263.9 680.1,265.2 680.6,261.0 681.2,264.7 681.8,263.3 682.4,262.1 683.0,262.7 683.6,259.4 684.1,256.7 684.7,253.8 685.3,241.9 685.9,249.3 686.5,242.3 687.0,239.9 687.6,239.3 688.2,235.2 688.8,222.3 689.4,222.7 690.0,227.2 690.5,231.3 691.1,229.5 691.7,229.1 692.3,222.3 692.9,222.0 693.5,238.7 694.0,240.8 694.6,245.2 695.2,242.4 695.8,241.0 696.4,251.8 696.9,254.5 697.5,257.9 698.1,259.9 698.7,263.0 699.3,262.8 699.9,262.0 700.4,267.2 701.0,263.3 701.6,263.7 702.2,267.0 702.8,268.4 703.3,269.3 703.9,266.2 704.5,266.6 705.1,268.3 705.7,267.1 706.3,263.1 706.8,265.4 707.4,262.5 708.0,262.6 708.6,255.9 709.2,250.2 709.8,244.6 710.3,249.3 710.9,245.0 711.5,241.1 712.1,235.6 712.7,224.6 713.2,228.1 713.8,232.0 714.4,231.1 715.0,233.8 715.6,232.0 716.2,216.4 716.7,230.9 717.3,242.4 717.9,241.3 718.5,245.3 719.1,244.0 719.6,246.0 720.2,254.1 720.8,259.8 721.4,263.7 722.0,261.2 722.6,263.7 723.1,265.0 723.7,265.8 724.3,271.3 724.9,267.1 725.5,269.0 726.0,265.0 726.6,268.6 727.2,265.0 727.8,263.4 728.4,265.3 729.0,263.6 729.5,261.4 730.1,262.3 730.7,263.0 731.3,263.8 731.9,256.7 732.5,254.6 733.0,247.8 733.6,249.3 734.2,246.2 734.8,245.4 735.4,240.9 735.9,233.5 736.5,217.1 737.1,232.0 737.7,231.1 738.3,228.4 738.9,228.2 739.4,222.6 740.0,215.3 740.6,226.0 741.2,237.7 741.8,242.0 742.3,244.7 742.9,239.7 743.5,240.1 744.1,246.8 744.7,254.3 745.3,258.2 745.8,258.7 746.4,258.4 747.0,261.5 747.6,262.6 748.2,266.6 748.8,264.5 749.3,263.4 749.9,264.6 750.5,263.6" stroke="#4ec2f0" stroke-width="0.85"/>
<polyline points="424.5,178.5 424.7,174.5 424.8,167.8 425.0,166.5 425.2,169.3 425.3,160.1 425.5,155.4 425.6,156.8 425.8,154.4 426.0,146.3 426.1,144.3 426.3,148.2 426.5,139.5 426.6,133.5 426.8,129.5 426.9,138.1 427.1,137.1 427.3,146.8 427.4,165.0 427.6,176.4 427.8,189.4 427.9,206.8 428.1,216.1 428.2,221.4 428.4,219.5 428.6,220.9 428.7,220.2 428.9,216.1 429.1,211.3 429.2,218.9 429.4,211.5 429.6,212.1 429.7,219.2 429.9,212.1 430.0,220.2 430.2,229.6 430.4,228.0 430.5,228.1 430.7,227.3 430.9,229.3 431.0,229.5 431.2,231.6 431.3,228.0 431.5,227.4 431.7,229.4 431.8,229.3 432.0,230.2 432.2,226.7 432.3,223.0 432.5,224.0 432.6,220.9 432.8,221.0 433.0,227.1 433.1,223.9 433.3,226.7 433.5,228.3 433.6,227.7 433.8,227.6 434.0,228.8 434.1,229.5 434.3,231.5 434.4,232.8 434.6,231.6 434.8,233.1 434.9,234.4 435.1,234.8 435.3,234.2 435.4,236.3 435.6,235.8 435.7,236.4 435.9,234.1 436.1,234.0 436.2,231.9 436.4,236.5 436.6,235.7 436.7,233.8 436.9,235.4 437.1,235.7 437.2,233.3 437.4,236.1 437.5,237.3 437.7,237.7 437.9,235.8 438.0,235.9 438.2,238.0 438.4,237.4 438.5,235.3 438.7,234.9 438.8,236.1 439.0,234.0 439.2,233.3 439.3,235.5 439.5,233.0 439.7,231.3 439.8,231.7 440.0,233.3 440.1,231.2 440.3,229.5 440.5,228.5 440.6,233.5 440.8,227.4 441.4,232.2 442.0,229.2 442.5,225.7 443.1,221.3 443.7,225.5 444.3,228.4 444.9,224.5 445.5,223.5 446.0,214.1 446.6,210.7 447.2,208.0 447.8,210.9 448.4,212.7 448.9,207.3 449.5,191.3 450.1,191.8 450.7,210.0 451.3,215.1 451.9,216.1 452.4,218.9 453.0,212.9 453.6,214.2 454.2,226.6 454.8,228.7 455.4,230.3 455.9,227.5 456.5,227.3 457.1,231.2 457.7,232.3 458.3,235.5 458.8,235.2 459.4,233.6 460.0,236.6 460.6,236.0 461.2,237.6 461.8,235.9 462.3,234.1 462.9,237.2 463.5,235.5 464.1,237.2 464.7,237.8 465.2,237.8 465.8,233.9 466.4,230.5 467.0,227.1 467.6,230.4 468.2,230.9 468.7,230.3 469.3,225.7 469.9,221.0 470.5,205.1 471.1,214.9 471.7,217.7 472.2,215.5 472.8,212.6 473.4,201.4 474.0,200.4 474.6,212.0 475.1,216.3 475.7,217.0 476.3,216.1 476.9,209.7 477.5,216.5 478.1,227.5 478.6,228.5 479.2,229.0 479.8,229.4 480.4,228.5 481.0,229.4 481.6,236.2 482.1,232.8 482.7,235.4 483.3,237.7 483.9,230.7 484.5,232.1 485.0,235.5 485.6,233.9 486.2,234.5 486.8,234.1 487.4,235.8 488.0,235.3 488.5,234.6 489.1,235.3 489.7,234.1 490.3,231.8 490.9,226.5 491.4,233.8 492.0,234.1 492.6,235.7 493.2,232.2 493.8,223.6 494.4,212.8 494.9,222.3 495.5,222.4 496.1,221.5 496.7,217.3 497.3,213.7 497.9,202.5 498.4,213.5 499.0,216.3 499.6,218.8 500.2,217.5 500.8,214.4 501.3,215.1 501.9,223.1 502.5,223.1 503.1,226.5 503.7,225.6 504.3,222.3 504.8,229.4 505.4,231.5 506.0,232.0 506.6,231.3 507.2,230.8 507.7,229.6 508.3,231.5 508.9,231.4 509.5,232.8 510.1,229.1 510.7,230.3 511.2,228.3 511.8,229.5 512.4,228.6 513.0,230.5 513.6,228.5 514.1,222.9 514.7,225.6 515.3,225.4 515.9,224.9 516.5,225.3 517.1,222.9 517.6,212.9 518.2,218.2 518.8,218.3 519.4,217.8 520.0,215.8 520.6,209.6 521.1,203.2 521.7,204.4 522.3,210.6 522.9,215.9 523.5,212.8 524.0,209.9 524.6,203.4 525.2,212.2 525.8,223.1 526.4,224.7 527.0,226.1 527.5,225.0 528.1,222.2 528.7,221.8 529.3,231.6 529.9,228.0 530.5,228.7 531.0,228.9 531.6,226.1 532.2,230.7 532.8,229.3 533.4,227.8 533.9,230.2 534.5,230.7 535.1,230.1 535.7,231.2 536.3,229.0 536.9,232.4 537.4,229.9 538.0,230.2 538.6,224.9 539.2,230.1 539.8,233.6 540.3,229.2 540.9,227.1 541.5,217.4 542.1,218.9 542.7,221.6 543.3,221.4 543.8,216.0 544.4,208.8 545.0,195.4 545.6,203.1 546.2,215.0 546.8,215.2 547.3,214.1 547.9,204.6 548.5,201.0 549.1,215.0 549.7,223.6 550.2,226.4 550.8,224.1 551.4,222.6 552.0,224.0 552.6,229.8 553.2,230.7 553.7,231.1 554.3,232.0 554.9,231.8 555.5,230.9 556.1,233.8 556.6,233.1 557.2,230.0 557.8,231.3 558.4,229.8 559.0,228.3 559.6,228.8 560.1,229.4 560.7,226.4 561.3,227.7 561.9,227.0 562.5,224.3 563.0,227.1 563.6,228.7 564.2,226.6 564.8,220.3 565.4,216.7 566.0,215.2 566.5,219.9 567.1,218.4 567.7,217.8 568.3,210.0 568.9,187.7 569.5,205.9 570.0,212.7 570.6,211.7 571.2,214.6 571.8,204.7 572.4,189.8 572.9,216.1 573.5,223.5 574.1,224.0 574.7,227.2 575.3,219.6 575.9,220.0 576.4,229.0 577.0,235.0 577.6,233.5 578.2,233.3 578.8,232.2 579.4,232.1 579.9,233.1 580.5,231.6 581.1,233.1 581.7,231.8 582.3,231.4 582.8,232.7 583.4,231.6 584.0,229.6 584.6,231.2 585.2,232.0 585.8,228.2 586.3,231.1 586.9,229.5 587.5,228.1 588.1,229.0 588.7,223.3 589.2,219.1 589.8,217.9 590.4,219.8 591.0,219.4 591.6,215.8 592.2,205.1 592.7,197.2 593.3,207.7 593.9,211.7 594.5,212.7 595.1,213.1 595.6,203.5 596.2,209.1 596.8,212.7 597.4,224.3 598.0,225.8 598.6,228.8 599.1,222.4 599.7,228.6 600.3,234.2 600.9,236.1 601.5,236.6 602.1,238.6 602.6,231.9 603.2,234.6 603.8,235.3 604.4,234.6 605.0,234.1 605.5,232.8 606.1,234.5 606.7,233.8 607.3,232.0 607.9,232.1 608.5,232.6 609.0,232.5 609.6,231.6 610.2,229.7 610.8,230.1 611.4,232.7 612.0,228.4 612.5,223.3 613.1,214.1 613.7,221.1 614.3,226.0 614.9,224.3 615.4,219.7 616.0,208.8 616.6,191.0 617.2,211.0 617.8,213.8 618.4,216.7 618.9,212.4 619.5,200.6 620.1,210.2 620.7,215.7 621.3,223.9 621.8,226.6 622.4,226.8 623.0,221.5 623.6,222.6 624.2,230.4 624.8,234.2 625.3,234.4 625.9,234.2 626.5,231.7 627.1,235.0 627.7,232.1 628.2,234.5 628.8,235.0 629.4,233.7 630.0,233.1 630.6,234.2 631.2,233.6 631.7,235.0 632.3,233.8 632.9,233.2 633.5,233.8 634.1,232.6 634.7,234.8 635.2,234.5 635.8,234.5 636.4,228.3 637.0,224.3 637.6,227.1 638.1,225.8 638.7,223.7 639.3,220.2 639.9,210.6 640.5,210.4 641.1,208.2 641.6,213.7 642.2,211.7 642.8,212.0 643.4,191.4 644.0,207.6 644.5,212.3 645.1,219.6 645.7,218.8 646.3,219.1 646.9,216.1 647.5,222.5 648.0,228.4 648.6,227.4 649.2,232.4 649.8,232.2 650.4,231.3 651.0,233.9 651.5,231.7 652.1,231.2 652.7,234.2 653.3,235.4 653.9,231.6 654.4,231.6 655.0,232.0 655.6,231.5 656.2,234.1 656.8,232.9 657.4,234.0 657.9,233.8 658.5,232.0 659.1,234.0 659.7,229.7 660.3,227.7 660.9,219.7 661.4,228.7 662.0,225.5 662.6,225.0 663.2,222.1 663.8,212.5 664.3,203.6 664.9,214.8 665.5,214.7 666.1,211.1 666.7,206.8 667.3,199.7 667.8,204.0 668.4,214.2 669.0,215.3 669.6,217.6 670.2,214.6 670.7,210.2 671.3,222.1 671.9,224.9 672.5,226.5 673.1,228.1 673.7,225.1 674.2,227.7 674.8,231.3 675.4,230.4 676.0,233.3 676.6,235.0 677.1,231.1 677.7,233.7 678.3,233.5 678.9,235.1 679.5,235.3 680.1,235.4 680.6,234.3 681.2,233.1 681.8,237.1 682.4,233.9 683.0,236.3 683.6,235.1 684.1,230.2 684.7,225.4 685.3,232.3 685.9,227.2 686.5,228.5 687.0,224.0 687.6,208.9 688.2,205.1 688.8,216.5 689.4,215.0 690.0,216.1 690.5,210.1 691.1,200.9 691.7,207.1 692.3,213.8 692.9,219.1 693.5,221.3 694.0,215.5 694.6,213.8 695.2,223.6 695.8,227.8 696.4,231.7 696.9,229.2 697.5,226.8 698.1,227.5 698.7,230.7 699.3,231.1 699.9,231.3 700.4,232.6 701.0,230.5 701.6,234.2 702.2,232.6 702.8,232.9 703.3,233.1 703.9,232.6 704.5,234.4 705.1,232.3 705.7,233.3 706.3,234.4 706.8,235.1 707.4,233.4 708.0,229.2 708.6,228.9 709.2,228.6 709.8,226.6 710.3,224.5 710.9,217.9 711.5,199.9 712.1,203.1 712.7,213.9 713.2,214.4 713.8,212.0 714.4,208.1 715.0,191.3 715.6,200.9 716.2,213.0 716.7,215.8 717.3,217.6 717.9,213.6 718.5,205.9 719.1,216.6 719.6,226.3 720.2,225.0 720.8,228.0 721.4,223.6 722.0,226.5 722.6,229.5 723.1,227.4 723.7,230.5 724.3,231.8 724.9,231.2 725.5,230.9 726.0,228.1 726.6,230.8 727.2,230.1 727.8,232.7 728.4,230.8 729.0,230.2 729.5,229.7 730.1,233.2 730.7,231.7 731.3,232.0 731.9,228.4 732.5,225.3 733.0,229.9 733.6,232.2 734.2,226.7 734.8,220.3 735.4,208.9 735.9,211.1 736.5,216.5 737.1,216.9 737.7,214.0 738.3,199.9 738.9,198.4 739.4,205.2 740.0,215.3 740.6,216.8 741.2,217.7 741.8,207.6 742.3,211.7 742.9,219.3 743.5,225.4 744.1,227.0 744.7,226.4 745.3,227.6 745.8,226.4 746.4,228.4 747.0,230.6 747.6,230.3 748.2,230.9 748.8,227.4 749.3,228.9 749.9,230.6 750.5,231.6" stroke="#b41e3c" stroke-width="0.85"/>
<polyline points="424.5,164.6 424.7,163.2 424.8,153.9 425.0,150.0 425.2,152.1 425.3,144.7 425.5,136.9 425.6,136.2 425.8,137.6 426.0,126.3 426.1,121.4 426.3,124.0 426.5,118.4 426.6,108.8 426.8,107.5 426.9,112.5 427.1,99.2 427.3,92.7 427.4,95.4 427.6,92.6 427.8,80.9 427.9,78.6 428.1,71.7 428.2,78.3 428.4,82.8 428.6,102.3 428.7,123.5 428.9,137.2 429.1,159.4 429.2,185.5 429.4,202.6 429.6,215.8 429.7,223.6 429.9,215.3 430.0,231.4 430.2,221.7 430.4,227.6 430.5,234.0 430.7,229.9 430.9,236.6 431.0,234.9 431.2,233.8 431.3,239.0 431.5,234.4 431.7,240.4 431.8,246.6 432.0,243.0 432.2,242.6 432.3,242.6 432.5,243.6 432.6,242.4 432.8,243.2 433.0,237.8 433.1,240.1 433.3,239.3 433.5,238.5 433.6,245.2 433.8,246.5 434.0,246.0 434.1,250.5 434.3,243.9 434.4,245.8 434.6,240.5 434.8,247.3 434.9,247.9 435.1,243.9 435.3,244.2 435.4,244.4 435.6,247.4 435.7,247.7 435.9,245.5 436.1,247.4 436.2,246.0 436.4,245.1 436.6,248.5 436.7,246.9 436.9,252.6 437.1,244.9 437.2,245.2 437.4,248.2 437.5,249.1 437.7,248.2 437.9,248.0 438.0,248.7 438.2,249.9 438.4,247.8 438.5,245.7 438.7,252.6 438.8,249.5 439.0,250.1 439.2,250.8 439.3,248.1 439.5,252.7 439.7,248.6 439.8,245.2 440.0,244.1 440.1,243.7 440.3,245.3 440.5,242.8 440.6,245.2 440.8,244.1 441.4,243.3 442.0,240.5 442.5,239.7 443.1,233.6 443.7,228.1 444.3,233.7 444.9,232.4 445.5,230.8 446.0,226.2 446.6,205.4 447.2,205.2 447.8,215.2 448.4,218.0 448.9,215.8 449.5,211.9 450.1,199.8 450.7,198.1 451.3,214.8 451.9,223.3 452.4,220.6 453.0,218.0 453.6,209.8 454.2,226.2 454.8,233.4 455.4,234.7 455.9,237.8 456.5,236.7 457.1,239.4 457.7,242.1 458.3,247.0 458.8,243.8 459.4,246.2 460.0,245.7 460.6,252.4 461.2,251.9 461.8,247.4 462.3,247.1 462.9,249.5 463.5,248.6 464.1,246.6 464.7,250.1 465.2,248.9 465.8,250.8 466.4,248.5 467.0,238.9 467.6,243.9 468.2,243.1 468.7,247.7 469.3,238.9 469.9,233.7 470.5,219.2 471.1,212.3 471.7,225.3 472.2,223.5 472.8,222.4 473.4,218.4 474.0,191.8 474.6,229.7 475.1,221.2 475.7,226.3 476.3,228.4 476.9,224.6 477.5,215.8 478.1,230.5 478.6,237.1 479.2,236.4 479.8,244.0 480.4,242.2 481.0,241.9 481.6,248.9 482.1,246.9 482.7,246.0 483.3,250.3 483.9,248.2 484.5,248.6 485.0,250.0 485.6,246.1 486.2,252.0 486.8,243.7 487.4,247.3 488.0,240.9 488.5,244.0 489.1,245.0 489.7,247.7 490.3,245.3 490.9,232.1 491.4,235.9 492.0,235.6 492.6,238.6 493.2,230.6 493.8,229.0 494.4,207.1 494.9,208.0 495.5,222.1 496.1,218.4 496.7,217.5 497.3,211.6 497.9,193.3 498.4,211.6 499.0,214.9 499.6,221.2 500.2,226.2 500.8,227.9 501.3,232.9 501.9,227.7 502.5,243.9 503.1,240.6 503.7,238.6 504.3,246.7 504.8,238.7 505.4,246.5 506.0,248.3 506.6,251.1 507.2,246.5 507.7,251.9 508.3,247.2 508.9,247.4 509.5,249.6 510.1,249.1 510.7,255.1 511.2,252.0 511.8,255.7 512.4,249.6 513.0,248.6 513.6,254.2 514.1,248.7 514.7,245.6 515.3,243.0 515.9,246.8 516.5,244.0 517.1,239.4 517.6,232.7 518.2,222.6 518.8,220.1 519.4,227.7 520.0,229.7 520.6,224.5 521.1,209.9 521.7,202.6 522.3,212.0 522.9,220.9 523.5,222.7 524.0,221.1 524.6,211.7 525.2,213.8 525.8,230.5 526.4,236.6 527.0,241.8 527.5,242.1 528.1,236.2 528.7,233.0 529.3,241.9 529.9,244.5 530.5,241.0 531.0,248.5 531.6,245.1 532.2,241.8 532.8,244.5 533.4,244.7 533.9,242.7 534.5,246.3 535.1,246.0 535.7,245.0 536.3,240.2 536.9,247.2 537.4,245.5 538.0,237.4 538.6,232.6 539.2,238.9 539.8,243.9 540.3,229.1 540.9,219.0 541.5,180.2 542.1,197.6 542.7,214.5 543.3,221.5 543.8,222.9 544.4,214.3 545.0,201.1 545.6,188.4 546.2,213.5 546.8,211.5 547.3,218.1 547.9,215.0 548.5,205.6 549.1,217.0 549.7,227.2 550.2,228.6 550.8,229.8 551.4,236.8 552.0,228.9 552.6,235.5 553.2,243.6 553.7,243.0 554.3,245.6 554.9,244.6 555.5,245.8 556.1,249.7 556.6,244.0 557.2,246.7 557.8,248.2 558.4,246.3 559.0,250.8 559.6,248.2 560.1,246.3 560.7,244.7 561.3,247.2 561.9,243.7 562.5,248.0 563.0,242.8 563.6,242.2 564.2,239.7 564.8,243.1 565.4,229.1 566.0,222.0 566.5,227.4 567.1,235.3 567.7,227.9 568.3,224.9 568.9,210.3 569.5,193.6 570.0,215.2 570.6,227.9 571.2,228.9 571.8,226.0 572.4,215.4 572.9,214.8 573.5,232.7 574.1,237.5 574.7,241.2 575.3,239.5 575.9,228.3 576.4,241.2 577.0,244.2 577.6,247.4 578.2,248.5 578.8,250.8 579.4,245.8 579.9,246.3 580.5,249.7 581.1,245.5 581.7,244.9 582.3,246.4 582.8,248.2 583.4,245.9 584.0,243.2 584.6,242.7 585.2,244.3 585.8,241.8 586.3,235.3 586.9,237.5 587.5,237.1 588.1,239.9 588.7,235.0 589.2,226.2 589.8,214.6 590.4,220.6 591.0,224.5 591.6,217.7 592.2,213.0 592.7,195.4 593.3,183.2 593.9,204.1 594.5,213.7 595.1,213.0 595.6,213.8 596.2,186.1 596.8,205.5 597.4,225.5 598.0,229.4 598.6,235.2 599.1,238.6 599.7,232.6 600.3,233.1 600.9,244.3 601.5,244.0 602.1,247.0 602.6,245.9 603.2,243.9 603.8,244.4 604.4,249.4 605.0,249.1 605.5,247.0 606.1,243.5 606.7,246.3 607.3,247.3 607.9,247.4 608.5,247.7 609.0,248.5 609.6,243.4 610.2,238.1 610.8,243.6 611.4,248.8 612.0,248.4 612.5,237.5 613.1,229.0 613.7,221.2 614.3,199.3 614.9,221.3 615.4,221.8 616.0,222.9 616.6,204.5 617.2,204.6 617.8,215.9 618.4,220.4 618.9,218.2 619.5,216.2 620.1,204.4 620.7,215.0 621.3,223.2 621.8,227.9 622.4,231.4 623.0,232.6 623.6,227.9 624.2,234.4 624.8,241.0 625.3,244.7 625.9,245.5 626.5,241.0 627.1,237.1 627.7,239.4 628.2,244.2 628.8,242.4 629.4,244.2 630.0,244.8 630.6,246.2 631.2,247.7 631.7,247.9 632.3,246.5 632.9,243.8 633.5,249.0 634.1,245.7 634.7,247.5 635.2,243.8 635.8,238.2 636.4,239.1 637.0,233.2 637.6,224.1 638.1,226.2 638.7,230.4 639.3,230.0 639.9,223.8 640.5,182.9 641.1,201.7 641.6,208.8 642.2,218.4 642.8,213.4 643.4,210.0 644.0,191.5 644.5,210.0 645.1,219.5 645.7,223.3 646.3,230.1 646.9,225.4 647.5,223.3 648.0,232.8 648.6,239.3 649.2,242.5 649.8,245.8 650.4,244.6 651.0,243.0 651.5,245.9 652.1,246.7 652.7,240.9 653.3,241.9 653.9,242.9 654.4,240.3 655.0,242.2 655.6,244.4 656.2,240.8 656.8,242.2 657.4,246.8 657.9,234.3 658.5,243.1 659.1,246.8 659.7,239.0 660.3,238.6 660.9,231.1 661.4,221.6 662.0,230.9 662.6,230.1 663.2,222.5 663.8,214.6 664.3,196.1 664.9,199.5 665.5,210.7 666.1,215.8 666.7,215.6 667.3,210.9 667.8,199.7 668.4,206.2 669.0,219.4 669.6,224.8 670.2,229.5 670.7,227.8 671.3,209.7 671.9,232.4 672.5,233.1 673.1,241.6 673.7,240.2 674.2,240.8 674.8,242.0 675.4,243.5 676.0,238.7 676.6,245.3 677.1,245.8 677.7,242.5 678.3,245.7 678.9,245.2 679.5,246.6 680.1,241.1 680.6,241.6 681.2,247.3 681.8,239.3 682.4,243.1 683.0,242.7 683.6,243.5 684.1,237.8 684.7,226.1 685.3,234.2 685.9,234.9 686.5,233.7 687.0,233.0 687.6,227.5 688.2,200.8 688.8,206.8 689.4,224.3 690.0,222.7 690.5,219.9 691.1,204.7 691.7,203.3 692.3,225.0 692.9,228.2 693.5,231.7 694.0,234.1 694.6,224.8 695.2,226.5 695.8,236.6 696.4,241.8 696.9,243.6 697.5,244.4 698.1,239.4 698.7,244.5 699.3,243.3 699.9,248.8 700.4,245.0 701.0,245.9 701.6,246.9 702.2,244.9 702.8,245.7 703.3,246.9 703.9,243.3 704.5,246.6 705.1,245.8 705.7,245.7 706.3,243.5 706.8,243.5 707.4,250.1 708.0,243.5 708.6,229.3 709.2,232.3 709.8,236.1 710.3,235.2 710.9,228.8 711.5,224.9 712.1,211.2 712.7,210.5 713.2,221.9 713.8,223.1 714.4,220.6 715.0,208.5 715.6,199.1 716.2,214.2 716.7,223.9 717.3,228.3 717.9,227.9 718.5,224.4 719.1,227.2 719.6,236.7 720.2,242.7 720.8,241.5 721.4,241.4 722.0,246.5 722.6,244.0 723.1,247.3 723.7,243.8 724.3,247.3 724.9,246.3 725.5,245.9 726.0,249.5 726.6,250.7 727.2,245.1 727.8,244.6 728.4,245.1 729.0,244.0 729.5,247.1 730.1,247.0 730.7,244.6 731.3,241.9 731.9,241.9 732.5,231.2 733.0,230.7 733.6,230.9 734.2,235.2 734.8,228.4 735.4,220.4 735.9,201.8 736.5,210.4 737.1,218.2 737.7,208.7 738.3,201.4 738.9,183.4 739.4,197.7 740.0,203.3 740.6,216.1 741.2,220.0 741.8,220.1 742.3,219.6 742.9,216.3 743.5,229.0 744.1,233.7 744.7,234.2 745.3,235.2 745.8,231.0 746.4,232.5 747.0,242.0 747.6,242.5 748.2,239.3 748.8,243.4 749.3,240.3 749.9,247.6 750.5,243.0" stroke="#1677c4" stroke-width="0.85"/>
<polyline points="424.5,160.9 424.7,145.4 424.8,135.6 425.0,132.6 425.2,118.6 425.3,104.0 425.5,110.8 425.6,124.3 425.8,128.8 426.0,143.7 426.1,166.4 426.3,183.1 426.5,198.0 426.6,215.8 426.8,227.3 426.9,230.9 427.1,227.0 427.3,228.6 427.4,229.3 427.6,228.8 427.8,229.0 427.9,228.7 428.1,227.0 428.2,227.2 428.4,226.8 428.6,222.5 428.7,225.6 428.9,228.7 429.1,234.9 429.2,234.5 429.4,236.9 429.6,238.6 429.7,242.4 429.9,241.9 430.0,244.6 430.2,245.6 430.4,249.8 430.5,250.7 430.7,250.2 430.9,250.1 431.0,249.6 431.2,253.0 431.3,249.5 431.5,252.1 431.7,252.5 431.8,250.4 432.0,251.8 432.2,250.1 432.3,253.6 432.5,254.9 432.6,255.2 432.8,257.3 433.0,257.6 433.1,257.7 433.3,258.6 433.5,258.0 433.6,260.0 433.8,262.3 434.0,260.4 434.1,260.6 434.3,257.5 434.4,259.3 434.6,260.9 434.8,262.8 434.9,264.4 435.1,264.4 435.3,263.0 435.4,264.8 435.6,267.0 435.7,265.6 435.9,267.9 436.1,266.7 436.2,265.0 436.4,267.2 436.6,272.9 436.7,267.6 436.9,270.5 437.1,269.5 437.2,269.5 437.4,269.7 437.5,273.0 437.7,268.1 437.9,271.6 438.0,271.4 438.2,269.5 438.4,268.7 438.5,270.6 438.7,272.0 438.8,268.7 439.0,269.5 439.2,267.6 439.3,266.9 439.5,270.7 439.7,270.5 439.8,268.6 440.0,269.5 440.1,265.2 440.3,267.3 440.5,266.8 440.6,266.1 440.8,263.5 441.4,263.1 442.0,258.3 442.5,255.6 443.1,252.3 443.7,250.8 444.3,246.6 444.9,241.7 445.5,231.9 446.0,223.4 446.6,226.4 447.2,224.3 447.8,220.7 448.4,218.3 448.9,211.0 449.5,211.4 450.1,218.1 450.7,222.6 451.3,224.0 451.9,223.2 452.4,224.3 453.0,229.8 453.6,238.4 454.2,244.3 454.8,247.2 455.4,253.5 455.9,253.1 456.5,259.4 457.1,262.4 457.7,264.7 458.3,264.1 458.8,266.7 459.4,269.4 460.0,271.6 460.6,271.2 461.2,270.4 461.8,269.5 462.3,269.9 462.9,269.4 463.5,270.7 464.1,270.2 464.7,268.3 465.2,268.1 465.8,265.7 466.4,263.9 467.0,261.2 467.6,260.7 468.2,257.5 468.7,250.0 469.3,244.5 469.9,239.5 470.5,242.0 471.1,239.3 471.7,238.6 472.2,236.9 472.8,225.1 473.4,231.3 474.0,237.3 474.6,237.1 475.1,234.2 475.7,235.3 476.3,234.4 476.9,235.7 477.5,248.0 478.1,245.9 478.6,256.2 479.2,251.3 479.8,256.1 480.4,261.2 481.0,263.9 481.6,264.1 482.1,266.9 482.7,266.8 483.3,268.2 483.9,269.0 484.5,270.3 485.0,269.4 485.6,267.7 486.2,267.2 486.8,270.5 487.4,269.4 488.0,267.6 488.5,267.2 489.1,266.7 489.7,266.1 490.3,259.1 490.9,259.3 491.4,251.9 492.0,249.4 492.6,244.6 493.2,239.8 493.8,236.1 494.4,231.0 494.9,230.6 495.5,225.9 496.1,217.1 496.7,213.3 497.3,212.1 497.9,216.6 498.4,220.6 499.0,218.8 499.6,216.3 500.2,210.7 500.8,223.0 501.3,234.3 501.9,232.5 502.5,234.3 503.1,238.6 503.7,240.9 504.3,248.6 504.8,255.0 505.4,258.2 506.0,260.2 506.6,267.1 507.2,264.4 507.7,264.0 508.3,264.7 508.9,268.4 509.5,266.4 510.1,266.9 510.7,267.0 511.2,264.0 511.8,266.3 512.4,264.3 513.0,261.2 513.6,260.6 514.1,256.2 514.7,256.4 515.3,251.7 515.9,248.0 516.5,241.2 517.1,233.4 517.6,230.7 518.2,233.1 518.8,228.1 519.4,225.0 520.0,220.3 520.6,219.2 521.1,214.2 521.7,216.2 522.3,214.9 522.9,218.3 523.5,217.1 524.0,217.8 524.6,221.6 525.2,229.3 525.8,233.9 526.4,239.8 527.0,240.5 527.5,243.3 528.1,253.2 528.7,255.5 529.3,259.4 529.9,259.3 530.5,262.2 531.0,263.9 531.6,264.1 532.2,264.3 532.8,266.9 533.4,267.3 533.9,266.1 534.5,262.2 535.1,262.1 535.7,260.3 536.3,261.5 536.9,259.5 537.4,259.0 538.0,254.0 538.6,254.7 539.2,251.4 539.8,250.8 540.3,248.6 540.9,237.5 541.5,244.1 542.1,239.9 542.7,239.1 543.3,236.0 543.8,233.3 544.4,221.9 545.0,228.4 545.6,233.6 546.2,230.3 546.8,231.5 547.3,228.4 547.9,227.8 548.5,238.1 549.1,241.7 549.7,244.7 550.2,247.6 550.8,253.0 551.4,250.4 552.0,257.9 552.6,260.7 553.2,264.4 553.7,266.0 554.3,266.9 554.9,269.1 555.5,265.4 556.1,270.0 556.6,270.0 557.2,267.6 557.8,267.3 558.4,266.3 559.0,267.4 559.6,267.8 560.1,267.9 560.7,265.6 561.3,263.2 561.9,262.5 562.5,264.0 563.0,262.0 563.6,255.4 564.2,253.1 564.8,244.2 565.4,240.7 566.0,242.0 566.5,241.9 567.1,236.0 567.7,223.1 568.3,225.5 568.9,224.3 569.5,223.9 570.0,227.7 570.6,223.4 571.2,221.5 571.8,217.9 572.4,228.6 572.9,235.5 573.5,235.7 574.1,242.3 574.7,235.2 575.3,240.7 575.9,247.4 576.4,252.8 577.0,255.8 577.6,255.7 578.2,256.9 578.8,263.7 579.4,264.4 579.9,262.3 580.5,267.4 581.1,268.2 581.7,268.1 582.3,269.6 582.8,267.6 583.4,268.4 584.0,266.5 584.6,268.0 585.2,263.1 585.8,265.1 586.3,261.8 586.9,258.8 587.5,256.8 588.1,252.4 588.7,248.2 589.2,245.7 589.8,241.5 590.4,239.3 591.0,233.7 591.6,226.7 592.2,223.5 592.7,226.3 593.3,226.3 593.9,227.9 594.5,224.9 595.1,222.2 595.6,225.2 596.2,232.7 596.8,237.5 597.4,239.9 598.0,244.2 598.6,237.8 599.1,247.9 599.7,252.3 600.3,258.9 600.9,261.2 601.5,260.6 602.1,261.5 602.6,266.7 603.2,267.5 603.8,265.3 604.4,269.9 605.0,266.1 605.5,269.5 606.1,270.6 606.7,266.6 607.3,267.5 607.9,268.2 608.5,265.8 609.0,266.9 609.6,265.8 610.2,263.2 610.8,261.6 611.4,260.2 612.0,251.1 612.5,244.3 613.1,245.3 613.7,240.4 614.3,244.2 614.9,236.9 615.4,226.4 616.0,224.9 616.6,227.9 617.2,232.3 617.8,229.2 618.4,224.0 618.9,224.1 619.5,224.9 620.1,231.0 620.7,235.9 621.3,238.1 621.8,237.6 622.4,235.0 623.0,242.7 623.6,248.9 624.2,254.9 624.8,256.2 625.3,258.7 625.9,262.5 626.5,264.4 627.1,263.7 627.7,267.5 628.2,265.3 628.8,264.6 629.4,267.4 630.0,268.5 630.6,263.8 631.2,262.8 631.7,265.1 632.3,262.5 632.9,263.4 633.5,265.0 634.1,263.2 634.7,261.1 635.2,265.3 635.8,253.0 636.4,249.9 637.0,251.7 637.6,250.5 638.1,247.4 638.7,244.3 639.3,228.3 639.9,233.9 640.5,234.6 641.1,234.8 641.6,235.2 642.2,231.1 642.8,220.9 643.4,231.7 644.0,239.9 644.5,238.8 645.1,242.8 645.7,242.5 646.3,243.0 646.9,246.9 647.5,252.4 648.0,258.8 648.6,261.7 649.2,259.9 649.8,259.9 650.4,264.0 651.0,266.3 651.5,266.1 652.1,266.2 652.7,266.3 653.3,264.2 653.9,264.5 654.4,270.7 655.0,265.7 655.6,265.0 656.2,269.3 656.8,267.3 657.4,266.6 657.9,264.0 658.5,263.3 659.1,261.3 659.7,258.9 660.3,254.2 660.9,254.2 661.4,253.8 662.0,250.8 662.6,245.4 663.2,232.9 663.8,229.8 664.3,237.0 664.9,234.3 665.5,235.1 666.1,236.9 666.7,228.0 667.3,233.6 667.8,236.9 668.4,238.9 669.0,239.8 669.6,237.4 670.2,235.5 670.7,243.5 671.3,249.6 671.9,252.8 672.5,257.6 673.1,255.5 673.7,259.9 674.2,264.9 674.8,264.7 675.4,265.0 676.0,265.5 676.6,264.2 677.1,266.6 677.7,264.0 678.3,263.3 678.9,265.0 679.5,267.0 680.1,262.7 680.6,264.4 681.2,263.7 681.8,265.5 682.4,264.8 683.0,257.1 683.6,253.5 684.1,255.2 684.7,252.8 685.3,251.4 685.9,246.0 686.5,244.3 687.0,229.9 687.6,228.0 688.2,230.6 688.8,230.2 689.4,227.5 690.0,222.3 690.5,223.3 691.1,225.3 691.7,227.6 692.3,234.0 692.9,235.4 693.5,232.9 694.0,229.1 694.6,244.8 695.2,248.7 695.8,252.2 696.4,258.3 696.9,253.1 697.5,257.1 698.1,263.2 698.7,266.2 699.3,265.7 699.9,271.2 700.4,265.0 701.0,268.3 701.6,265.9 702.2,268.8 702.8,267.7 703.3,270.1 703.9,266.1 704.5,265.0 705.1,265.5 705.7,261.0 706.3,262.5 706.8,260.3 707.4,258.2 708.0,252.8 708.6,254.7 709.2,251.8 709.8,250.3 710.3,241.2 710.9,236.3 711.5,236.5 712.1,237.9 712.7,237.9 713.2,233.6 713.8,228.1 714.4,223.1 715.0,230.3 715.6,237.7 716.2,236.0 716.7,238.2 717.3,233.6 717.9,234.6 718.5,245.6 719.1,249.2 719.6,251.1 720.2,252.9 720.8,254.0 721.4,256.0 722.0,260.8 722.6,259.0 723.1,262.9 723.7,265.4 724.3,263.0 724.9,264.6 725.5,264.2 726.0,264.4 726.6,268.2 727.2,267.3 727.8,267.1 728.4,269.4 729.0,266.1 729.5,267.9 730.1,264.8 730.7,262.6 731.3,261.0 731.9,261.1 732.5,255.9 733.0,254.6 733.6,248.1 734.2,245.4 734.8,233.3 735.4,230.5 735.9,229.3 736.5,226.0 737.1,219.7 737.7,211.6 738.3,212.5 738.9,213.0 739.4,215.1 740.0,215.7 740.6,221.9 741.2,214.7 741.8,223.8 742.3,225.9 742.9,233.0 743.5,239.5 744.1,242.5 744.7,241.2 745.3,245.7 745.8,253.4 746.4,257.3 747.0,258.0 747.6,262.2 748.2,261.9 748.8,262.6 749.3,263.5 749.9,263.8 750.5,265.3" stroke="#f26a34" stroke-width="0.85"/>
<polyline points="424.5,275.5 424.7,229.1 424.8,218.9 425.0,220.0 425.2,225.7 425.3,216.1 425.5,200.3 425.6,186.8 425.8,178.0 426.0,165.7 426.1,148.5 426.3,152.3 426.5,164.3 426.6,167.8 426.8,177.6 426.9,193.6 427.1,208.0 427.3,218.3 427.4,230.9 427.6,231.1 427.8,234.0 427.9,228.7 428.1,227.8 428.2,233.1 428.4,234.5 428.6,235.8 428.7,230.5 428.9,237.1 429.1,239.0 429.2,239.2 429.4,240.3 429.6,237.4 429.7,241.2 429.9,241.3 430.0,243.0 430.2,244.4 430.4,242.6 430.5,244.5 430.7,247.9 430.9,252.2 431.0,248.8 431.2,253.3 431.3,255.7 431.5,258.0 431.7,258.6 431.8,259.2 432.0,265.5 432.2,261.5 432.3,264.5 432.5,264.4 432.6,266.9 432.8,264.4 433.0,266.9 433.1,264.4 433.3,262.4 433.5,265.7 433.6,265.5 433.8,265.5 434.0,268.6 434.1,265.2 434.3,268.2 434.4,270.0 434.6,265.9 434.8,265.0 434.9,267.6 435.1,269.1 435.3,264.8 435.4,269.9 435.6,266.0 435.7,268.4 435.9,270.0 436.1,268.0 436.2,272.5 436.4,269.8 436.6,268.6 436.7,268.6 436.9,266.2 437.1,269.9 437.2,267.2 437.4,268.1 437.5,266.4 437.7,266.7 437.9,265.3 438.0,267.0 438.2,264.3 438.4,266.3 438.5,267.2 438.7,265.7 438.8,265.2 439.0,262.7 439.2,266.7 439.3,264.5 439.5,266.3 439.7,262.6 439.8,262.4 440.0,262.6 440.1,265.8 440.3,265.1 440.5,263.4 440.6,262.5 440.8,261.7 441.4,262.1 442.0,257.5 442.5,258.3 443.1,256.9 443.7,254.0 444.3,251.9 444.9,241.0 445.5,236.6 446.0,237.6 446.6,238.0 447.2,232.5 447.8,233.4 448.4,225.8 448.9,226.5 449.5,228.2 450.1,234.4 450.7,232.6 451.3,234.2 451.9,233.0 452.4,235.7 453.0,245.9 453.6,245.7 454.2,246.6 454.8,250.4 455.4,249.6 455.9,254.0 456.5,257.0 457.1,259.9 457.7,257.0 458.3,255.8 458.8,260.3 459.4,258.9 460.0,260.1 460.6,256.6 461.2,258.6 461.8,257.4 462.3,258.9 462.9,256.7 463.5,257.1 464.1,257.5 464.7,256.6 465.2,258.0 465.8,253.0 466.4,255.2 467.0,253.4 467.6,250.2 468.2,245.6 468.7,241.5 469.3,238.2 469.9,237.5 470.5,234.7 471.1,234.3 471.7,229.2 472.2,229.8 472.8,227.8 473.4,227.2 474.0,225.0 474.6,228.3 475.1,229.2 475.7,224.5 476.3,230.0 476.9,236.9 477.5,240.9 478.1,243.3 478.6,245.8 479.2,247.4 479.8,253.2 480.4,257.3 481.0,259.0 481.6,260.1 482.1,262.3 482.7,260.0 483.3,265.5 483.9,265.0 484.5,264.4 485.0,261.9 485.6,262.1 486.2,262.9 486.8,264.4 487.4,262.1 488.0,262.4 488.5,261.9 489.1,257.6 489.7,255.8 490.3,255.3 490.9,255.2 491.4,250.9 492.0,248.5 492.6,244.3 493.2,240.0 493.8,236.5 494.4,234.4 494.9,232.1 495.5,227.2 496.1,222.2 496.7,222.3 497.3,223.6 497.9,223.4 498.4,227.6 499.0,229.3 499.6,227.6 500.2,231.1 500.8,239.1 501.3,243.1 501.9,247.4 502.5,248.2 503.1,252.4 503.7,257.3 504.3,263.8 504.8,265.8 505.4,265.2 506.0,266.6 506.6,269.6 507.2,270.9 507.7,266.7 508.3,267.8 508.9,267.4 509.5,267.1 510.1,264.5 510.7,264.5 511.2,264.1 511.8,263.3 512.4,262.1 513.0,258.4 513.6,258.0 514.1,254.8 514.7,258.0 515.3,253.6 515.9,247.5 516.5,246.0 517.1,240.1 517.6,239.6 518.2,236.8 518.8,233.4 519.4,224.2 520.0,220.0 520.6,223.9 521.1,226.4 521.7,226.6 522.3,227.7 522.9,226.9 523.5,221.8 524.0,228.5 524.6,237.8 525.2,240.6 525.8,243.0 526.4,243.2 527.0,244.9 527.5,253.5 528.1,259.4 528.7,260.5 529.3,264.9 529.9,264.8 530.5,269.0 531.0,266.8 531.6,264.8 532.2,269.3 532.8,269.2 533.4,267.6 533.9,266.7 534.5,270.5 535.1,268.0 535.7,266.9 536.3,266.3 536.9,264.2 537.4,263.0 538.0,262.5 538.6,261.8 539.2,254.7 539.8,253.0 540.3,244.0 540.9,244.3 541.5,242.6 542.1,239.4 542.7,234.1 543.3,228.7 543.8,223.7 544.4,217.7 545.0,223.3 545.6,224.5 546.2,225.0 546.8,220.5 547.3,216.6 547.9,225.9 548.5,229.0 549.1,235.7 549.7,235.5 550.2,236.8 550.8,242.3 551.4,248.6 552.0,252.8 552.6,254.3 553.2,257.1 553.7,258.3 554.3,258.3 554.9,259.9 555.5,263.8 556.1,265.3 556.6,264.1 557.2,264.5 557.8,262.8 558.4,263.6 559.0,265.0 559.6,266.5 560.1,263.1 560.7,265.1 561.3,262.4 561.9,261.6 562.5,259.3 563.0,259.2 563.6,251.7 564.2,246.9 564.8,245.7 565.4,243.6 566.0,242.5 566.5,234.6 567.1,227.3 567.7,221.5 568.3,222.8 568.9,224.8 569.5,218.0 570.0,221.4 570.6,220.1 571.2,213.5 571.8,224.0 572.4,227.1 572.9,229.6 573.5,230.8 574.1,230.5 574.7,234.9 575.3,245.3 575.9,249.8 576.4,253.3 577.0,253.5 577.6,254.3 578.2,257.9 578.8,258.9 579.4,259.7 579.9,262.1 580.5,261.0 581.1,261.6 581.7,262.2 582.3,260.3 582.8,265.2 583.4,263.4 584.0,263.5 584.6,262.8 585.2,262.2 585.8,262.3 586.3,260.8 586.9,257.2 587.5,253.9 588.1,252.6 588.7,250.7 589.2,247.6 589.8,246.0 590.4,238.5 591.0,233.5 591.6,233.8 592.2,227.2 592.7,228.2 593.3,228.4 593.9,223.8 594.5,213.2 595.1,218.8 595.6,227.0 596.2,232.3 596.8,233.0 597.4,236.5 598.0,235.2 598.6,240.1 599.1,247.3 599.7,253.4 600.3,258.4 600.9,257.5 601.5,257.9 602.1,267.3 602.6,265.4 603.2,268.5 603.8,269.8 604.4,267.3 605.0,267.9 605.5,267.1 606.1,266.3 606.7,269.3 607.3,263.7 607.9,263.3 608.5,265.2 609.0,263.9 609.6,265.1 610.2,261.6 610.8,260.1 611.4,256.5 612.0,255.0 612.5,250.9 613.1,249.8 613.7,246.9 614.3,241.6 614.9,233.8 615.4,225.0 616.0,230.9 616.6,228.0 617.2,228.7 617.8,223.8 618.4,219.3 618.9,218.6 619.5,225.7 620.1,227.9 620.7,232.4 621.3,234.9 621.8,229.4 622.4,236.5 623.0,245.2 623.6,249.4 624.2,252.7 624.8,253.3 625.3,257.3 625.9,262.1 626.5,262.1 627.1,266.1 627.7,267.8 628.2,267.4 628.8,266.3 629.4,270.1 630.0,269.6 630.6,267.2 631.2,266.3 631.7,269.0 632.3,267.5 632.9,268.3 633.5,268.1 634.1,268.6 634.7,265.0 635.2,263.7 635.8,257.4 636.4,256.8 637.0,254.1 637.6,252.2 638.1,246.6 638.7,238.8 639.3,229.4 639.9,235.4 640.5,232.3 641.1,230.2 641.6,227.2 642.2,222.2 642.8,222.7 643.4,231.5 644.0,233.0 644.5,233.7 645.1,235.2 645.7,235.8 646.3,240.1 646.9,245.4 647.5,250.4 648.0,251.0 648.6,255.0 649.2,255.3 649.8,258.9 650.4,263.2 651.0,262.1 651.5,264.7 652.1,265.0 652.7,264.6 653.3,264.7 653.9,262.0 654.4,264.8 655.0,261.9 655.6,267.3 656.2,262.6 656.8,263.8 657.4,260.6 657.9,264.5 658.5,261.6 659.1,258.9 659.7,261.5 660.3,257.1 660.9,250.9 661.4,252.6 662.0,248.2 662.6,240.9 663.2,238.6 663.8,242.3 664.3,241.2 664.9,236.6 665.5,235.3 666.1,228.8 666.7,233.4 667.3,235.0 667.8,239.2 668.4,240.1 669.0,241.0 669.6,236.5 670.2,247.1 670.7,253.7 671.3,255.4 671.9,258.1 672.5,264.2 673.1,262.9 673.7,268.0 674.2,271.0 674.8,269.9 675.4,272.2 676.0,272.8 676.6,271.7 677.1,270.3 677.7,275.0 678.3,270.6 678.9,271.0 679.5,270.6 680.1,269.3 680.6,271.6 681.2,267.8 681.8,266.0 682.4,265.4 683.0,263.9 683.6,260.0 684.1,256.9 684.7,253.4 685.3,252.7 685.9,246.5 686.5,238.9 687.0,238.3 687.6,240.1 688.2,236.3 688.8,231.6 689.4,231.0 690.0,225.9 690.5,228.1 691.1,230.3 691.7,233.2 692.3,231.7 692.9,230.0 693.5,230.1 694.0,239.2 694.6,243.8 695.2,249.0 695.8,251.1 696.4,248.7 696.9,253.9 697.5,262.9 698.1,259.7 698.7,263.4 699.3,264.6 699.9,262.9 700.4,263.5 701.0,264.3 701.6,263.9 702.2,268.3 702.8,263.9 703.3,265.8 703.9,264.4 704.5,262.2 705.1,261.7 705.7,262.0 706.3,261.9 706.8,256.5 707.4,257.4 708.0,255.9 708.6,254.0 709.2,250.9 709.8,249.3 710.3,238.3 710.9,239.9 711.5,239.7 712.1,235.8 712.7,231.7 713.2,228.4 713.8,223.9 714.4,225.0 715.0,229.8 715.6,228.5 716.2,230.6 716.7,228.9 717.3,229.2 717.9,234.7 718.5,239.5 719.1,240.4 719.6,247.1 720.2,250.9 720.8,245.1 721.4,254.7 722.0,257.3 722.6,258.2 723.1,259.8 723.7,263.3 724.3,264.2 724.9,265.1 725.5,265.0 726.0,264.2 726.6,263.7 727.2,263.9 727.8,266.5 728.4,265.3 729.0,266.3 729.5,265.7 730.1,262.9 730.7,261.9 731.3,263.1 731.9,259.6 732.5,257.9 733.0,255.4 733.6,250.5 734.2,247.1 734.8,241.6 735.4,244.4 735.9,240.9 736.5,239.3 737.1,230.4 737.7,226.7 738.3,230.4 738.9,233.8 739.4,234.6 740.0,235.2 740.6,228.7 741.2,235.6 741.8,243.3 742.3,245.2 742.9,250.9 743.5,251.3 744.1,256.1 744.7,254.0 745.3,261.8 745.8,263.9 746.4,264.5 747.0,264.9 747.6,267.7 748.2,265.2 748.8,265.5 749.3,266.6 749.9,266.3 750.5,264.3" stroke="#f4b21e" stroke-width="0.85"/>
</g>
<g clip-path="url(#clip2)" fill="none" stroke-linejoin="round">
<polyline points="234.5,527.7 234.7,531.3" stroke="#1a7fd2" stroke-width="0.7"/>
<polyline points="236.3,568.1 236.5,559.0 236.6,549.9 236.8,540.9 237.0,531.8 237.1,528.3 237.3,524.8 237.4,521.3 237.6,517.9 237.8,514.4 237.9,521.8 238.1,529.2 238.3,536.6" stroke="#1a7fd2" stroke-width="0.7"/>
<polyline points="253.8,603.0 254.4,569.5 254.9,558.4 255.5,569.2 256.1,597.4 256.7,610.8" stroke="#1a7fd2" stroke-width="0.7"/>
<polyline points="268.4,609.0 269.0,612.8 269.5,613.3 270.1,615.1 270.7,614.5 271.3,612.6 271.9,613.3" stroke="#1a7fd2" stroke-width="0.7"/>
<polyline points="275.4,594.6 276.0,595.0 276.5,609.1" stroke="#1a7fd2" stroke-width="0.7"/>
<polyline points="277.7,607.3 278.3,588.1 278.9,579.5" stroke="#1a7fd2" stroke-width="0.7"/>
<polyline points="280.0,608.0 280.6,611.4 281.2,602.6 281.8,578.6 282.4,578.2 283.0,590.7 283.6,608.1 284.1,611.3 284.7,600.2 285.3,576.6 285.9,576.0 286.5,592.4 287.1,611.2" stroke="#1a7fd2" stroke-width="0.7"/>
<polyline points="288.2,598.8 288.8,582.4 289.4,591.0" stroke="#1a7fd2" stroke-width="0.7"/>
<polyline points="294.1,615.2 294.6,614.3 295.2,612.2 295.8,612.3" stroke="#1a7fd2" stroke-width="0.7"/>
<polyline points="298.1,613.1 298.7,602.5 299.3,595.7 299.9,598.1 300.5,610.2" stroke="#1a7fd2" stroke-width="0.7"/>
<polyline points="301.7,605.9 302.2,587.7 302.8,582.5 303.4,590.1 304.0,608.8 304.6,612.8 305.2,598.8 305.7,578.3 306.3,575.5 306.9,593.3 307.5,608.7 308.1,610.5 308.7,594.5 309.2,581.8 309.8,577.9 310.4,599.2 311.0,611.3 311.6,611.3 312.2,597.5 312.7,586.6 313.3,593.1 313.9,602.5 314.5,614.3 315.1,611.9 315.7,605.6 316.2,609.1 316.8,612.8" stroke="#1a7fd2" stroke-width="0.7"/>
<polyline points="319.8,612.7 320.3,611.7 320.9,614.5" stroke="#1a7fd2" stroke-width="0.7"/>
<polyline points="334.4,600.7 334.9,611.3 335.5,611.0" stroke="#1a7fd2" stroke-width="0.7"/>
<polyline points="337.3,591.5 337.9,606.4 338.4,614.0 339.0,611.1 339.6,603.4 340.2,609.2" stroke="#1a7fd2" stroke-width="0.7"/>
<polyline points="344.3,613.3 344.9,613.4 345.4,615.7 346.0,610.3 346.6,599.5 347.2,590.7 347.8,601.1" stroke="#1a7fd2" stroke-width="0.7"/>
<polyline points="349.5,599.3 350.1,578.0 350.7,575.0 351.3,592.4 351.9,611.2" stroke="#1a7fd2" stroke-width="0.7"/>
<polyline points="353.6,572.5 354.2,566.2 354.8,593.1" stroke="#1a7fd2" stroke-width="0.7"/>
<polyline points="356.0,607.5 356.5,583.4 357.1,575.4 357.7,574.7 358.3,596.9 358.9,612.1 359.5,607.5 360.0,586.8 360.6,581.8" stroke="#1a7fd2" stroke-width="0.7"/>
<polyline points="366.5,614.4 367.1,611.9 367.6,611.1" stroke="#1a7fd2" stroke-width="0.7"/>
<polyline points="369.4,614.6 370.0,609.3 370.6,602.7 371.1,596.1 371.7,602.9" stroke="#1a7fd2" stroke-width="0.7"/>
<polyline points="373.5,600.2 374.1,585.4 374.6,583.3 375.2,599.5" stroke="#1a7fd2" stroke-width="0.7"/>
<polyline points="377.0,589.5 377.6,576.3 378.1,583.1 378.7,600.3 379.3,611.9 379.9,607.0 380.5,588.0 381.1,576.0 381.6,584.0 382.2,606.0" stroke="#1a7fd2" stroke-width="0.7"/>
<polyline points="383.4,607.5 384.0,589.6 384.6,583.3 385.2,595.2" stroke="#1a7fd2" stroke-width="0.7"/>
<polyline points="394.5,601.4 395.1,594.8 395.7,604.4 396.2,612.9" stroke="#1a7fd2" stroke-width="0.7"/>
<polyline points="398.0,581.9 398.6,583.9 399.2,601.1" stroke="#1a7fd2" stroke-width="0.7"/>
<polyline points="400.9,589.6 401.5,575.2 402.1,578.0 402.7,600.3 403.3,612.5 403.8,606.5 404.4,585.8 405.0,574.8 405.6,588.0 406.2,604.8 406.8,612.6" stroke="#1a7fd2" stroke-width="0.7"/>
<polyline points="407.9,591.5 408.5,583.4 409.1,596.4 409.7,610.5" stroke="#1a7fd2" stroke-width="0.7"/>
<polyline points="411.4,604.9 412.0,608.3 412.6,613.9" stroke="#1a7fd2" stroke-width="0.7"/>
<polyline points="417.3,615.0 417.9,606.4 418.4,599.3 419.0,596.2" stroke="#1a7fd2" stroke-width="0.7"/>
<polyline points="421.4,593.0 421.9,576.5 422.5,583.9" stroke="#1a7fd2" stroke-width="0.7"/>
<polyline points="424.3,604.6 424.9,581.4 425.4,573.2 426.0,577.6 426.6,603.0" stroke="#1a7fd2" stroke-width="0.7"/>
<polyline points="428.9,573.1 429.5,582.5 430.1,606.0" stroke="#1a7fd2" stroke-width="0.7"/>
<polyline points="431.3,601.7 431.9,581.2 432.5,579.5 433.0,596.3 433.6,611.0 434.2,613.7 434.8,604.0 435.4,601.5 436.0,609.1 436.5,612.5 437.1,615.1 437.7,613.7 438.3,615.0" stroke="#1a7fd2" stroke-width="0.7"/>
<polyline points="439.5,613.2 440.0,613.6 440.6,613.6 441.2,614.6 441.8,607.6 442.4,595.6 443.0,592.9 443.5,604.1 444.1,612.8" stroke="#1a7fd2" stroke-width="0.7"/>
<polyline points="445.3,589.9 445.9,570.7 446.5,584.7 447.1,602.5 447.6,611.5 448.2,600.7 448.8,577.1 449.4,559.7 450.0,582.5 450.6,603.6 451.1,611.6 451.7,598.1 452.3,570.6 452.9,561.0 453.5,586.1" stroke="#1a7fd2" stroke-width="0.7"/>
<polyline points="455.2,599.3 455.8,581.2 456.4,581.7 457.0,596.2 457.6,611.3 458.1,611.6 458.7,602.7 459.3,601.2" stroke="#1a7fd2" stroke-width="0.7"/>
<polyline points="461.1,615.0 461.6,613.8 462.2,612.9" stroke="#1a7fd2" stroke-width="0.7"/>
<polyline points="465.7,608.3 466.3,597.5 466.9,599.1 467.5,608.8 468.1,612.9 468.7,608.1 469.2,592.9 469.8,583.7 470.4,588.5 471.0,606.5 471.6,613.4 472.2,602.1 472.7,578.8 473.3,571.8 473.9,590.1 474.5,605.7 475.1,611.9 475.7,599.1 476.2,580.1 476.8,571.3 477.4,591.2 478.0,609.1 478.6,611.4 479.2,595.9 479.8,582.0 480.3,585.4 480.9,601.7 481.5,612.6 482.1,612.9" stroke="#1a7fd2" stroke-width="0.7"/>
<polyline points="483.3,603.9 483.8,609.1 484.4,616.2" stroke="#1a7fd2" stroke-width="0.7"/>
<polyline points="493.8,595.3 494.3,597.6 494.9,610.7" stroke="#1a7fd2" stroke-width="0.7"/>
<polyline points="496.7,587.6 497.3,583.8 497.9,597.0 498.4,611.0" stroke="#1a7fd2" stroke-width="0.7"/>
<polyline points="500.8,588.1 501.4,600.6 501.9,612.3 502.5,612.3 503.1,600.2 503.7,592.2 504.3,597.3 504.9,605.8 505.4,613.7 506.0,612.1 506.6,605.2 507.2,604.8" stroke="#1a7fd2" stroke-width="0.7"/>
<polyline points="509.5,614.7 510.1,612.3 510.7,613.3" stroke="#1a7fd2" stroke-width="0.7"/>
<polyline points="512.5,615.3 513.0,613.7 513.6,609.3 514.2,602.5 514.8,606.6 515.4,612.0 516.0,613.6 516.5,605.6 517.1,594.7 517.7,591.5 518.3,599.7" stroke="#1a7fd2" stroke-width="0.7"/>
<polyline points="519.5,611.7 520.0,600.3 520.6,586.0 521.2,586.0 521.8,598.5" stroke="#1a7fd2" stroke-width="0.7"/>
<polyline points="524.1,588.4 524.7,588.3 525.3,604.2 525.9,611.6 526.5,611.2" stroke="#1a7fd2" stroke-width="0.7"/>
<polyline points="529.4,614.1 530.0,611.3 530.6,604.7 531.1,604.8 531.7,610.3 532.3,613.1" stroke="#1a7fd2" stroke-width="0.7"/>
<polyline points="534.1,613.3 534.6,612.0 535.2,612.8" stroke="#1a7fd2" stroke-width="0.7"/>
<polyline points="536.4,615.8 537.0,613.3 537.6,608.2 538.1,601.8 538.7,606.8 539.3,613.0 539.9,613.9 540.5,606.2 541.1,595.0 541.6,591.8 542.2,600.6 542.8,612.1 543.4,611.0 544.0,600.1 544.6,586.2 545.1,588.3 545.7,601.4 546.3,612.0 546.9,610.3 547.5,597.0 548.1,587.6 548.7,587.2 549.2,605.1 549.8,612.5 550.4,610.4 551.0,597.1 551.6,592.4 552.2,595.4 552.7,609.7" stroke="#1a7fd2" stroke-width="0.7"/>
<polyline points="554.5,606.5 555.1,605.0 555.7,611.5" stroke="#1a7fd2" stroke-width="0.7"/>
<polyline points="234.5,528.7 234.7,532.9" stroke="#f2621c" stroke-width="0.8"/>
<polyline points="237.4,525.4 237.6,521.6 237.8,517.7 237.9,525.3" stroke="#f2621c" stroke-width="0.8"/>
<polyline points="248.6,611.4 248.7,611.6 248.9,613.5" stroke="#f2621c" stroke-width="0.8"/>
<polyline points="249.4,615.3 249.5,612.3 249.7,614.0 249.9,613.9 250.0,612.8 250.2,611.9" stroke="#f2621c" stroke-width="0.8"/>
<polyline points="268.4,608.8 269.0,613.1 269.5,614.5" stroke="#f2621c" stroke-width="0.8"/>
<polyline points="270.7,614.6 271.3,612.5 271.9,614.3" stroke="#f2621c" stroke-width="0.8"/>
<polyline points="276.0,599.1 276.5,606.2 277.1,613.3" stroke="#f2621c" stroke-width="0.8"/>
<polyline points="278.9,581.4 279.5,588.7 280.0,605.3 280.6,613.0 281.2,600.4 281.8,581.9 282.4,572.0 283.0,590.6 283.6,607.5 284.1,611.3 284.7,598.6 285.3,577.6 285.9,576.4 286.5,595.1 287.1,609.7 287.6,611.2" stroke="#f2621c" stroke-width="0.8"/>
<polyline points="288.8,589.4 289.4,588.0 290.0,604.1 290.6,612.6 291.1,613.4" stroke="#f2621c" stroke-width="0.8"/>
<polyline points="298.1,612.4 298.7,603.7 299.3,596.0 299.9,598.6 300.5,608.9 301.1,613.3 301.7,604.9 302.2,589.7 302.8,582.6 303.4,592.3 304.0,605.8 304.6,612.3 305.2,600.8 305.7,579.7 306.3,570.1 306.9,591.5 307.5,608.7 308.1,610.8 308.7,597.1 309.2,578.9 309.8,579.1 310.4,597.5 311.0,611.9 311.6,611.3 312.2,594.4 312.7,584.2 313.3,592.4 313.9,605.0 314.5,613.8 315.1,610.7 315.7,607.2 316.2,608.1 316.8,614.2 317.4,614.0 318.0,613.5 318.6,614.5" stroke="#f2621c" stroke-width="0.8"/>
<polyline points="319.8,613.5 320.3,612.2 320.9,613.9" stroke="#f2621c" stroke-width="0.8"/>
<polyline points="323.3,596.7 323.8,598.7 324.4,609.8" stroke="#f2621c" stroke-width="0.8"/>
<polyline points="337.3,589.1 337.9,606.2 338.4,613.3" stroke="#f2621c" stroke-width="0.8"/>
<polyline points="339.6,606.1 340.2,608.2 340.8,612.9" stroke="#f2621c" stroke-width="0.8"/>
<polyline points="343.7,611.1 344.3,612.4 344.9,613.6 345.4,614.5" stroke="#f2621c" stroke-width="0.8"/>
<polyline points="347.2,593.8 347.8,597.0 348.4,611.0" stroke="#f2621c" stroke-width="0.8"/>
<polyline points="349.5,599.1 350.1,579.6 350.7,575.6 351.3,591.7 351.9,611.9" stroke="#f2621c" stroke-width="0.8"/>
<polyline points="353.6,572.9 354.2,567.5 354.8,593.1" stroke="#f2621c" stroke-width="0.8"/>
<polyline points="356.0,607.2 356.5,585.7 357.1,574.4 357.7,576.1 358.3,598.1 358.9,611.2 359.5,606.6" stroke="#f2621c" stroke-width="0.8"/>
<polyline points="361.8,606.9 362.4,612.5 363.0,609.2 363.5,601.9 364.1,607.9 364.7,613.7 365.3,613.8 365.9,614.4 366.5,613.5 367.1,611.6 367.6,612.5" stroke="#f2621c" stroke-width="0.8"/>
<polyline points="369.4,614.3 370.0,609.2 370.6,599.7 371.1,597.4 371.7,600.7 372.3,611.4 372.9,611.4 373.5,601.8 374.1,581.0 374.6,578.8 375.2,597.6 375.8,611.0 376.4,609.0 377.0,590.9 377.6,578.4 378.1,582.4 378.7,597.0 379.3,611.3 379.9,607.4" stroke="#f2621c" stroke-width="0.8"/>
<polyline points="381.6,585.8 382.2,603.4 382.8,612.8 383.4,608.2 384.0,592.2 384.6,584.7 385.2,595.2 385.7,609.2 386.3,614.0" stroke="#f2621c" stroke-width="0.8"/>
<polyline points="387.5,605.5 388.1,608.3 388.7,613.0" stroke="#f2621c" stroke-width="0.8"/>
<polyline points="391.0,613.2 391.6,611.6 392.2,612.7 392.7,614.2 393.3,614.6 393.9,610.3 394.5,598.5 395.1,595.7 395.7,605.0 396.2,612.6" stroke="#f2621c" stroke-width="0.8"/>
<polyline points="398.0,582.0 398.6,579.7 399.2,601.0" stroke="#f2621c" stroke-width="0.8"/>
<polyline points="401.5,579.6 402.1,580.3 402.7,601.2 403.3,611.6 403.8,604.9 404.4,584.8 405.0,578.8 405.6,586.8 406.2,604.5 406.8,613.8 407.3,604.2 407.9,588.2 408.5,583.6 409.1,596.7 409.7,611.6" stroke="#f2621c" stroke-width="0.8"/>
<polyline points="410.8,609.5 411.4,602.6 412.0,608.3 412.6,613.6" stroke="#f2621c" stroke-width="0.8"/>
<polyline points="417.3,614.9 417.9,606.5 418.4,600.3 419.0,593.9 419.6,603.1" stroke="#f2621c" stroke-width="0.8"/>
<polyline points="421.9,578.3 422.5,576.9 423.1,601.5 423.7,612.6 424.3,604.0" stroke="#f2621c" stroke-width="0.8"/>
<polyline points="425.4,567.7 426.0,572.3 426.6,599.8 427.2,612.0" stroke="#f2621c" stroke-width="0.8"/>
<polyline points="428.4,582.4 428.9,572.4 429.5,582.0 430.1,607.3" stroke="#f2621c" stroke-width="0.8"/>
<polyline points="431.9,586.0 432.5,578.3 433.0,595.5 433.6,610.7 434.2,612.5 434.8,606.9 435.4,602.1 436.0,610.2" stroke="#f2621c" stroke-width="0.8"/>
<polyline points="439.5,612.9 440.0,613.5 440.6,615.1" stroke="#f2621c" stroke-width="0.8"/>
<polyline points="442.4,594.6 443.0,593.9 443.5,603.7 444.1,612.2" stroke="#f2621c" stroke-width="0.8"/>
<polyline points="445.9,577.2 446.5,581.1 447.1,602.6 447.6,612.1 448.2,602.9 448.8,571.1 449.4,565.5 450.0,580.0 450.6,605.0 451.1,612.5" stroke="#f2621c" stroke-width="0.8"/>
<polyline points="452.3,577.1 452.9,568.0 453.5,586.2 454.1,607.7 454.6,611.9 455.2,600.6 455.8,580.5 456.4,578.1 457.0,596.7 457.6,610.6 458.1,613.2" stroke="#f2621c" stroke-width="0.8"/>
<polyline points="459.9,609.5 460.5,612.4 461.1,615.6 461.6,614.5 462.2,613.7 462.8,612.1 463.4,612.1 464.0,614.0" stroke="#f2621c" stroke-width="0.8"/>
<polyline points="471.0,607.6 471.6,612.8 472.2,606.2" stroke="#f2621c" stroke-width="0.8"/>
<polyline points="473.9,593.5 474.5,607.3 475.1,612.6" stroke="#f2621c" stroke-width="0.8"/>
<polyline points="477.4,598.1 478.0,609.8 478.6,613.2" stroke="#f2621c" stroke-width="0.8"/>
<polyline points="483.3,605.0 483.8,609.9 484.4,614.4 485.0,612.9 485.6,615.4" stroke="#f2621c" stroke-width="0.8"/>
<polyline points="488.5,614.6 489.1,613.3 489.7,608.8 490.3,602.4 490.8,603.8 491.4,608.9 492.0,613.1 492.6,609.5 493.2,592.9 493.8,586.2 494.3,597.6 494.9,609.0" stroke="#f2621c" stroke-width="0.8"/>
<polyline points="496.1,603.1 496.7,586.8 497.3,582.1 497.9,593.2 498.4,610.1" stroke="#f2621c" stroke-width="0.8"/>
<polyline points="499.6,600.2 500.2,579.3 500.8,583.3 501.4,598.8 501.9,611.3 502.5,613.3 503.1,598.2 503.7,592.0 504.3,595.4 504.9,604.2 505.4,611.9 506.0,612.7 506.6,605.7 507.2,603.1" stroke="#f2621c" stroke-width="0.8"/>
<polyline points="513.6,609.4 514.2,603.6 514.8,604.4 515.4,611.5" stroke="#f2621c" stroke-width="0.8"/>
<polyline points="529.4,612.7 530.0,611.3 530.6,606.4 531.1,606.3 531.7,610.9 532.3,613.2" stroke="#f2621c" stroke-width="0.8"/>
<polyline points="534.1,612.7 534.6,612.4 535.2,613.3" stroke="#f2621c" stroke-width="0.8"/>
<polyline points="536.4,613.4 537.0,614.3 537.6,608.9" stroke="#f2621c" stroke-width="0.8"/>
<polyline points="539.3,612.7 539.9,613.2 540.5,607.7 541.1,597.3 541.6,593.2 542.2,603.4 542.8,610.6 543.4,611.8" stroke="#f2621c" stroke-width="0.8"/>
<polyline points="544.6,593.5 545.1,590.0 545.7,604.7 546.3,613.0 546.9,610.9 547.5,598.7 548.1,588.7 548.7,593.0 549.2,605.1 549.8,613.5" stroke="#f2621c" stroke-width="0.8"/>
<polyline points="551.6,594.7 552.2,599.8 552.7,609.3" stroke="#f2621c" stroke-width="0.8"/>
<polyline points="234.5,523.4 234.7,527.2 234.8,531.0 235.0,534.8" stroke="#fbb41a" stroke-width="0.7"/>
<polyline points="236.3,568.6 236.5,558.7 236.6,548.8 236.8,538.8 237.0,528.9 237.1,525.4 237.3,521.9 237.4,518.4 237.6,515.0 237.8,511.5 237.9,517.9 238.1,524.3 238.3,530.7 238.4,537.1 238.6,543.5 238.8,548.8 238.9,554.1 239.1,559.4 239.2,564.7 239.4,570.0 239.6,573.3 239.7,571.6 239.9,569.8 240.1,568.1 240.2,566.4 240.4,564.0 240.5,560.0 240.7,556.0 240.9,551.9 241.0,547.9 241.2,543.9 241.4,545.4 241.5,551.0 241.7,556.6 241.9,562.3 242.0,567.9 242.2,573.6 242.3,579.4 242.5,585.2 242.7,591.0 242.8,596.8 243.0,598.9" stroke="#fbb41a" stroke-width="0.7"/>
<polyline points="247.4,604.9 247.6,603.1 247.7,602.8" stroke="#fbb41a" stroke-width="0.7"/>
<polyline points="248.1,606.4 248.2,607.6 248.4,609.0 248.6,611.1 248.7,611.5 248.9,612.8 249.1,613.2 249.2,614.1 249.4,614.0 249.5,614.5 249.7,615.1" stroke="#fbb41a" stroke-width="0.7"/>
<polyline points="250.7,601.3 250.8,593.0 251.4,577.7 252.0,574.8 252.6,597.2 253.2,610.1 253.8,602.7 254.4,570.2 254.9,549.6 255.5,561.8 256.1,596.4 256.7,611.2 257.3,596.1 257.9,549.3 258.4,539.7 259.0,567.9 259.6,599.3 260.2,610.1 260.8,588.6 261.4,552.5 261.9,546.2 262.5,575.9 263.1,606.6" stroke="#fbb41a" stroke-width="0.7"/>
<polyline points="264.9,571.3 265.4,567.3 266.0,593.4" stroke="#fbb41a" stroke-width="0.7"/>
<polyline points="267.2,612.7 267.8,601.8 268.4,606.0 269.0,614.1" stroke="#fbb41a" stroke-width="0.7"/>
<polyline points="270.7,615.8 271.3,612.8 271.9,613.8" stroke="#fbb41a" stroke-width="0.7"/>
<polyline points="275.4,595.0 276.0,594.2 276.5,607.0 277.1,611.9 277.7,605.0 278.3,587.2 278.9,577.5 279.5,586.3 280.0,607.1" stroke="#fbb41a" stroke-width="0.7"/>
<polyline points="281.8,583.7 282.4,572.4 283.0,589.7 283.6,608.3 284.1,612.1 284.7,598.7 285.3,580.1 285.9,578.4" stroke="#fbb41a" stroke-width="0.7"/>
<polyline points="288.2,597.3 288.8,588.2 289.4,590.6 290.0,601.6 290.6,613.4" stroke="#fbb41a" stroke-width="0.7"/>
<polyline points="292.3,608.7 292.9,612.5 293.5,614.0" stroke="#fbb41a" stroke-width="0.7"/>
<polyline points="297.0,614.5 297.6,614.4 298.1,613.2" stroke="#fbb41a" stroke-width="0.7"/>
<polyline points="302.2,592.8 302.8,583.0 303.4,596.3" stroke="#fbb41a" stroke-width="0.7"/>
<polyline points="305.2,602.2 305.7,582.3 306.3,582.7 306.9,594.4 307.5,612.0" stroke="#fbb41a" stroke-width="0.7"/>
<polyline points="308.7,597.8 309.2,580.5 309.8,580.9 310.4,599.7 311.0,611.8 311.6,610.3 312.2,598.4 312.7,590.2" stroke="#fbb41a" stroke-width="0.7"/>
<polyline points="315.7,607.5 316.2,608.8 316.8,614.0" stroke="#fbb41a" stroke-width="0.7"/>
<polyline points="319.8,612.7 320.3,611.5 320.9,615.2" stroke="#fbb41a" stroke-width="0.7"/>
<polyline points="323.3,596.9 323.8,598.3 324.4,609.8" stroke="#fbb41a" stroke-width="0.7"/>
<polyline points="327.9,608.5 328.5,610.8 329.1,594.6" stroke="#fbb41a" stroke-width="0.7"/>
<polyline points="336.1,594.5 336.7,579.4 337.3,593.1" stroke="#fbb41a" stroke-width="0.7"/>
<polyline points="346.0,609.5 346.6,598.0 347.2,592.3" stroke="#fbb41a" stroke-width="0.7"/>
<polyline points="349.5,598.4 350.1,576.2 350.7,577.0 351.3,590.5 351.9,611.9 352.5,609.1 353.0,589.3 353.6,573.9" stroke="#fbb41a" stroke-width="0.7"/>
<polyline points="356.0,607.2 356.5,584.5 357.1,569.6 357.7,579.8 358.3,601.8 358.9,611.2 359.5,605.6 360.0,589.1 360.6,575.8 361.2,591.1" stroke="#fbb41a" stroke-width="0.7"/>
<polyline points="365.3,614.9 365.9,614.1 366.5,613.1" stroke="#fbb41a" stroke-width="0.7"/>
<polyline points="369.4,614.2 370.0,610.9 370.6,601.6 371.1,598.0" stroke="#fbb41a" stroke-width="0.7"/>
<polyline points="374.1,586.8 374.6,584.7 375.2,600.3 375.8,611.7 376.4,610.2 377.0,596.9 377.6,575.0 378.1,581.2 378.7,602.4 379.3,612.0 379.9,607.3 380.5,591.4" stroke="#fbb41a" stroke-width="0.7"/>
<polyline points="382.2,606.7 382.8,612.2 383.4,606.9" stroke="#fbb41a" stroke-width="0.7"/>
<polyline points="387.5,605.8 388.1,608.4 388.7,612.4" stroke="#fbb41a" stroke-width="0.7"/>
<polyline points="389.8,614.0 390.4,612.7 391.0,613.5" stroke="#fbb41a" stroke-width="0.7"/>
<polyline points="393.9,608.3 394.5,599.5 395.1,594.0 395.7,604.7 396.2,612.2 396.8,610.5 397.4,596.3 398.0,584.9 398.6,582.0 399.2,601.4 399.8,611.8 400.3,607.4 400.9,589.6 401.5,575.3 402.1,584.2 402.7,602.2 403.3,612.9" stroke="#fbb41a" stroke-width="0.7"/>
<polyline points="404.4,588.2 405.0,573.0 405.6,585.4 406.2,605.5" stroke="#fbb41a" stroke-width="0.7"/>
<polyline points="407.9,590.1 408.5,584.6 409.1,597.5 409.7,610.3" stroke="#fbb41a" stroke-width="0.7"/>
<polyline points="411.4,603.9 412.0,608.7 412.6,613.9" stroke="#fbb41a" stroke-width="0.7"/>
<polyline points="413.8,614.4 414.4,612.6 414.9,613.0 415.5,612.2 416.1,612.8 416.7,615.3" stroke="#fbb41a" stroke-width="0.7"/>
<polyline points="436.0,611.1 436.5,613.4 437.1,615.8 437.7,613.7 438.3,613.5 438.9,610.4 439.5,612.8 440.0,614.0 440.6,615.3 441.2,615.7 441.8,605.7 442.4,594.5 443.0,593.3 443.5,605.7 444.1,612.0 444.7,606.0 445.3,588.8 445.9,574.5 446.5,584.3 447.1,601.3 447.6,612.7 448.2,601.1 448.8,576.7 449.4,561.9 450.0,577.8 450.6,603.0 451.1,610.5 451.7,597.4 452.3,570.0 452.9,559.2 453.5,585.6 454.1,607.7 454.6,611.2 455.2,595.2 455.8,583.7 456.4,574.9 457.0,597.8 457.6,611.7 458.1,611.9 458.7,603.4 459.3,600.9" stroke="#fbb41a" stroke-width="0.7"/>
<polyline points="461.1,615.5 461.6,614.6 462.2,613.3" stroke="#fbb41a" stroke-width="0.7"/>
<polyline points="465.7,609.4 466.3,599.2 466.9,601.2" stroke="#fbb41a" stroke-width="0.7"/>
<polyline points="468.1,614.5 468.7,606.9 469.2,593.1 469.8,579.5 470.4,592.6 471.0,606.7 471.6,612.4 472.2,601.3 472.7,579.6 473.3,575.8 473.9,588.0 474.5,607.2 475.1,611.8 475.7,598.1 476.2,579.7 476.8,579.0 477.4,592.6 478.0,610.0 478.6,610.5 479.2,597.6 479.8,584.1 480.3,589.6 480.9,601.2 481.5,613.8 482.1,611.1 482.7,604.8 483.3,602.4 483.8,609.7 484.4,613.1 485.0,615.2 485.6,613.9" stroke="#fbb41a" stroke-width="0.7"/>
<polyline points="486.8,614.1 487.3,611.6 487.9,613.6" stroke="#fbb41a" stroke-width="0.7"/>
<polyline points="493.8,595.2 494.3,598.6 494.9,610.0" stroke="#fbb41a" stroke-width="0.7"/>
<polyline points="496.7,590.9 497.3,586.4 497.9,598.3" stroke="#fbb41a" stroke-width="0.7"/>
<polyline points="500.8,587.8 501.4,600.8 501.9,613.0 502.5,612.7 503.1,600.3 503.7,595.6 504.3,596.6 504.9,608.5 505.4,613.0 506.0,610.7 506.6,607.2" stroke="#fbb41a" stroke-width="0.7"/>
<polyline points="511.9,614.3 512.5,614.0 513.0,613.3 513.6,609.3" stroke="#fbb41a" stroke-width="0.7"/>
<polyline points="515.4,611.4 516.0,612.7 516.5,609.2 517.1,597.5 517.7,590.1 518.3,599.6" stroke="#fbb41a" stroke-width="0.7"/>
<polyline points="519.5,611.8 520.0,601.3 520.6,589.1 521.2,586.6 521.8,599.2" stroke="#fbb41a" stroke-width="0.7"/>
<polyline points="524.7,590.4 525.3,604.0 525.9,613.0" stroke="#fbb41a" stroke-width="0.7"/>
<polyline points="529.4,613.7 530.0,610.5 530.6,606.8" stroke="#fbb41a" stroke-width="0.7"/>
<polyline points="533.5,614.0 534.1,612.1 534.6,613.4" stroke="#fbb41a" stroke-width="0.7"/>
<polyline points="536.4,614.9 537.0,613.3 537.6,610.2" stroke="#fbb41a" stroke-width="0.7"/>
<polyline points="539.3,612.2 539.9,612.0 540.5,606.7 541.1,595.2 541.6,597.2 542.2,604.8 542.8,611.2 543.4,612.6" stroke="#fbb41a" stroke-width="0.7"/>
<polyline points="545.1,593.4 545.7,603.3 546.3,611.9 546.9,611.5" stroke="#fbb41a" stroke-width="0.7"/>
<polyline points="548.7,595.2 549.2,606.1 549.8,614.4" stroke="#fbb41a" stroke-width="0.7"/>
<polyline points="553.9,611.6 554.5,605.1 555.1,606.8 555.7,612.5" stroke="#fbb41a" stroke-width="0.7"/>
<polyline points="234.5,530.0 234.7,533.1" stroke="#8e3c9e" stroke-width="0.7"/>
<polyline points="236.6,550.7 236.8,541.4 237.0,532.1 237.1,529.1 237.3,526.2 237.4,523.3 237.6,520.4 237.8,517.4 237.9,523.4 238.1,529.4 238.3,535.4 238.4,541.3 238.6,547.3 238.8,552.8" stroke="#8e3c9e" stroke-width="0.7"/>
<polyline points="242.0,572.3 242.2,577.1 242.3,582.5" stroke="#8e3c9e" stroke-width="0.7"/>
<polyline points="248.9,613.2 249.1,612.3 249.2,612.8 249.4,615.3 249.5,614.6 249.7,613.9" stroke="#8e3c9e" stroke-width="0.7"/>
<polyline points="268.4,608.4 269.0,611.3 269.5,614.1" stroke="#8e3c9e" stroke-width="0.7"/>
<polyline points="276.0,597.1 276.5,607.2 277.1,612.2 277.7,606.5 278.3,587.6 278.9,581.7 279.5,586.9 280.0,607.8 280.6,612.3 281.2,600.3 281.8,577.8 282.4,573.8 283.0,588.3 283.6,608.0 284.1,612.3 284.7,598.0 285.3,577.9 285.9,576.2 286.5,594.1 287.1,610.5" stroke="#8e3c9e" stroke-width="0.7"/>
<polyline points="288.2,596.6 288.8,586.9 289.4,591.4 290.0,602.6 290.6,614.1" stroke="#8e3c9e" stroke-width="0.7"/>
<polyline points="292.3,609.1 292.9,612.5 293.5,615.2" stroke="#8e3c9e" stroke-width="0.7"/>
<polyline points="298.1,612.3 298.7,603.3 299.3,596.8 299.9,601.1" stroke="#8e3c9e" stroke-width="0.7"/>
<polyline points="302.8,587.4 303.4,594.1 304.0,610.2" stroke="#8e3c9e" stroke-width="0.7"/>
<polyline points="305.2,603.2 305.7,580.2 306.3,581.2 306.9,594.4 307.5,610.9 308.1,609.6 308.7,599.3" stroke="#8e3c9e" stroke-width="0.7"/>
<polyline points="310.4,601.7 311.0,611.8 311.6,611.2" stroke="#8e3c9e" stroke-width="0.7"/>
<polyline points="312.7,591.0 313.3,592.9 313.9,607.4" stroke="#8e3c9e" stroke-width="0.7"/>
<polyline points="315.7,607.7 316.2,609.1 316.8,613.0 317.4,613.9 318.0,613.5 318.6,614.8" stroke="#8e3c9e" stroke-width="0.7"/>
<polyline points="322.1,610.6 322.7,600.0 323.3,593.9 323.8,598.4 324.4,608.2" stroke="#8e3c9e" stroke-width="0.7"/>
<polyline points="326.8,582.7 327.3,587.4 327.9,609.5 328.5,610.6 329.1,594.4" stroke="#8e3c9e" stroke-width="0.7"/>
<polyline points="332.0,608.6 332.6,587.2 333.2,568.0 333.8,579.6 334.4,595.9 334.9,611.9" stroke="#8e3c9e" stroke-width="0.7"/>
<polyline points="336.1,591.8 336.7,580.6 337.3,591.3 337.9,604.8 338.4,613.3" stroke="#8e3c9e" stroke-width="0.7"/>
<polyline points="339.6,605.5 340.2,608.7 340.8,613.2" stroke="#8e3c9e" stroke-width="0.7"/>
<polyline points="346.0,611.1 346.6,599.4 347.2,595.0" stroke="#8e3c9e" stroke-width="0.7"/>
<polyline points="358.3,603.7 358.9,612.3 359.5,608.8" stroke="#8e3c9e" stroke-width="0.7"/>
<polyline points="361.8,607.2 362.4,613.4 363.0,608.9" stroke="#8e3c9e" stroke-width="0.7"/>
<polyline points="364.7,612.9 365.3,613.5 365.9,615.5 366.5,613.5 367.1,612.3 367.6,611.9" stroke="#8e3c9e" stroke-width="0.7"/>
<polyline points="369.4,614.5 370.0,611.4 370.6,602.7 371.1,596.9 371.7,603.4" stroke="#8e3c9e" stroke-width="0.7"/>
<polyline points="377.6,581.9 378.1,583.9 378.7,602.4 379.3,611.8 379.9,608.6" stroke="#8e3c9e" stroke-width="0.7"/>
<polyline points="385.2,595.0 385.7,609.0 386.3,614.4" stroke="#8e3c9e" stroke-width="0.7"/>
<polyline points="390.4,613.8 391.0,611.2 391.6,612.3 392.2,613.3 392.7,614.2 393.3,613.9 393.9,609.3 394.5,600.1 395.1,594.7 395.7,606.2" stroke="#8e3c9e" stroke-width="0.7"/>
<polyline points="406.2,605.9 406.8,611.3 407.3,604.6 407.9,592.2 408.5,589.6 409.1,597.9 409.7,610.2 410.3,613.1 410.8,608.6 411.4,603.0 412.0,611.3" stroke="#8e3c9e" stroke-width="0.7"/>
<polyline points="415.5,612.5 416.1,613.4 416.7,615.0" stroke="#8e3c9e" stroke-width="0.7"/>
<polyline points="439.5,613.0 440.0,613.6 440.6,613.5 441.2,613.9 441.8,607.5 442.4,597.3" stroke="#8e3c9e" stroke-width="0.7"/>
<polyline points="445.9,576.1 446.5,581.4 447.1,602.6 447.6,612.1 448.2,602.3 448.8,575.2 449.4,564.5 450.0,580.5 450.6,603.0 451.1,613.2 451.7,599.8 452.3,575.6 452.9,573.1 453.5,587.9 454.1,607.7 454.6,610.8 455.2,597.3 455.8,583.7 456.4,581.3 457.0,596.9 457.6,611.2 458.1,611.4" stroke="#8e3c9e" stroke-width="0.7"/>
<polyline points="461.1,614.0 461.6,614.0 462.2,613.3" stroke="#8e3c9e" stroke-width="0.7"/>
<polyline points="483.3,604.8 483.8,609.7 484.4,614.9 485.0,615.3 485.6,613.9" stroke="#8e3c9e" stroke-width="0.7"/>
<polyline points="490.3,603.8 490.8,603.9 491.4,611.9" stroke="#8e3c9e" stroke-width="0.7"/>
<polyline points="493.8,592.8 494.3,599.5 494.9,608.8" stroke="#8e3c9e" stroke-width="0.7"/>
<polyline points="503.7,593.4 504.3,595.6 504.9,606.7" stroke="#8e3c9e" stroke-width="0.7"/>
<polyline points="507.2,604.9 507.8,610.0 508.4,613.4" stroke="#8e3c9e" stroke-width="0.7"/>
<polyline points="511.9,613.8 512.5,614.4 513.0,613.2 513.6,609.2 514.2,601.9 514.8,604.2 515.4,610.0 516.0,613.5 516.5,606.3 517.1,596.3 517.7,590.4 518.3,599.3" stroke="#8e3c9e" stroke-width="0.7"/>
<polyline points="520.6,586.6 521.2,585.4 521.8,599.0" stroke="#8e3c9e" stroke-width="0.7"/>
<polyline points="524.1,589.8 524.7,589.4 525.3,600.5 525.9,613.4" stroke="#8e3c9e" stroke-width="0.7"/>
<polyline points="529.4,614.0 530.0,611.3 530.6,604.4" stroke="#8e3c9e" stroke-width="0.7"/>
<polyline points="536.4,614.1 537.0,613.6 537.6,608.1 538.1,604.9 538.7,604.0 539.3,612.8 539.9,613.1 540.5,607.2 541.1,596.4 541.6,592.3 542.2,602.9 542.8,612.8 543.4,611.4 544.0,601.6 544.6,590.5 545.1,585.7 545.7,601.1 546.3,611.9 546.9,610.8 547.5,599.4 548.1,586.9 548.7,589.0 549.2,605.4 549.8,613.7" stroke="#8e3c9e" stroke-width="0.7"/>
<polyline points="551.0,599.2 551.6,591.9 552.2,598.3 552.7,608.7" stroke="#8e3c9e" stroke-width="0.7"/>
<polyline points="554.5,605.8 555.1,605.9 555.7,611.8" stroke="#8e3c9e" stroke-width="0.7"/>
<polyline points="234.5,532.3 234.7,535.2" stroke="#80b838" stroke-width="0.7"/>
<polyline points="237.3,527.8 237.4,524.6 237.6,521.5 237.8,518.4 237.9,525.3" stroke="#80b838" stroke-width="0.7"/>
<polyline points="247.9,604.1 248.1,605.7 248.2,608.3" stroke="#80b838" stroke-width="0.7"/>
<polyline points="248.9,613.0 249.1,612.7 249.2,614.8" stroke="#80b838" stroke-width="0.7"/>
<polyline points="250.4,610.1 250.5,605.6 250.7,602.4 250.8,593.5 251.4,576.2 252.0,584.9 252.6,599.1 253.2,610.8 253.8,603.6 254.4,575.4 254.9,560.8" stroke="#80b838" stroke-width="0.7"/>
<polyline points="257.9,562.1 258.4,546.4 259.0,571.1 259.6,599.4 260.2,610.4 260.8,592.9" stroke="#80b838" stroke-width="0.7"/>
<polyline points="281.8,585.1 282.4,579.1 283.0,594.4" stroke="#80b838" stroke-width="0.7"/>
<polyline points="284.7,600.7 285.3,579.2 285.9,579.8" stroke="#80b838" stroke-width="0.7"/>
<polyline points="288.2,601.8 288.8,588.4 289.4,593.8 290.0,606.1 290.6,612.8 291.1,612.7" stroke="#80b838" stroke-width="0.7"/>
<polyline points="294.1,615.4 294.6,614.5 295.2,614.6" stroke="#80b838" stroke-width="0.7"/>
<polyline points="298.1,612.5 298.7,603.6 299.3,596.2 299.9,599.9" stroke="#80b838" stroke-width="0.7"/>
<polyline points="301.1,613.2 301.7,604.9 302.2,588.5 302.8,581.1 303.4,593.8 304.0,606.3 304.6,612.2 305.2,599.1 305.7,580.1 306.3,573.9 306.9,594.7 307.5,609.5 308.1,611.1" stroke="#80b838" stroke-width="0.7"/>
<polyline points="309.2,583.9 309.8,579.2 310.4,597.9 311.0,612.3 311.6,610.2 312.2,596.6 312.7,588.5 313.3,592.5 313.9,605.7 314.5,613.3 315.1,610.8 315.7,605.8 316.2,608.2 316.8,614.0" stroke="#80b838" stroke-width="0.7"/>
<polyline points="323.3,596.0 323.8,599.1 324.4,609.3" stroke="#80b838" stroke-width="0.7"/>
<polyline points="332.0,609.2 332.6,589.4 333.2,572.9" stroke="#80b838" stroke-width="0.7"/>
<polyline points="336.1,591.2 336.7,580.5 337.3,590.7" stroke="#80b838" stroke-width="0.7"/>
<polyline points="339.6,605.3 340.2,607.8 340.8,613.4" stroke="#80b838" stroke-width="0.7"/>
<polyline points="346.0,610.5 346.6,599.1 347.2,594.4" stroke="#80b838" stroke-width="0.7"/>
<polyline points="352.5,610.0 353.0,591.4 353.6,569.6 354.2,570.0" stroke="#80b838" stroke-width="0.7"/>
<polyline points="356.0,606.5 356.5,587.2 357.1,573.7 357.7,579.9 358.3,598.9 358.9,612.8" stroke="#80b838" stroke-width="0.7"/>
<polyline points="360.0,591.3 360.6,578.5 361.2,587.3" stroke="#80b838" stroke-width="0.7"/>
<polyline points="363.0,609.1 363.5,602.8 364.1,608.2" stroke="#80b838" stroke-width="0.7"/>
<polyline points="369.4,615.8 370.0,609.8 370.6,601.9 371.1,595.0 371.7,602.4" stroke="#80b838" stroke-width="0.7"/>
<polyline points="372.9,611.7 373.5,597.6 374.1,581.3 374.6,581.7 375.2,597.1 375.8,612.5 376.4,608.8 377.0,589.1 377.6,575.3 378.1,578.7 378.7,598.7 379.3,611.8 379.9,606.8 380.5,586.4 381.1,579.2 381.6,584.1 382.2,604.1" stroke="#80b838" stroke-width="0.7"/>
<polyline points="383.4,605.3 384.0,588.9 384.6,587.4" stroke="#80b838" stroke-width="0.7"/>
<polyline points="386.9,608.9 387.5,602.8 388.1,608.0 388.7,612.5" stroke="#80b838" stroke-width="0.7"/>
<polyline points="389.8,614.1 390.4,613.2 391.0,611.4 391.6,612.7" stroke="#80b838" stroke-width="0.7"/>
<polyline points="395.1,598.6 395.7,604.5 396.2,613.8" stroke="#80b838" stroke-width="0.7"/>
<polyline points="398.0,584.5 398.6,585.6 399.2,601.1" stroke="#80b838" stroke-width="0.7"/>
<polyline points="401.5,585.3 402.1,583.1 402.7,603.1 403.3,612.3 403.8,606.3 404.4,585.1 405.0,572.8 405.6,585.6 406.2,607.6" stroke="#80b838" stroke-width="0.7"/>
<polyline points="407.9,590.4 408.5,589.1 409.1,598.0 409.7,609.9 410.3,613.8" stroke="#80b838" stroke-width="0.7"/>
<polyline points="417.9,609.4 418.4,599.1 419.0,596.1" stroke="#80b838" stroke-width="0.7"/>
<polyline points="423.1,600.5 423.7,612.8 424.3,605.5" stroke="#80b838" stroke-width="0.7"/>
<polyline points="425.4,571.8 426.0,580.7 426.6,602.6" stroke="#80b838" stroke-width="0.7"/>
<polyline points="428.4,580.9 428.9,568.3 429.5,587.4 430.1,608.2" stroke="#80b838" stroke-width="0.7"/>
<polyline points="431.9,587.1 432.5,582.2 433.0,598.6 433.6,610.2 434.2,613.2 434.8,605.6 435.4,601.4 436.0,609.7 436.5,613.3 437.1,615.6" stroke="#80b838" stroke-width="0.7"/>
<polyline points="446.5,583.5 447.1,602.4 447.6,611.6" stroke="#80b838" stroke-width="0.7"/>
<polyline points="450.6,607.1 451.1,611.4 451.7,598.5" stroke="#80b838" stroke-width="0.7"/>
<polyline points="455.2,600.4 455.8,584.8 456.4,586.6 457.0,598.1 457.6,613.0" stroke="#80b838" stroke-width="0.7"/>
<polyline points="459.3,603.1 459.9,608.3 460.5,613.7" stroke="#80b838" stroke-width="0.7"/>
<polyline points="465.7,610.1 466.3,599.9 466.9,599.1 467.5,609.2 468.1,613.1 468.7,604.6 469.2,593.8 469.8,584.6 470.4,590.7 471.0,606.6 471.6,613.2 472.2,600.8 472.7,583.0 473.3,576.8 473.9,593.3 474.5,605.5 475.1,612.3 475.7,600.1 476.2,579.0 476.8,583.2 477.4,594.8 478.0,611.1" stroke="#80b838" stroke-width="0.7"/>
<polyline points="479.2,600.2 479.8,583.1 480.3,588.5" stroke="#80b838" stroke-width="0.7"/>
<polyline points="481.5,613.7 482.1,611.1 482.7,605.1 483.3,602.9 483.8,608.8 484.4,613.0 485.0,614.0 485.6,614.1" stroke="#80b838" stroke-width="0.7"/>
<polyline points="490.3,603.9 490.8,604.1 491.4,611.1" stroke="#80b838" stroke-width="0.7"/>
<polyline points="493.8,589.9 494.3,598.7 494.9,610.4" stroke="#80b838" stroke-width="0.7"/>
<polyline points="496.1,603.6 496.7,586.9 497.3,585.5 497.9,598.5" stroke="#80b838" stroke-width="0.7"/>
<polyline points="502.5,611.8 503.1,600.0 503.7,589.0 504.3,594.4 504.9,605.5 505.4,613.1 506.0,612.4 506.6,603.7 507.2,604.1" stroke="#80b838" stroke-width="0.7"/>
<polyline points="509.5,614.5 510.1,612.0 510.7,612.1 511.3,612.0 511.9,613.6 512.5,614.0 513.0,614.6" stroke="#80b838" stroke-width="0.7"/>
<polyline points="514.8,604.8 515.4,610.4 516.0,613.7" stroke="#80b838" stroke-width="0.7"/>
<polyline points="517.1,598.0 517.7,590.4 518.3,599.1 518.9,609.9 519.5,613.2 520.0,600.6 520.6,589.2 521.2,586.0 521.8,599.1" stroke="#80b838" stroke-width="0.7"/>
<polyline points="524.7,590.1 525.3,603.8 525.9,611.1 526.5,609.5 527.0,600.1" stroke="#80b838" stroke-width="0.7"/>
<polyline points="531.1,606.6 531.7,611.2 532.3,614.1" stroke="#80b838" stroke-width="0.7"/>
<polyline points="537.0,614.5 537.6,607.8 538.1,602.6 538.7,605.1 539.3,612.9 539.9,613.6 540.5,605.6 541.1,596.7 541.6,591.0 542.2,601.8 542.8,611.9 543.4,613.3 544.0,601.9 544.6,587.5 545.1,587.2 545.7,604.0 546.3,612.4 546.9,610.2 547.5,597.7 548.1,589.3 548.7,592.1 549.2,605.4 549.8,613.9" stroke="#80b838" stroke-width="0.7"/>
<polyline points="551.0,598.1 551.6,593.6 552.2,597.5 552.7,608.7" stroke="#80b838" stroke-width="0.7"/>
<polyline points="553.9,612.4 554.5,604.6 555.1,604.6 555.7,612.2" stroke="#80b838" stroke-width="0.7"/>
<polyline points="234.5,525.1 234.7,529.7 234.8,534.3" stroke="#4fc3f2" stroke-width="0.7"/>
<polyline points="237.0,534.0 237.1,530.3 237.3,526.6 237.4,522.9 237.6,519.3 237.8,515.6 237.9,523.4 238.1,531.3" stroke="#4fc3f2" stroke-width="0.7"/>
<polyline points="249.1,614.7 249.2,612.4 249.4,614.4 249.5,614.7 249.7,615.7 249.9,613.5 250.0,613.1 250.2,613.1 250.4,610.1 250.5,605.8 250.7,603.0 250.8,595.7 251.4,577.4 252.0,580.6" stroke="#4fc3f2" stroke-width="0.7"/>
<polyline points="253.8,603.2 254.4,571.5 254.9,546.9 255.5,571.3 256.1,595.8 256.7,610.6" stroke="#4fc3f2" stroke-width="0.7"/>
<polyline points="257.9,564.0 258.4,544.4 259.0,569.6 259.6,601.8 260.2,610.0 260.8,589.7 261.4,562.6" stroke="#4fc3f2" stroke-width="0.7"/>
<polyline points="262.5,582.8 263.1,605.1 263.7,609.4" stroke="#4fc3f2" stroke-width="0.7"/>
<polyline points="268.4,607.4 269.0,612.9 269.5,613.9" stroke="#4fc3f2" stroke-width="0.7"/>
<polyline points="275.4,595.3 276.0,595.1 276.5,605.5 277.1,613.4 277.7,607.6 278.3,590.1 278.9,574.9 279.5,585.5 280.0,603.6 280.6,612.5 281.2,600.8 281.8,577.6 282.4,570.8 283.0,584.9 283.6,606.7 284.1,611.0 284.7,597.8 285.3,579.6 285.9,574.0 286.5,590.3 287.1,610.3" stroke="#4fc3f2" stroke-width="0.7"/>
<polyline points="288.2,596.5 288.8,585.4 289.4,589.2 290.0,599.6 290.6,612.2 291.1,612.4" stroke="#4fc3f2" stroke-width="0.7"/>
<polyline points="292.9,613.9 293.5,613.6 294.1,614.6 294.6,613.7 295.2,613.2 295.8,613.6 296.4,612.5 297.0,614.0 297.6,614.3 298.1,612.6 298.7,602.9 299.3,597.7" stroke="#4fc3f2" stroke-width="0.7"/>
<polyline points="302.2,589.4 302.8,576.6 303.4,589.4 304.0,608.4 304.6,612.1 305.2,599.9 305.7,582.7 306.3,580.8 306.9,593.0 307.5,610.2" stroke="#4fc3f2" stroke-width="0.7"/>
<polyline points="308.7,595.7 309.2,579.7 309.8,582.8 310.4,595.1 311.0,611.2 311.6,610.3 312.2,597.9 312.7,584.7 313.3,591.6 313.9,607.6" stroke="#4fc3f2" stroke-width="0.7"/>
<polyline points="315.7,606.5 316.2,608.6 316.8,612.5" stroke="#4fc3f2" stroke-width="0.7"/>
<polyline points="320.3,613.6 320.9,613.0 321.5,614.7" stroke="#4fc3f2" stroke-width="0.7"/>
<polyline points="323.3,594.8 323.8,597.2 324.4,610.0" stroke="#4fc3f2" stroke-width="0.7"/>
<polyline points="325.6,602.3 326.2,581.7 326.8,584.2" stroke="#4fc3f2" stroke-width="0.7"/>
<polyline points="344.9,616.2 345.4,613.1 346.0,609.9 346.6,600.4 347.2,592.8" stroke="#4fc3f2" stroke-width="0.7"/>
<polyline points="348.9,611.7 349.5,597.9 350.1,577.6 350.7,576.2 351.3,590.9 351.9,608.8 352.5,611.0 353.0,589.3 353.6,567.0 354.2,575.9 354.8,588.0 355.4,610.1 356.0,607.3 356.5,585.9 357.1,573.4 357.7,573.6 358.3,598.4 358.9,612.0 359.5,607.2 360.0,586.4 360.6,575.8 361.2,587.7 361.8,605.4 362.4,613.6 363.0,609.0" stroke="#4fc3f2" stroke-width="0.7"/>
<polyline points="365.3,614.1 365.9,613.5 366.5,613.9 367.1,612.1 367.6,612.6" stroke="#4fc3f2" stroke-width="0.7"/>
<polyline points="369.4,615.5 370.0,611.1 370.6,601.0 371.1,599.4 371.7,601.2 372.3,612.1" stroke="#4fc3f2" stroke-width="0.7"/>
<polyline points="373.5,603.9 374.1,584.5 374.6,585.3 375.2,599.0 375.8,611.2 376.4,607.7 377.0,593.5" stroke="#4fc3f2" stroke-width="0.7"/>
<polyline points="379.3,612.4 379.9,607.1 380.5,590.7" stroke="#4fc3f2" stroke-width="0.7"/>
<polyline points="382.2,604.2 382.8,612.1 383.4,607.7" stroke="#4fc3f2" stroke-width="0.7"/>
<polyline points="385.2,597.9 385.7,609.2 386.3,614.8" stroke="#4fc3f2" stroke-width="0.7"/>
<polyline points="387.5,605.8 388.1,608.8 388.7,612.9" stroke="#4fc3f2" stroke-width="0.7"/>
<polyline points="393.9,609.8 394.5,598.9 395.1,597.4 395.7,603.7 396.2,611.1 396.8,611.4" stroke="#4fc3f2" stroke-width="0.7"/>
<polyline points="398.0,585.0 398.6,581.4 399.2,597.9 399.8,613.0 400.3,607.6 400.9,590.3 401.5,571.1 402.1,583.5 402.7,601.3 403.3,611.1 403.8,605.6 404.4,581.4 405.0,576.9" stroke="#4fc3f2" stroke-width="0.7"/>
<polyline points="407.3,605.5 407.9,589.2 408.5,583.0 409.1,598.0 409.7,611.6 410.3,614.8 410.8,607.4 411.4,603.8 412.0,608.2 412.6,613.8" stroke="#4fc3f2" stroke-width="0.7"/>
<polyline points="417.3,614.7 417.9,608.0 418.4,591.8 419.0,592.2 419.6,604.3" stroke="#4fc3f2" stroke-width="0.7"/>
<polyline points="421.9,577.6 422.5,577.1 423.1,599.0 423.7,610.6 424.3,604.5 424.9,580.4 425.4,566.6 426.0,575.5 426.6,601.5 427.2,612.5 427.8,600.6 428.4,579.6 428.9,563.9 429.5,583.5 430.1,605.5" stroke="#4fc3f2" stroke-width="0.7"/>
<polyline points="431.3,601.1 431.9,580.0 432.5,578.7 433.0,592.4 433.6,609.8 434.2,612.8 434.8,605.9 435.4,602.0 436.0,608.0" stroke="#4fc3f2" stroke-width="0.7"/>
<polyline points="441.8,608.9 442.4,593.3 443.0,596.0 443.5,606.2 444.1,611.8 444.7,608.0" stroke="#4fc3f2" stroke-width="0.7"/>
<polyline points="446.5,584.5 447.1,601.6 447.6,612.0" stroke="#4fc3f2" stroke-width="0.7"/>
<polyline points="450.0,581.4 450.6,604.9 451.1,611.8" stroke="#4fc3f2" stroke-width="0.7"/>
<polyline points="455.2,598.4 455.8,583.6 456.4,586.3 457.0,598.6 457.6,610.7 458.1,611.6 458.7,603.3 459.3,601.1" stroke="#4fc3f2" stroke-width="0.7"/>
<polyline points="461.1,615.2 461.6,613.9 462.2,613.3" stroke="#4fc3f2" stroke-width="0.7"/>
<polyline points="463.4,613.9 464.0,613.2 464.6,615.2" stroke="#4fc3f2" stroke-width="0.7"/>
<polyline points="465.7,607.4 466.3,599.0 466.9,597.9 467.5,607.6 468.1,614.0" stroke="#4fc3f2" stroke-width="0.7"/>
<polyline points="469.2,593.6 469.8,584.9 470.4,587.5 471.0,606.7 471.6,614.4 472.2,603.5 472.7,583.4 473.3,571.2 473.9,587.3 474.5,607.3 475.1,611.8 475.7,597.6 476.2,583.2 476.8,579.0 477.4,593.5 478.0,609.6 478.6,611.9" stroke="#4fc3f2" stroke-width="0.7"/>
<polyline points="480.3,588.5 480.9,600.3 481.5,612.8 482.1,611.4 482.7,605.4 483.3,601.0 483.8,610.4" stroke="#4fc3f2" stroke-width="0.7"/>
<polyline points="488.5,614.5 489.1,613.7 489.7,609.1" stroke="#4fc3f2" stroke-width="0.7"/>
<polyline points="507.2,606.0 507.8,610.3 508.4,613.7" stroke="#4fc3f2" stroke-width="0.7"/>
<polyline points="510.1,613.4 510.7,611.9 511.3,612.4" stroke="#4fc3f2" stroke-width="0.7"/>
<polyline points="512.5,615.7 513.0,613.7 513.6,607.4 514.2,600.7 514.8,605.0 515.4,610.6 516.0,615.0 516.5,606.0 517.1,594.7 517.7,585.8 518.3,596.2 518.9,610.7 519.5,612.6 520.0,601.5 520.6,587.8 521.2,584.2 521.8,598.5" stroke="#4fc3f2" stroke-width="0.7"/>
<polyline points="523.0,611.4 523.5,596.9 524.1,584.7 524.7,587.7 525.3,602.4 525.9,611.1 526.5,610.6" stroke="#4fc3f2" stroke-width="0.7"/>
<polyline points="527.6,590.3 528.2,594.4 528.8,607.8 529.4,613.3 530.0,610.9 530.6,605.1 531.1,603.7 531.7,611.5" stroke="#4fc3f2" stroke-width="0.7"/>
<polyline points="532.9,614.0 533.5,612.2 534.1,613.9 534.6,612.5 535.2,613.6" stroke="#4fc3f2" stroke-width="0.7"/>
<polyline points="537.0,614.9 537.6,606.6 538.1,602.6 538.7,605.4 539.3,612.3 539.9,613.7 540.5,607.6 541.1,595.9 541.6,595.8 542.2,601.9" stroke="#4fc3f2" stroke-width="0.7"/>
<polyline points="545.1,593.4 545.7,601.8 546.3,613.3" stroke="#4fc3f2" stroke-width="0.7"/>
<polyline points="548.1,592.6 548.7,593.1 549.2,606.5 549.8,614.1" stroke="#4fc3f2" stroke-width="0.7"/>
<polyline points="551.6,597.4 552.2,598.8 552.7,608.6" stroke="#4fc3f2" stroke-width="0.7"/>
<polyline points="554.5,607.2 555.1,605.9 555.7,611.5" stroke="#4fc3f2" stroke-width="0.7"/>
<polyline points="234.5,527.1 234.7,530.3 234.8,533.5" stroke="#b41e3c" stroke-width="0.7"/>
<polyline points="237.0,535.4 237.1,529.2 237.3,523.0 237.4,516.9 237.6,510.7 237.8,504.5 237.9,513.8 238.1,523.0 238.3,532.3 238.4,541.5 238.6,550.8" stroke="#b41e3c" stroke-width="0.7"/>
<polyline points="239.2,567.3 239.4,571.4 239.6,573.9 239.7,572.3 239.9,570.7 240.1,569.1 240.2,567.5 240.4,565.4 240.5,562.3 240.7,559.2" stroke="#b41e3c" stroke-width="0.7"/>
<polyline points="241.7,561.2 241.9,566.1 242.0,571.0 242.2,576.2 242.3,581.6 242.5,587.0 242.7,592.4" stroke="#b41e3c" stroke-width="0.7"/>
<polyline points="248.7,612.2 248.9,611.3 249.1,613.6" stroke="#b41e3c" stroke-width="0.7"/>
<polyline points="249.4,613.9 249.5,613.2 249.7,614.4" stroke="#b41e3c" stroke-width="0.7"/>
<polyline points="250.8,596.5 251.4,578.1 252.0,581.0" stroke="#b41e3c" stroke-width="0.7"/>
<polyline points="257.9,562.2 258.4,548.4 259.0,571.8" stroke="#b41e3c" stroke-width="0.7"/>
<polyline points="271.3,614.3 271.9,611.7 272.5,613.6" stroke="#b41e3c" stroke-width="0.7"/>
<polyline points="276.0,598.2 276.5,606.2 277.1,612.6" stroke="#b41e3c" stroke-width="0.7"/>
<polyline points="281.8,581.6 282.4,577.2 283.0,590.3 283.6,608.3 284.1,612.1 284.7,596.4 285.3,580.1 285.9,582.7 286.5,593.8 287.1,612.0" stroke="#b41e3c" stroke-width="0.7"/>
<polyline points="288.2,599.9 288.8,586.1 289.4,593.7" stroke="#b41e3c" stroke-width="0.7"/>
<polyline points="298.7,605.9 299.3,597.0 299.9,599.1 300.5,609.0" stroke="#b41e3c" stroke-width="0.7"/>
<polyline points="302.2,589.5 302.8,583.2 303.4,592.0 304.0,609.3 304.6,613.0 305.2,599.3 305.7,580.4 306.3,573.1 306.9,591.4 307.5,610.7" stroke="#b41e3c" stroke-width="0.7"/>
<polyline points="308.7,596.1 309.2,579.4 309.8,578.7 310.4,597.6 311.0,612.7 311.6,610.8 312.2,598.4 312.7,586.3 313.3,594.0" stroke="#b41e3c" stroke-width="0.7"/>
<polyline points="323.3,594.9 323.8,597.4 324.4,608.3" stroke="#b41e3c" stroke-width="0.7"/>
<polyline points="326.8,577.9 327.3,590.4 327.9,609.6" stroke="#b41e3c" stroke-width="0.7"/>
<polyline points="329.1,595.8 329.7,570.2 330.3,576.1" stroke="#b41e3c" stroke-width="0.7"/>
<polyline points="333.8,577.6 334.4,595.8 334.9,611.7" stroke="#b41e3c" stroke-width="0.7"/>
<polyline points="336.7,584.0 337.3,586.3 337.9,605.8 338.4,613.0 339.0,612.3 339.6,603.3 340.2,607.4 340.8,613.7" stroke="#b41e3c" stroke-width="0.7"/>
<polyline points="346.0,610.9 346.6,600.5 347.2,597.1" stroke="#b41e3c" stroke-width="0.7"/>
<polyline points="358.3,600.6 358.9,611.9 359.5,609.7" stroke="#b41e3c" stroke-width="0.7"/>
<polyline points="364.7,613.5 365.3,613.8 365.9,615.1" stroke="#b41e3c" stroke-width="0.7"/>
<polyline points="369.4,615.2 370.0,611.1 370.6,601.4 371.1,595.0 371.7,602.6 372.3,611.4 372.9,611.2 373.5,599.1 374.1,580.7 374.6,580.5 375.2,597.3 375.8,609.8 376.4,609.5 377.0,591.6 377.6,576.3 378.1,580.0 378.7,598.8 379.3,611.8 379.9,605.8 380.5,588.2" stroke="#b41e3c" stroke-width="0.7"/>
<polyline points="381.6,586.6 382.2,602.9 382.8,611.3 383.4,606.9 384.0,590.2 384.6,585.2 385.2,594.8" stroke="#b41e3c" stroke-width="0.7"/>
<polyline points="387.5,603.7 388.1,609.6 388.7,613.7" stroke="#b41e3c" stroke-width="0.7"/>
<polyline points="395.1,599.5 395.7,602.9 396.2,611.1 396.8,611.9" stroke="#b41e3c" stroke-width="0.7"/>
<polyline points="398.0,585.8 398.6,585.6 399.2,602.3" stroke="#b41e3c" stroke-width="0.7"/>
<polyline points="400.9,591.3 401.5,571.6 402.1,587.1 402.7,601.6 403.3,613.9" stroke="#b41e3c" stroke-width="0.7"/>
<polyline points="405.6,591.3 406.2,604.8 406.8,613.6" stroke="#b41e3c" stroke-width="0.7"/>
<polyline points="407.9,591.2 408.5,587.0 409.1,597.1 409.7,609.6 410.3,614.7 410.8,607.6 411.4,602.7 412.0,609.4 412.6,612.4 413.2,613.4 413.8,613.8" stroke="#b41e3c" stroke-width="0.7"/>
<polyline points="415.5,612.2 416.1,612.4 416.7,614.7" stroke="#b41e3c" stroke-width="0.7"/>
<polyline points="417.9,608.9 418.4,598.6 419.0,595.2 419.6,604.0" stroke="#b41e3c" stroke-width="0.7"/>
<polyline points="421.9,578.3 422.5,581.0 423.1,602.3 423.7,612.6 424.3,606.1" stroke="#b41e3c" stroke-width="0.7"/>
<polyline points="428.4,581.1 428.9,571.2 429.5,582.0 430.1,605.8" stroke="#b41e3c" stroke-width="0.7"/>
<polyline points="431.9,586.9 432.5,583.2 433.0,598.8 433.6,611.0 434.2,613.3" stroke="#b41e3c" stroke-width="0.7"/>
<polyline points="436.0,610.3 436.5,613.3 437.1,614.6" stroke="#b41e3c" stroke-width="0.7"/>
<polyline points="439.5,612.9 440.0,613.9 440.6,615.7" stroke="#b41e3c" stroke-width="0.7"/>
<polyline points="462.8,612.4 463.4,611.9 464.0,614.7" stroke="#b41e3c" stroke-width="0.7"/>
<polyline points="480.9,602.9 481.5,611.6 482.1,613.2" stroke="#b41e3c" stroke-width="0.7"/>
<polyline points="483.8,610.6 484.4,614.0 485.0,615.8" stroke="#b41e3c" stroke-width="0.7"/>
<polyline points="493.8,591.3 494.3,596.5 494.9,610.2" stroke="#b41e3c" stroke-width="0.7"/>
<polyline points="496.7,589.8 497.3,582.8 497.9,595.8 498.4,610.3" stroke="#b41e3c" stroke-width="0.7"/>
<polyline points="503.7,590.6 504.3,595.2 504.9,605.7 505.4,612.2 506.0,613.0" stroke="#b41e3c" stroke-width="0.7"/>
<polyline points="510.7,613.7 511.3,611.9 511.9,614.5 512.5,614.8 513.0,613.2 513.6,607.4 514.2,602.4 514.8,603.2 515.4,612.2 516.0,613.4 516.5,607.4 517.1,594.9 517.7,590.7 518.3,599.0 518.9,609.7 519.5,612.8" stroke="#b41e3c" stroke-width="0.7"/>
<polyline points="520.6,585.5 521.2,584.2 521.8,598.3 522.4,610.6" stroke="#b41e3c" stroke-width="0.7"/>
<polyline points="524.1,588.5 524.7,588.2 525.3,602.2 525.9,612.6" stroke="#b41e3c" stroke-width="0.7"/>
<polyline points="527.6,588.8 528.2,594.7 528.8,606.6 529.4,612.9 530.0,610.2 530.6,605.3 531.1,605.3 531.7,610.3 532.3,613.9" stroke="#b41e3c" stroke-width="0.7"/>
<polyline points="536.4,615.2 537.0,613.2 537.6,608.3 538.1,603.8 538.7,605.7 539.3,613.1 539.9,612.8 540.5,606.1 541.1,597.6 541.6,591.8 542.2,602.5" stroke="#b41e3c" stroke-width="0.7"/>
<polyline points="544.0,606.0 544.6,590.2 545.1,589.6 545.7,601.9 546.3,612.6 546.9,611.3" stroke="#b41e3c" stroke-width="0.7"/>
<polyline points="548.1,590.2 548.7,592.9 549.2,605.6 549.8,613.8" stroke="#b41e3c" stroke-width="0.7"/>
<polyline points="551.6,596.0 552.2,599.5 552.7,609.4" stroke="#b41e3c" stroke-width="0.7"/>
<polyline points="554.5,605.9 555.1,604.4 555.7,612.0" stroke="#b41e3c" stroke-width="0.7"/>
<polyline points="234.5,527.1 234.7,530.0 234.8,533.0" stroke="#1a7fd2" stroke-width="0.7"/>
<polyline points="236.3,567.6 236.5,558.7 236.6,549.8 236.8,540.9 237.0,532.0 237.1,529.0 237.3,526.0 237.4,523.0 237.6,520.0 237.8,517.0 237.9,524.0 238.1,531.1" stroke="#1a7fd2" stroke-width="0.7"/>
<polyline points="239.6,575.1 239.7,573.1 239.9,571.2 240.1,569.3 240.2,567.4 240.4,565.5 240.5,563.5" stroke="#1a7fd2" stroke-width="0.7"/>
<polyline points="241.9,568.0 242.0,571.7 242.2,576.4 242.3,581.9 242.5,587.4" stroke="#1a7fd2" stroke-width="0.7"/>
<polyline points="244.3,589.6 244.5,587.9 244.6,589.1 244.8,592.4" stroke="#1a7fd2" stroke-width="0.7"/>
<polyline points="249.1,613.2 249.2,612.1 249.4,613.3" stroke="#1a7fd2" stroke-width="0.7"/>
<polyline points="249.9,615.0 250.0,613.3 250.2,613.0" stroke="#1a7fd2" stroke-width="0.7"/>
<polyline points="270.7,614.4 271.3,611.8 271.9,613.6" stroke="#1a7fd2" stroke-width="0.7"/>
<polyline points="280.0,606.7 280.6,612.0 281.2,603.7 281.8,584.1 282.4,576.9 283.0,593.9" stroke="#1a7fd2" stroke-width="0.7"/>
<polyline points="288.2,596.8 288.8,587.8 289.4,594.7" stroke="#1a7fd2" stroke-width="0.7"/>
<polyline points="292.9,613.5 293.5,613.3 294.1,615.1" stroke="#1a7fd2" stroke-width="0.7"/>
<polyline points="297.6,614.9 298.1,610.9 298.7,601.7 299.3,594.6 299.9,600.1 300.5,608.2 301.1,612.3 301.7,604.2 302.2,583.8 302.8,575.2 303.4,592.8 304.0,607.0 304.6,611.5 305.2,596.6 305.7,576.3 306.3,573.3 306.9,591.3 307.5,609.5 308.1,609.2 308.7,595.7 309.2,577.2 309.8,580.2 310.4,594.0 311.0,611.4 311.6,610.3 312.2,596.6 312.7,583.0 313.3,589.2 313.9,604.2 314.5,613.9" stroke="#1a7fd2" stroke-width="0.7"/>
<polyline points="315.7,605.9 316.2,608.3 316.8,613.8" stroke="#1a7fd2" stroke-width="0.7"/>
<polyline points="343.7,612.3 344.3,611.8 344.9,613.8" stroke="#1a7fd2" stroke-width="0.7"/>
<polyline points="346.0,611.1 346.6,598.3 347.2,590.2 347.8,598.1 348.4,611.1" stroke="#1a7fd2" stroke-width="0.7"/>
<polyline points="349.5,599.2 350.1,581.2 350.7,578.0" stroke="#1a7fd2" stroke-width="0.7"/>
<polyline points="352.5,609.5 353.0,588.9 353.6,570.5 354.2,571.0" stroke="#1a7fd2" stroke-width="0.7"/>
<polyline points="356.0,607.6 356.5,586.8 357.1,567.3 357.7,578.2 358.3,599.0 358.9,611.8 359.5,607.2" stroke="#1a7fd2" stroke-width="0.7"/>
<polyline points="361.8,607.1 362.4,612.8 363.0,609.9 363.5,602.6 364.1,606.6 364.7,613.1" stroke="#1a7fd2" stroke-width="0.7"/>
<polyline points="366.5,615.8 367.1,612.4 367.6,613.0" stroke="#1a7fd2" stroke-width="0.7"/>
<polyline points="374.6,585.9 375.2,598.9 375.8,611.8 376.4,609.4" stroke="#1a7fd2" stroke-width="0.7"/>
<polyline points="378.7,600.8 379.3,611.4 379.9,607.1 380.5,590.2" stroke="#1a7fd2" stroke-width="0.7"/>
<polyline points="387.5,605.7 388.1,608.2 388.7,613.1" stroke="#1a7fd2" stroke-width="0.7"/>
<polyline points="391.0,613.0 391.6,611.6 392.2,613.2" stroke="#1a7fd2" stroke-width="0.7"/>
<polyline points="393.9,609.9 394.5,598.1 395.1,593.4 395.7,602.8 396.2,611.9 396.8,610.3 397.4,595.7 398.0,579.1 398.6,579.5 399.2,600.9 399.8,611.1 400.3,607.5 400.9,587.3 401.5,576.5 402.1,579.9 402.7,600.4 403.3,612.5 403.8,603.1 404.4,581.0 405.0,576.2" stroke="#1a7fd2" stroke-width="0.7"/>
<polyline points="407.3,604.0 407.9,588.4 408.5,580.8 409.1,596.7 409.7,610.2" stroke="#1a7fd2" stroke-width="0.7"/>
<polyline points="410.8,608.6 411.4,602.5 412.0,608.6 412.6,613.4" stroke="#1a7fd2" stroke-width="0.7"/>
<polyline points="417.9,609.3 418.4,600.0 419.0,598.5" stroke="#1a7fd2" stroke-width="0.7"/>
<polyline points="423.1,603.4 423.7,612.6 424.3,604.7" stroke="#1a7fd2" stroke-width="0.7"/>
<polyline points="425.4,574.0 426.0,580.3 426.6,605.2" stroke="#1a7fd2" stroke-width="0.7"/>
<polyline points="428.9,574.4 429.5,587.6 430.1,608.1 430.7,612.4 431.3,599.3 431.9,587.5 432.5,583.2 433.0,598.6" stroke="#1a7fd2" stroke-width="0.7"/>
<polyline points="439.5,613.3 440.0,614.2 440.6,614.7 441.2,614.5 441.8,606.8 442.4,595.9" stroke="#1a7fd2" stroke-width="0.7"/>
<polyline points="446.5,586.6 447.1,604.2 447.6,613.7" stroke="#1a7fd2" stroke-width="0.7"/>
<polyline points="448.8,580.3 449.4,564.0 450.0,584.6" stroke="#1a7fd2" stroke-width="0.7"/>
<polyline points="455.2,601.0 455.8,583.6 456.4,586.4 457.0,598.5 457.6,612.2" stroke="#1a7fd2" stroke-width="0.7"/>
<polyline points="463.4,614.3 464.0,613.3 464.6,615.0" stroke="#1a7fd2" stroke-width="0.7"/>
<polyline points="465.7,606.9 466.3,596.9 466.9,598.9 467.5,607.6 468.1,612.8 468.7,607.1 469.2,590.8 469.8,580.9 470.4,590.6 471.0,606.3 471.6,612.8 472.2,602.4 472.7,579.0 473.3,576.0 473.9,591.3" stroke="#1a7fd2" stroke-width="0.7"/>
<polyline points="475.1,611.9 475.7,597.6 476.2,578.9 476.8,577.7 477.4,593.5 478.0,611.5 478.6,610.1 479.2,598.3 479.8,585.0 480.3,587.7" stroke="#1a7fd2" stroke-width="0.7"/>
<polyline points="482.1,612.0 482.7,603.6 483.3,603.5 483.8,609.8 484.4,613.7 485.0,615.7" stroke="#1a7fd2" stroke-width="0.7"/>
<polyline points="490.3,603.8 490.8,602.6 491.4,608.9 492.0,613.8 492.6,607.2 493.2,594.4 493.8,585.8 494.3,599.1 494.9,608.7 495.5,613.1 496.1,601.0 496.7,585.6 497.3,581.7 497.9,595.5 498.4,610.6 499.0,610.7 499.6,597.8 500.2,582.3 500.8,583.1 501.4,600.9 501.9,611.3 502.5,609.3 503.1,598.0 503.7,586.9 504.3,594.2 504.9,605.7 505.4,612.8 506.0,612.0 506.6,604.1 507.2,603.2" stroke="#1a7fd2" stroke-width="0.7"/>
<polyline points="509.5,614.4 510.1,612.4 510.7,613.3 511.3,611.8 511.9,613.9" stroke="#1a7fd2" stroke-width="0.7"/>
<polyline points="513.6,607.8 514.2,602.3 514.8,604.5" stroke="#1a7fd2" stroke-width="0.7"/>
<polyline points="517.1,596.7 517.7,591.4 518.3,598.7" stroke="#1a7fd2" stroke-width="0.7"/>
<polyline points="520.6,588.1 521.2,584.5 521.8,601.1" stroke="#1a7fd2" stroke-width="0.7"/>
<polyline points="524.1,586.1 524.7,587.3 525.3,604.0 525.9,614.0" stroke="#1a7fd2" stroke-width="0.7"/>
<polyline points="529.4,613.5 530.0,610.6 530.6,605.2 531.1,605.5 531.7,611.1 532.3,614.1" stroke="#1a7fd2" stroke-width="0.7"/>
<polyline points="534.1,613.2 534.6,611.1 535.2,613.2" stroke="#1a7fd2" stroke-width="0.7"/>
<polyline points="536.4,614.2 537.0,613.6 537.6,609.9" stroke="#1a7fd2" stroke-width="0.7"/>
<polyline points="539.3,613.8 539.9,613.3 540.5,606.7 541.1,599.7 541.6,595.3 542.2,603.9" stroke="#1a7fd2" stroke-width="0.7"/>
<polyline points="545.7,604.8 546.3,612.0 546.9,610.3 547.5,601.3" stroke="#1a7fd2" stroke-width="0.7"/>
<polyline points="548.7,596.4 549.2,606.1 549.8,612.3 550.4,611.1" stroke="#1a7fd2" stroke-width="0.7"/>
<polyline points="554.5,607.7 555.1,606.0 555.7,612.7" stroke="#1a7fd2" stroke-width="0.7"/>
<polyline points="559.7,615.0 560.3,614.3 560.9,612.7 561.5,613.0" stroke="#1a7fd2" stroke-width="0.7"/>
<polyline points="234.5,521.8 234.7,525.8 234.8,529.8 235.0,533.8 235.2,537.8" stroke="#f2621c" stroke-width="0.8"/>
<polyline points="236.3,568.6 236.5,558.9 236.6,549.3 236.8,539.6 237.0,530.0 237.1,526.4 237.3,522.9 237.4,519.3 237.6,515.8 237.8,512.2 237.9,519.2 238.1,526.2 238.3,533.2 238.4,540.2 238.6,547.1 238.8,552.3 238.9,557.4" stroke="#f2621c" stroke-width="0.8"/>
<polyline points="239.9,571.9 240.1,569.8 240.2,567.8 240.4,565.5 240.5,562.5" stroke="#f2621c" stroke-width="0.8"/>
<polyline points="241.7,561.0 241.9,565.5 242.0,570.1 242.2,575.2 242.3,580.8 242.5,586.3 242.7,591.8 242.8,597.3" stroke="#f2621c" stroke-width="0.8"/>
<polyline points="248.9,614.1 249.1,612.8 249.2,614.8 249.4,613.9 249.5,613.6 249.7,614.3" stroke="#f2621c" stroke-width="0.8"/>
<polyline points="250.0,613.9 250.2,611.5 250.4,609.3" stroke="#f2621c" stroke-width="0.8"/>
<polyline points="252.6,600.0 253.2,611.1 253.8,602.1" stroke="#f2621c" stroke-width="0.8"/>
<polyline points="257.9,568.8 258.4,550.7 259.0,572.9" stroke="#f2621c" stroke-width="0.8"/>
<polyline points="268.4,607.5 269.0,611.5 269.5,613.6" stroke="#f2621c" stroke-width="0.8"/>
<polyline points="274.8,602.5 275.4,590.7 276.0,595.8 276.5,606.7 277.1,612.8 277.7,604.5 278.3,585.9 278.9,577.0 279.5,584.4 280.0,603.9 280.6,613.5 281.2,600.3 281.8,576.2 282.4,565.4 283.0,588.1 283.6,608.1 284.1,610.8 284.7,598.3 285.3,573.5 285.9,573.1 286.5,596.4 287.1,610.1 287.6,612.1 288.2,597.2 288.8,581.6 289.4,586.5 290.0,601.9 290.6,612.8 291.1,612.4" stroke="#f2621c" stroke-width="0.8"/>
<polyline points="292.3,609.8 292.9,612.6 293.5,614.0" stroke="#f2621c" stroke-width="0.8"/>
<polyline points="294.6,614.7 295.2,612.3 295.8,613.2" stroke="#f2621c" stroke-width="0.8"/>
<polyline points="302.2,592.6 302.8,584.9 303.4,594.9 304.0,607.8 304.6,612.9 305.2,600.3 305.7,582.2 306.3,579.2 306.9,594.8 307.5,610.2" stroke="#f2621c" stroke-width="0.8"/>
<polyline points="309.8,583.7 310.4,597.1 311.0,611.3 311.6,610.7 312.2,595.3 312.7,588.5 313.3,596.0" stroke="#f2621c" stroke-width="0.8"/>
<polyline points="315.7,607.6 316.2,608.8 316.8,614.1 317.4,612.4 318.0,614.1" stroke="#f2621c" stroke-width="0.8"/>
<polyline points="323.3,592.4 323.8,597.5 324.4,608.8" stroke="#f2621c" stroke-width="0.8"/>
<polyline points="325.6,603.0 326.2,581.4 326.8,573.1 327.3,591.8" stroke="#f2621c" stroke-width="0.8"/>
<polyline points="333.8,582.5 334.4,595.9 334.9,611.1 335.5,608.4" stroke="#f2621c" stroke-width="0.8"/>
<polyline points="337.3,591.6 337.9,604.5 338.4,611.9 339.0,610.7 339.6,604.1 340.2,608.6 340.8,612.8" stroke="#f2621c" stroke-width="0.8"/>
<polyline points="342.5,613.9 343.1,611.5 343.7,611.6" stroke="#f2621c" stroke-width="0.8"/>
<polyline points="346.0,611.0 346.6,599.1 347.2,590.5 347.8,599.0 348.4,608.8 348.9,612.5 349.5,600.4 350.1,579.3 350.7,573.5 351.3,592.0 351.9,610.3 352.5,608.5 353.0,589.4 353.6,567.6 354.2,571.1" stroke="#f2621c" stroke-width="0.8"/>
<polyline points="356.5,587.8 357.1,569.2 357.7,573.2 358.3,600.5 358.9,611.7 359.5,606.3 360.0,590.2 360.6,579.7 361.2,586.9 361.8,604.7 362.4,614.0 363.0,610.0 363.5,601.4 364.1,606.7 364.7,614.0" stroke="#f2621c" stroke-width="0.8"/>
<polyline points="387.5,604.9 388.1,609.9 388.7,613.8" stroke="#f2621c" stroke-width="0.8"/>
<polyline points="392.2,613.9 392.7,613.3 393.3,614.1" stroke="#f2621c" stroke-width="0.8"/>
<polyline points="394.5,601.3 395.1,596.5 395.7,606.5" stroke="#f2621c" stroke-width="0.8"/>
<polyline points="401.5,579.3 402.1,583.1 402.7,602.4 403.3,612.5 403.8,606.5" stroke="#f2621c" stroke-width="0.8"/>
<polyline points="405.0,581.2 405.6,583.2 406.2,606.4" stroke="#f2621c" stroke-width="0.8"/>
<polyline points="407.9,591.6 408.5,587.4 409.1,596.5 409.7,610.2" stroke="#f2621c" stroke-width="0.8"/>
<polyline points="417.9,608.5 418.4,596.6 419.0,593.3 419.6,603.7" stroke="#f2621c" stroke-width="0.8"/>
<polyline points="421.4,594.1 421.9,575.8 422.5,580.5 423.1,599.3 423.7,611.9 424.3,606.3 424.9,580.8 425.4,570.7 426.0,574.5 426.6,601.9" stroke="#f2621c" stroke-width="0.8"/>
<polyline points="428.9,573.8 429.5,585.2 430.1,606.6" stroke="#f2621c" stroke-width="0.8"/>
<polyline points="431.3,602.4 431.9,584.2 432.5,580.3 433.0,595.8" stroke="#f2621c" stroke-width="0.8"/>
<polyline points="434.8,605.4 435.4,601.2 436.0,609.9" stroke="#f2621c" stroke-width="0.8"/>
<polyline points="441.2,614.8 441.8,606.5 442.4,593.4 443.0,591.6 443.5,601.8 444.1,612.1 444.7,607.4 445.3,583.6 445.9,572.3 446.5,577.9 447.1,599.3 447.6,611.6 448.2,602.9 448.8,571.5 449.4,562.7 450.0,574.9 450.6,602.7 451.1,611.5 451.7,595.3 452.3,573.1 452.9,565.4 453.5,582.0 454.1,607.0 454.6,610.7 455.2,595.6 455.8,576.6 456.4,577.2 457.0,594.0 457.6,610.7 458.1,611.6 458.7,604.3 459.3,599.1 459.9,608.4 460.5,614.3" stroke="#f2621c" stroke-width="0.8"/>
<polyline points="468.1,613.9 468.7,607.6 469.2,595.1" stroke="#f2621c" stroke-width="0.8"/>
<polyline points="471.0,607.5 471.6,612.8 472.2,604.3 472.7,588.3 473.3,578.6 473.9,591.1" stroke="#f2621c" stroke-width="0.8"/>
<polyline points="476.2,586.6 476.8,580.8 477.4,597.0" stroke="#f2621c" stroke-width="0.8"/>
<polyline points="484.4,615.2 485.0,615.0 485.6,614.5" stroke="#f2621c" stroke-width="0.8"/>
<polyline points="488.5,614.0 489.1,613.6 489.7,608.3 490.3,601.7 490.8,602.2 491.4,610.7 492.0,612.9 492.6,608.3 493.2,594.1 493.8,587.2 494.3,594.4 494.9,609.3" stroke="#f2621c" stroke-width="0.8"/>
<polyline points="496.1,604.3 496.7,584.5 497.3,581.6 497.9,593.1 498.4,609.4 499.0,612.3 499.6,599.4 500.2,584.6 500.8,581.6 501.4,598.5 501.9,612.1 502.5,611.1 503.1,600.4 503.7,589.1 504.3,593.3 504.9,605.4 505.4,611.9 506.0,612.2" stroke="#f2621c" stroke-width="0.8"/>
<polyline points="507.2,603.5 507.8,609.6 508.4,613.3" stroke="#f2621c" stroke-width="0.8"/>
<polyline points="510.7,613.4 511.3,611.6 511.9,614.1" stroke="#f2621c" stroke-width="0.8"/>
<polyline points="514.2,605.5 514.8,603.9 515.4,611.7 516.0,612.6 516.5,607.5" stroke="#f2621c" stroke-width="0.8"/>
<polyline points="521.2,591.0 521.8,597.1 522.4,611.1" stroke="#f2621c" stroke-width="0.8"/>
<polyline points="524.1,592.2 524.7,587.8 525.3,601.3 525.9,611.7 526.5,610.7" stroke="#f2621c" stroke-width="0.8"/>
<polyline points="530.0,612.0 530.6,603.9 531.1,605.9" stroke="#f2621c" stroke-width="0.8"/>
<polyline points="534.1,613.9 534.6,612.4 535.2,613.5" stroke="#f2621c" stroke-width="0.8"/>
<polyline points="536.4,614.5 537.0,613.3 537.6,607.8 538.1,603.5 538.7,606.3 539.3,611.4 539.9,613.8 540.5,606.9 541.1,596.6 541.6,592.9 542.2,599.9 542.8,611.1 543.4,612.6 544.0,601.3 544.6,590.0 545.1,591.8 545.7,602.6 546.3,613.3" stroke="#f2621c" stroke-width="0.8"/>
<polyline points="547.5,599.0 548.1,586.3 548.7,589.2 549.2,603.9 549.8,614.5" stroke="#f2621c" stroke-width="0.8"/>
<polyline points="551.0,598.8 551.6,591.3 552.2,598.6 552.7,609.2" stroke="#f2621c" stroke-width="0.8"/>
<polyline points="554.5,606.8 555.1,606.0 555.7,612.1" stroke="#f2621c" stroke-width="0.8"/>
<polyline points="234.5,616.5 234.7,531.4 234.8,533.5 235.0,535.6 235.2,537.7 235.3,539.8 235.5,547.3 235.6,554.7 235.8,562.2 236.0,569.6 236.1,577.1 236.3,568.6 236.5,560.0 236.6,551.5 236.8,542.9 237.0,534.4 237.1,531.5 237.3,528.6 237.4,525.6 237.6,522.7 237.8,519.8 237.9,525.5 238.1,531.2 238.3,536.9 238.4,542.7 238.6,548.4 238.8,553.3 238.9,558.2 239.1,563.1 239.2,568.0 239.4,573.0 239.6,576.0 239.7,574.4 239.9,572.7 240.1,571.1 240.2,569.4 240.4,567.1 240.5,563.3 240.7,559.5 240.9,555.7 241.0,551.8 241.2,548.0 241.4,549.7 241.5,555.5 241.7,561.3 241.9,567.2 242.0,573.0 242.2,578.3 242.3,583.2 242.5,588.1 242.7,593.0 242.8,598.0 243.0,599.4 243.2,598.2 243.3,597.0 243.5,595.8 243.7,594.6 243.8,593.4 244.0,592.3 244.1,591.2 244.3,590.1 244.5,588.9 244.6,590.2 244.8,593.3 245.0,596.4 245.1,599.5 245.3,602.6 245.5,605.2 245.6,607.5 245.8,609.8 245.9,612.1 246.1,614.4 246.3,614.4 246.4,613.1 246.6,611.7 246.8,610.4 246.9,609.4 247.1,608.0 247.3,606.2 247.4,604.9 247.6,604.3 247.7,603.2 247.9,604.0 248.1,606.8 248.2,608.7 248.4,609.3 248.6,611.0 248.7,612.6 248.9,612.6 249.1,614.1 249.2,613.8 249.4,614.1 249.5,615.7 249.7,614.8 249.9,614.4 250.0,614.3 250.2,612.8 250.4,609.2 250.5,606.8 250.7,601.5 250.8,596.4 251.4,579.9 252.0,579.6 252.6,596.8 253.2,612.5 253.8,602.6 254.4,576.6 254.9,555.8 255.5,564.3 256.1,598.6 256.7,610.7 257.3,594.4 257.9,559.4 258.4,555.5 259.0,569.2 259.6,601.2 260.2,611.4 260.8,590.7 261.4,556.8 261.9,545.1 262.5,579.1 263.1,606.2 263.7,609.1 264.3,589.5 264.9,570.0 265.4,573.7 266.0,592.9 266.6,611.4 267.2,610.6 267.8,603.7 268.4,607.4 269.0,614.2 269.5,614.3 270.1,614.8 270.7,615.3 271.3,613.9 271.9,613.3 272.5,612.7 273.0,613.6 273.6,615.1 274.2,612.2 274.8,602.3 275.4,594.1 276.0,597.4 276.5,608.4 277.1,613.2 277.7,606.6 278.3,591.2 278.9,579.8 279.5,589.7 280.0,606.5 280.6,613.2 281.2,601.6 281.8,581.4 282.4,581.6 283.0,594.0 283.6,609.5 284.1,611.1 284.7,598.4 285.3,581.5 285.9,578.4 286.5,595.5 287.1,611.3 287.6,610.5 288.2,597.1 288.8,589.4 289.4,591.7 290.0,604.4 290.6,613.8 291.1,611.7 291.7,606.1 292.3,608.1 292.9,613.6 293.5,614.6 294.1,614.3 294.6,615.4 295.2,613.7 295.8,612.2 296.4,613.5 297.0,613.8 297.6,615.4 298.1,613.1 298.7,604.9 299.3,598.1 299.9,600.3 300.5,608.6 301.1,613.4 301.7,605.9 302.2,589.6 302.8,586.6 303.4,596.6 304.0,609.5 304.6,613.0 305.2,601.0 305.7,583.9 306.3,584.6 306.9,597.4 307.5,611.0 308.1,611.1 308.7,595.9 309.2,581.7 309.8,580.9 310.4,602.1 311.0,613.2 311.6,610.3 312.2,600.5 312.7,589.5 313.3,593.9 313.9,605.2 314.5,613.2 315.1,611.9 315.7,606.6 316.2,610.4 316.8,612.9 317.4,614.0 318.0,614.8 318.6,612.8 319.2,612.3 319.8,612.9 320.3,613.3 320.9,614.7 321.5,615.2 322.1,610.4 322.7,602.0 323.3,593.0 323.8,600.3 324.4,608.9 325.0,611.3 325.6,599.2 326.2,583.3 326.8,578.5 327.3,591.4 327.9,609.4 328.5,611.8 329.1,592.6 329.7,571.9 330.3,568.7 330.8,591.7 331.4,610.7 332.0,609.2 332.6,590.8 333.2,568.8 333.8,576.1 334.4,597.8 334.9,612.3 335.5,608.3 336.1,588.4 336.7,582.3 337.3,589.6 337.9,607.4 338.4,613.2 339.0,610.7 339.6,606.2 340.2,609.6 340.8,612.5 341.4,613.8 341.9,614.3 342.5,613.2 343.1,612.9 343.7,611.7 344.3,613.7 344.9,614.8 345.4,614.6 346.0,610.1 346.6,601.9 347.2,591.7 347.8,599.2 348.4,609.8 348.9,612.0 349.5,599.1 350.1,582.6 350.7,572.2 351.3,594.7 351.9,609.7 352.5,608.7 353.0,592.7 353.6,573.4 354.2,570.7 354.8,593.8 355.4,610.4 356.0,606.9 356.5,588.4 357.1,571.2 357.7,574.9 358.3,600.7 358.9,613.5 359.5,606.8 360.0,591.8 360.6,580.5 361.2,587.8 361.8,606.8 362.4,614.7 363.0,608.8 363.5,603.9 364.1,607.7 364.7,613.4 365.3,614.8 365.9,615.3 366.5,613.7 367.1,613.4 367.6,611.6 368.2,612.5 368.8,614.3 369.4,614.5 370.0,612.6 370.6,603.6 371.1,598.8 371.7,603.1 372.3,612.5 372.9,612.1 373.5,599.4 374.1,587.4 374.6,586.6 375.2,600.4 375.8,612.9 376.4,608.8 377.0,590.3 377.6,579.8 378.1,585.1 378.7,600.8 379.3,613.2 379.9,608.3 380.5,587.3 381.1,576.6 381.6,585.4 382.2,604.9 382.8,613.6 383.4,605.7 384.0,593.1 384.6,587.7 385.2,595.6 385.7,610.2 386.3,613.9 386.9,608.9 387.5,603.8 388.1,611.1 388.7,612.8 389.2,613.8 389.8,614.7 390.4,614.2 391.0,612.6 391.6,612.6 392.2,613.3 392.7,615.3 393.3,613.5 393.9,609.2 394.5,601.8 395.1,597.8 395.7,606.4 396.2,612.5 396.8,610.0 397.4,597.3 398.0,580.7 398.6,588.7 399.2,599.9 399.8,612.1 400.3,609.2 400.9,590.4 401.5,576.8 402.1,584.9 402.7,603.7 403.3,613.5 403.8,604.9 404.4,587.2 405.0,574.8 405.6,586.9 406.2,605.9 406.8,612.5 407.3,604.1 407.9,590.8 408.5,591.6 409.1,599.0 409.7,611.0 410.3,614.1 410.8,608.9 411.4,604.7 412.0,609.7 412.6,612.6 413.2,615.0 413.8,614.1 414.4,613.9 414.9,612.3 415.5,611.9 416.1,614.5 416.7,614.6 417.3,614.5 417.9,609.3 418.4,601.4 419.0,596.5 419.6,603.5 420.2,613.0 420.8,608.9 421.4,592.6 421.9,577.7 422.5,583.1 423.1,599.7 423.7,613.8 424.3,604.1 424.9,582.7 425.4,567.4 426.0,582.2 426.6,602.2 427.2,611.4 427.8,601.9 428.4,576.1 428.9,573.8 429.5,589.1 430.1,606.3 430.7,612.3 431.3,601.0 431.9,585.9 432.5,585.5 433.0,596.2 433.6,612.3 434.2,612.3 434.8,605.2 435.4,603.4 436.0,608.9 436.5,614.4 437.1,614.2 437.7,614.9 438.3,614.0 438.9,612.4 439.5,612.0 440.0,615.2 440.6,614.3 441.2,614.5 441.8,608.6 442.4,595.0 443.0,595.7 443.5,606.2 444.1,612.9 444.7,607.7 445.3,587.5 445.9,575.8 446.5,583.5 447.1,605.1 447.6,610.8 448.2,601.7 448.8,579.6 449.4,565.1 450.0,581.0 450.6,606.2 451.1,612.7 451.7,598.4 452.3,577.4 452.9,570.0 453.5,585.7 454.1,608.7 454.6,611.8 455.2,599.2 455.8,585.9 456.4,583.8 457.0,600.3 457.6,613.0 458.1,611.8 458.7,605.2 459.3,600.9 459.9,609.7 460.5,614.1 461.1,614.9 461.6,615.7 462.2,612.9 462.8,611.8 463.4,613.1 464.0,614.2 464.6,614.7 465.2,614.4 465.7,607.6 466.3,601.1 466.9,600.4 467.5,608.9 468.1,614.1 468.7,608.7 469.2,590.0 469.8,586.0 470.4,591.5 471.0,607.7 471.6,614.1 472.2,602.4 472.7,586.1 473.3,581.8 473.9,591.8 474.5,609.0 475.1,612.5 475.7,599.4 476.2,584.9 476.8,581.8 477.4,597.4 478.0,610.9 478.6,612.2 479.2,600.4 479.8,588.3 480.3,588.5 480.9,602.8 481.5,613.7 482.1,612.9 482.7,605.4 483.3,602.7 483.8,610.9 484.4,615.0 485.0,616.3 485.6,614.1 486.2,612.6 486.8,613.0 487.3,613.1 487.9,613.2 488.5,614.4 489.1,614.8 489.7,608.1 490.3,603.0 490.8,605.2 491.4,609.9 492.0,613.5 492.6,609.5 493.2,596.6 493.8,590.8 494.3,600.5 494.9,609.4 495.5,613.3 496.1,603.4 496.7,588.0 497.3,587.7 497.9,598.6 498.4,610.8 499.0,611.7 499.6,600.3 500.2,586.2 500.8,586.6 501.4,601.8 501.9,612.0 502.5,611.7 503.1,601.5 503.7,590.8 504.3,598.0 504.9,607.1 505.4,613.3 506.0,612.9 506.6,606.8 507.2,603.6 507.8,611.4 508.4,613.7 508.9,614.2 509.5,613.9 510.1,613.5 510.7,612.9 511.3,613.2 511.9,613.1 512.5,615.5 513.0,614.9 513.6,607.1 514.2,604.6 514.8,605.4 515.4,611.9 516.0,614.6 516.5,607.4 517.1,595.1 517.7,593.2 518.3,599.1 518.9,611.2 519.5,612.2 520.0,603.6 520.6,585.5 521.2,588.9 521.8,599.4 522.4,611.0 523.0,610.8 523.5,599.3 524.1,586.4 524.7,590.9 525.3,605.5 525.9,612.8 526.5,610.4 527.0,598.4 527.6,587.8 528.2,596.2 528.8,607.8 529.4,613.5 530.0,612.4 530.6,604.9 531.1,605.1 531.7,612.3 532.3,613.7 532.9,614.1 533.5,613.7 534.1,613.6 534.6,613.5 535.2,612.4 535.8,614.5 536.4,614.0 537.0,615.4 537.6,609.0 538.1,602.8 538.7,607.5 539.3,612.5 539.9,614.9 540.5,605.5 541.1,597.5 541.6,597.4 542.2,602.0 542.8,613.1 543.4,612.4 544.0,602.4 544.6,592.6 545.1,592.4 545.7,604.8 546.3,614.0 546.9,612.1 547.5,599.0 548.1,591.1 548.7,594.4 549.2,607.6 549.8,613.7 550.4,610.5 551.0,598.6 551.6,595.3 552.2,600.8 552.7,609.0 553.3,614.3 553.9,610.7 554.5,606.2 555.1,607.8 555.7,612.2 556.2,614.6 556.8,614.6 557.4,613.7 558.0,612.5 558.6,611.9 559.2,612.5 559.7,614.3 560.3,615.2 560.9,613.6 561.5,611.6" stroke="#f8aa18" stroke-width="0.95"/>
</g>
<line x1="46.0" y1="19.5" x2="373.0" y2="19.5" stroke="#4a4a4a" stroke-width="1"/>
<line x1="46.0" y1="273.5" x2="373.0" y2="273.5" stroke="#767676" stroke-width="1"/>
<line x1="46.5" y1="19.5" x2="46.5" y2="273.5" stroke="#7c7c7c" stroke-width="1"/>
<line x1="372.5" y1="19.5" x2="372.5" y2="273.5" stroke="#747474" stroke-width="1"/>
<line x1="46.50" y1="273.50" x2="49.80" y2="273.50" stroke="#262626" stroke-width="0.7"/>
<line x1="372.50" y1="273.50" x2="369.20" y2="273.50" stroke="#262626" stroke-width="0.7"/>
<text x="41.90" y="279.00" text-anchor="end" class="tk">0</text>
<line x1="46.50" y1="241.75" x2="49.80" y2="241.75" stroke="#262626" stroke-width="0.7"/>
<line x1="372.50" y1="241.75" x2="369.20" y2="241.75" stroke="#262626" stroke-width="0.7"/>
<text x="41.90" y="247.25" text-anchor="end" class="tk">0.5</text>
<line x1="46.50" y1="210.00" x2="49.80" y2="210.00" stroke="#262626" stroke-width="0.7"/>
<line x1="372.50" y1="210.00" x2="369.20" y2="210.00" stroke="#262626" stroke-width="0.7"/>
<text x="41.90" y="215.50" text-anchor="end" class="tk">1</text>
<line x1="46.50" y1="178.25" x2="49.80" y2="178.25" stroke="#262626" stroke-width="0.7"/>
<line x1="372.50" y1="178.25" x2="369.20" y2="178.25" stroke="#262626" stroke-width="0.7"/>
<text x="41.90" y="183.75" text-anchor="end" class="tk">1.5</text>
<line x1="46.50" y1="146.50" x2="49.80" y2="146.50" stroke="#262626" stroke-width="0.7"/>
<line x1="372.50" y1="146.50" x2="369.20" y2="146.50" stroke="#262626" stroke-width="0.7"/>
<text x="41.90" y="152.00" text-anchor="end" class="tk">2</text>
<line x1="46.50" y1="114.75" x2="49.80" y2="114.75" stroke="#262626" stroke-width="0.7"/>
<line x1="372.50" y1="114.75" x2="369.20" y2="114.75" stroke="#262626" stroke-width="0.7"/>
<text x="41.90" y="120.25" text-anchor="end" class="tk">2.5</text>
<line x1="46.50" y1="83.00" x2="49.80" y2="83.00" stroke="#262626" stroke-width="0.7"/>
<line x1="372.50" y1="83.00" x2="369.20" y2="83.00" stroke="#262626" stroke-width="0.7"/>
<text x="41.90" y="88.50" text-anchor="end" class="tk">3</text>
<line x1="46.50" y1="51.25" x2="49.80" y2="51.25" stroke="#262626" stroke-width="0.7"/>
<line x1="372.50" y1="51.25" x2="369.20" y2="51.25" stroke="#262626" stroke-width="0.7"/>
<text x="41.90" y="56.75" text-anchor="end" class="tk">3.5</text>
<line x1="46.50" y1="19.50" x2="49.80" y2="19.50" stroke="#262626" stroke-width="0.7"/>
<line x1="372.50" y1="19.50" x2="369.20" y2="19.50" stroke="#262626" stroke-width="0.7"/>
<text x="41.90" y="25.00" text-anchor="end" class="tk">4</text>
<line x1="46.50" y1="273.50" x2="46.50" y2="270.20" stroke="#262626" stroke-width="0.7"/>
<line x1="46.50" y1="19.50" x2="46.50" y2="22.80" stroke="#262626" stroke-width="0.9"/>
<text x="46.50" y="291.60" text-anchor="middle" class="tk">0</text>
<line x1="93.07" y1="273.50" x2="93.07" y2="270.20" stroke="#262626" stroke-width="0.7"/>
<line x1="93.07" y1="19.50" x2="93.07" y2="22.80" stroke="#262626" stroke-width="0.9"/>
<text x="93.07" y="291.60" text-anchor="middle" class="tk">20</text>
<line x1="139.64" y1="273.50" x2="139.64" y2="270.20" stroke="#262626" stroke-width="0.7"/>
<line x1="139.64" y1="19.50" x2="139.64" y2="22.80" stroke="#262626" stroke-width="0.9"/>
<text x="139.64" y="291.60" text-anchor="middle" class="tk">40</text>
<line x1="186.21" y1="273.50" x2="186.21" y2="270.20" stroke="#262626" stroke-width="0.7"/>
<line x1="186.21" y1="19.50" x2="186.21" y2="22.80" stroke="#262626" stroke-width="0.9"/>
<text x="186.21" y="291.60" text-anchor="middle" class="tk">60</text>
<line x1="232.79" y1="273.50" x2="232.79" y2="270.20" stroke="#262626" stroke-width="0.7"/>
<line x1="232.79" y1="19.50" x2="232.79" y2="22.80" stroke="#262626" stroke-width="0.9"/>
<text x="232.79" y="291.60" text-anchor="middle" class="tk">80</text>
<line x1="279.36" y1="273.50" x2="279.36" y2="270.20" stroke="#262626" stroke-width="0.7"/>
<line x1="279.36" y1="19.50" x2="279.36" y2="22.80" stroke="#262626" stroke-width="0.9"/>
<text x="279.36" y="291.60" text-anchor="middle" class="tk">100</text>
<line x1="325.93" y1="273.50" x2="325.93" y2="270.20" stroke="#262626" stroke-width="0.7"/>
<line x1="325.93" y1="19.50" x2="325.93" y2="22.80" stroke="#262626" stroke-width="0.9"/>
<text x="325.93" y="291.60" text-anchor="middle" class="tk">120</text>
<line x1="372.50" y1="273.50" x2="372.50" y2="270.20" stroke="#262626" stroke-width="0.7"/>
<line x1="372.50" y1="19.50" x2="372.50" y2="22.80" stroke="#262626" stroke-width="0.9"/>
<text x="372.50" y="291.60" text-anchor="middle" class="tk">140</text>
<text x="47.50" y="16.50" class="tk"><tspan font-size="14" dy="1.2">×</tspan><tspan dx="1" dy="-1.2">10</tspan><tspan font-size="9" dx="-0.5" dy="-4.8">−3</tspan></text>
<text transform="translate(19.00,145.70) rotate(-90)" text-anchor="middle" class="lb">Peak Amplitude (m/s<tspan font-size="10.8" dy="-6.0">2</tspan><tspan dy="6.0">)</tspan></text>
<text x="210.50" y="309.00" text-anchor="middle" class="lbx">Frequency (Hz)</text>
<line x1="424.0" y1="21.5" x2="751.0" y2="21.5" stroke="#404040" stroke-width="1"/>
<line x1="424.0" y1="275.5" x2="751.0" y2="275.5" stroke="#7c7c7c" stroke-width="1"/>
<line x1="424.5" y1="21.5" x2="424.5" y2="275.5" stroke="#7c7c7c" stroke-width="1"/>
<line x1="750.5" y1="21.5" x2="750.5" y2="275.5" stroke="#6a6a6a" stroke-width="1"/>
<line x1="424.50" y1="275.50" x2="427.80" y2="275.50" stroke="#262626" stroke-width="0.7"/>
<line x1="750.50" y1="275.50" x2="747.20" y2="275.50" stroke="#262626" stroke-width="0.7"/>
<text x="419.90" y="281.00" text-anchor="end" class="tk">0</text>
<line x1="424.50" y1="243.75" x2="427.80" y2="243.75" stroke="#262626" stroke-width="0.7"/>
<line x1="750.50" y1="243.75" x2="747.20" y2="243.75" stroke="#262626" stroke-width="0.7"/>
<text x="419.90" y="249.25" text-anchor="end" class="tk">0.5</text>
<line x1="424.50" y1="212.00" x2="427.80" y2="212.00" stroke="#262626" stroke-width="0.7"/>
<line x1="750.50" y1="212.00" x2="747.20" y2="212.00" stroke="#262626" stroke-width="0.7"/>
<text x="419.90" y="217.50" text-anchor="end" class="tk">1</text>
<line x1="424.50" y1="180.25" x2="427.80" y2="180.25" stroke="#262626" stroke-width="0.7"/>
<line x1="750.50" y1="180.25" x2="747.20" y2="180.25" stroke="#262626" stroke-width="0.7"/>
<text x="419.90" y="185.75" text-anchor="end" class="tk">1.5</text>
<line x1="424.50" y1="148.50" x2="427.80" y2="148.50" stroke="#262626" stroke-width="0.7"/>
<line x1="750.50" y1="148.50" x2="747.20" y2="148.50" stroke="#262626" stroke-width="0.7"/>
<text x="419.90" y="154.00" text-anchor="end" class="tk">2</text>
<line x1="424.50" y1="116.75" x2="427.80" y2="116.75" stroke="#262626" stroke-width="0.7"/>
<line x1="750.50" y1="116.75" x2="747.20" y2="116.75" stroke="#262626" stroke-width="0.7"/>
<text x="419.90" y="122.25" text-anchor="end" class="tk">2.5</text>
<line x1="424.50" y1="85.00" x2="427.80" y2="85.00" stroke="#262626" stroke-width="0.7"/>
<line x1="750.50" y1="85.00" x2="747.20" y2="85.00" stroke="#262626" stroke-width="0.7"/>
<text x="419.90" y="90.50" text-anchor="end" class="tk">3</text>
<line x1="424.50" y1="53.25" x2="427.80" y2="53.25" stroke="#262626" stroke-width="0.7"/>
<line x1="750.50" y1="53.25" x2="747.20" y2="53.25" stroke="#262626" stroke-width="0.7"/>
<text x="419.90" y="58.75" text-anchor="end" class="tk">3.5</text>
<line x1="424.50" y1="21.50" x2="427.80" y2="21.50" stroke="#262626" stroke-width="0.7"/>
<line x1="750.50" y1="21.50" x2="747.20" y2="21.50" stroke="#262626" stroke-width="0.7"/>
<text x="419.90" y="27.00" text-anchor="end" class="tk">4</text>
<line x1="424.50" y1="275.50" x2="424.50" y2="272.20" stroke="#262626" stroke-width="0.7"/>
<line x1="424.50" y1="21.50" x2="424.50" y2="24.80" stroke="#262626" stroke-width="0.9"/>
<text x="424.50" y="293.60" text-anchor="middle" class="tk">0</text>
<line x1="471.07" y1="275.50" x2="471.07" y2="272.20" stroke="#262626" stroke-width="0.7"/>
<line x1="471.07" y1="21.50" x2="471.07" y2="24.80" stroke="#262626" stroke-width="0.9"/>
<text x="471.07" y="293.60" text-anchor="middle" class="tk">20</text>
<line x1="517.64" y1="275.50" x2="517.64" y2="272.20" stroke="#262626" stroke-width="0.7"/>
<line x1="517.64" y1="21.50" x2="517.64" y2="24.80" stroke="#262626" stroke-width="0.9"/>
<text x="517.64" y="293.60" text-anchor="middle" class="tk">40</text>
<line x1="564.21" y1="275.50" x2="564.21" y2="272.20" stroke="#262626" stroke-width="0.7"/>
<line x1="564.21" y1="21.50" x2="564.21" y2="24.80" stroke="#262626" stroke-width="0.9"/>
<text x="564.21" y="293.60" text-anchor="middle" class="tk">60</text>
<line x1="610.79" y1="275.50" x2="610.79" y2="272.20" stroke="#262626" stroke-width="0.7"/>
<line x1="610.79" y1="21.50" x2="610.79" y2="24.80" stroke="#262626" stroke-width="0.9"/>
<text x="610.79" y="293.60" text-anchor="middle" class="tk">80</text>
<line x1="657.36" y1="275.50" x2="657.36" y2="272.20" stroke="#262626" stroke-width="0.7"/>
<line x1="657.36" y1="21.50" x2="657.36" y2="24.80" stroke="#262626" stroke-width="0.9"/>
<text x="657.36" y="293.60" text-anchor="middle" class="tk">100</text>
<line x1="703.93" y1="275.50" x2="703.93" y2="272.20" stroke="#262626" stroke-width="0.7"/>
<line x1="703.93" y1="21.50" x2="703.93" y2="24.80" stroke="#262626" stroke-width="0.9"/>
<text x="703.93" y="293.60" text-anchor="middle" class="tk">120</text>
<line x1="750.50" y1="275.50" x2="750.50" y2="272.20" stroke="#262626" stroke-width="0.7"/>
<line x1="750.50" y1="21.50" x2="750.50" y2="24.80" stroke="#262626" stroke-width="0.9"/>
<text x="750.50" y="293.60" text-anchor="middle" class="tk">140</text>
<text x="425.50" y="18.50" class="tk"><tspan font-size="14" dy="1.2">×</tspan><tspan dx="1" dy="-1.2">10</tspan><tspan font-size="9" dx="-0.5" dy="-4.8">−3</tspan></text>
<text transform="translate(397.00,147.70) rotate(-90)" text-anchor="middle" class="lb">Peak Amplitude (m/s<tspan font-size="10.8" dy="-6.0">2</tspan><tspan dy="6.0">)</tspan></text>
<text x="588.50" y="311.00" text-anchor="middle" class="lbx">Frequency (Hz)</text>
<line x1="234.0" y1="361.5" x2="562.0" y2="361.5" stroke="#404040" stroke-width="1"/>
<line x1="234.0" y1="616.5" x2="562.0" y2="616.5" stroke="#505050" stroke-width="1"/>
<line x1="234.5" y1="361.5" x2="234.5" y2="616.5" stroke="#7c7c7c" stroke-width="1"/>
<line x1="561.5" y1="361.5" x2="561.5" y2="616.5" stroke="#6e6e6e" stroke-width="1"/>
<line x1="234.50" y1="616.50" x2="237.80" y2="616.50" stroke="#262626" stroke-width="0.7"/>
<line x1="561.50" y1="616.50" x2="558.20" y2="616.50" stroke="#262626" stroke-width="0.7"/>
<text x="229.90" y="622.00" text-anchor="end" class="tk">0</text>
<line x1="234.50" y1="584.62" x2="237.80" y2="584.62" stroke="#262626" stroke-width="0.7"/>
<line x1="561.50" y1="584.62" x2="558.20" y2="584.62" stroke="#262626" stroke-width="0.7"/>
<text x="229.90" y="590.12" text-anchor="end" class="tk">0.5</text>
<line x1="234.50" y1="552.75" x2="237.80" y2="552.75" stroke="#262626" stroke-width="0.7"/>
<line x1="561.50" y1="552.75" x2="558.20" y2="552.75" stroke="#262626" stroke-width="0.7"/>
<text x="229.90" y="558.25" text-anchor="end" class="tk">1</text>
<line x1="234.50" y1="520.88" x2="237.80" y2="520.88" stroke="#262626" stroke-width="0.7"/>
<line x1="561.50" y1="520.88" x2="558.20" y2="520.88" stroke="#262626" stroke-width="0.7"/>
<text x="229.90" y="526.38" text-anchor="end" class="tk">1.5</text>
<line x1="234.50" y1="489.00" x2="237.80" y2="489.00" stroke="#262626" stroke-width="0.7"/>
<line x1="561.50" y1="489.00" x2="558.20" y2="489.00" stroke="#262626" stroke-width="0.7"/>
<text x="229.90" y="494.50" text-anchor="end" class="tk">2</text>
<line x1="234.50" y1="457.12" x2="237.80" y2="457.12" stroke="#262626" stroke-width="0.7"/>
<line x1="561.50" y1="457.12" x2="558.20" y2="457.12" stroke="#262626" stroke-width="0.7"/>
<text x="229.90" y="462.62" text-anchor="end" class="tk">2.5</text>
<line x1="234.50" y1="425.25" x2="237.80" y2="425.25" stroke="#262626" stroke-width="0.7"/>
<line x1="561.50" y1="425.25" x2="558.20" y2="425.25" stroke="#262626" stroke-width="0.7"/>
<text x="229.90" y="430.75" text-anchor="end" class="tk">3</text>
<line x1="234.50" y1="393.38" x2="237.80" y2="393.38" stroke="#262626" stroke-width="0.7"/>
<line x1="561.50" y1="393.38" x2="558.20" y2="393.38" stroke="#262626" stroke-width="0.7"/>
<text x="229.90" y="398.88" text-anchor="end" class="tk">3.5</text>
<line x1="234.50" y1="361.50" x2="237.80" y2="361.50" stroke="#262626" stroke-width="0.7"/>
<line x1="561.50" y1="361.50" x2="558.20" y2="361.50" stroke="#262626" stroke-width="0.7"/>
<text x="229.90" y="367.00" text-anchor="end" class="tk">4</text>
<line x1="234.50" y1="616.50" x2="234.50" y2="613.20" stroke="#262626" stroke-width="0.7"/>
<line x1="234.50" y1="361.50" x2="234.50" y2="364.80" stroke="#262626" stroke-width="0.9"/>
<text x="234.50" y="634.60" text-anchor="middle" class="tk">0</text>
<line x1="281.21" y1="616.50" x2="281.21" y2="613.20" stroke="#262626" stroke-width="0.7"/>
<line x1="281.21" y1="361.50" x2="281.21" y2="364.80" stroke="#262626" stroke-width="0.9"/>
<text x="281.21" y="634.60" text-anchor="middle" class="tk">20</text>
<line x1="327.93" y1="616.50" x2="327.93" y2="613.20" stroke="#262626" stroke-width="0.7"/>
<line x1="327.93" y1="361.50" x2="327.93" y2="364.80" stroke="#262626" stroke-width="0.9"/>
<text x="327.93" y="634.60" text-anchor="middle" class="tk">40</text>
<line x1="374.64" y1="616.50" x2="374.64" y2="613.20" stroke="#262626" stroke-width="0.7"/>
<line x1="374.64" y1="361.50" x2="374.64" y2="364.80" stroke="#262626" stroke-width="0.9"/>
<text x="374.64" y="634.60" text-anchor="middle" class="tk">60</text>
<line x1="421.36" y1="616.50" x2="421.36" y2="613.20" stroke="#262626" stroke-width="0.7"/>
<line x1="421.36" y1="361.50" x2="421.36" y2="364.80" stroke="#262626" stroke-width="0.9"/>
<text x="421.36" y="634.60" text-anchor="middle" class="tk">80</text>
<line x1="468.07" y1="616.50" x2="468.07" y2="613.20" stroke="#262626" stroke-width="0.7"/>
<line x1="468.07" y1="361.50" x2="468.07" y2="364.80" stroke="#262626" stroke-width="0.9"/>
<text x="468.07" y="634.60" text-anchor="middle" class="tk">100</text>
<line x1="514.79" y1="616.50" x2="514.79" y2="613.20" stroke="#262626" stroke-width="0.7"/>
<line x1="514.79" y1="361.50" x2="514.79" y2="364.80" stroke="#262626" stroke-width="0.9"/>
<text x="514.79" y="634.60" text-anchor="middle" class="tk">120</text>
<line x1="561.50" y1="616.50" x2="561.50" y2="613.20" stroke="#262626" stroke-width="0.7"/>
<line x1="561.50" y1="361.50" x2="561.50" y2="364.80" stroke="#262626" stroke-width="0.9"/>
<text x="561.50" y="634.60" text-anchor="middle" class="tk">140</text>
<text x="235.50" y="358.50" class="tk"><tspan font-size="14" dy="1.2">×</tspan><tspan dx="1" dy="-1.2">10</tspan><tspan font-size="9" dx="-0.5" dy="-4.8">−3</tspan></text>
<text transform="translate(207.00,488.20) rotate(-90)" text-anchor="middle" class="lb">Peak Amplitude (m/s<tspan font-size="10.8" dy="-6.0">2</tspan><tspan dy="6.0">)</tspan></text>
<text x="399.00" y="652.00" text-anchor="middle" class="lbx">Frequency (Hz)</text>
<rect x="250.5" y="24.5" width="117.0" height="134.0" fill="#fff" stroke="#7a7a7a" stroke-width="1"/>
<line x1="253.2" y1="32.60" x2="282.7" y2="32.60" stroke="#0072BD" stroke-width="0.9"/>
<text x="285.8" y="36.10" class="lg">Accelerometer 1</text>
<line x1="253.2" y1="45.76" x2="282.7" y2="45.76" stroke="#D95319" stroke-width="0.9"/>
<text x="285.8" y="49.26" class="lg">Accelerometer 2</text>
<line x1="253.2" y1="58.92" x2="282.7" y2="58.92" stroke="#EDB120" stroke-width="0.9"/>
<text x="285.8" y="62.42" class="lg">Accelerometer 3</text>
<line x1="253.2" y1="72.08" x2="282.7" y2="72.08" stroke="#7E2F8E" stroke-width="0.9"/>
<text x="285.8" y="75.58" class="lg">Accelerometer 4</text>
<line x1="253.2" y1="85.24" x2="282.7" y2="85.24" stroke="#77AC30" stroke-width="0.9"/>
<text x="285.8" y="88.74" class="lg">Accelerometer 5</text>
<line x1="253.2" y1="98.40" x2="282.7" y2="98.40" stroke="#4DBEEE" stroke-width="0.9"/>
<text x="285.8" y="101.90" class="lg">Accelerometer 6</text>
<line x1="253.2" y1="111.56" x2="282.7" y2="111.56" stroke="#A2142F" stroke-width="0.9"/>
<text x="285.8" y="115.06" class="lg">Accelerometer 7</text>
<line x1="253.2" y1="124.72" x2="282.7" y2="124.72" stroke="#0072BD" stroke-width="0.9"/>
<text x="285.8" y="128.22" class="lg">Accelerometer 8</text>
<line x1="253.2" y1="137.88" x2="282.7" y2="137.88" stroke="#D95319" stroke-width="0.9"/>
<text x="285.8" y="141.38" class="lg">Accelerometer 9</text>
<line x1="253.2" y1="151.04" x2="282.7" y2="151.04" stroke="#EDB120" stroke-width="0.9"/>
<text x="285.8" y="154.54" class="lg">Accelerometer 10</text>
<text x="194.3" y="337.5" text-anchor="middle" class="cap">(<tspan font-weight="bold">a</tspan>)</text>
<text x="572.3" y="337.5" text-anchor="middle" class="cap">(<tspan font-weight="bold">b</tspan>)</text>
<text x="383.3" y="681.0" text-anchor="middle" class="cap">(<tspan font-weight="bold">c</tspan>)</text>
</svg></body></html>
